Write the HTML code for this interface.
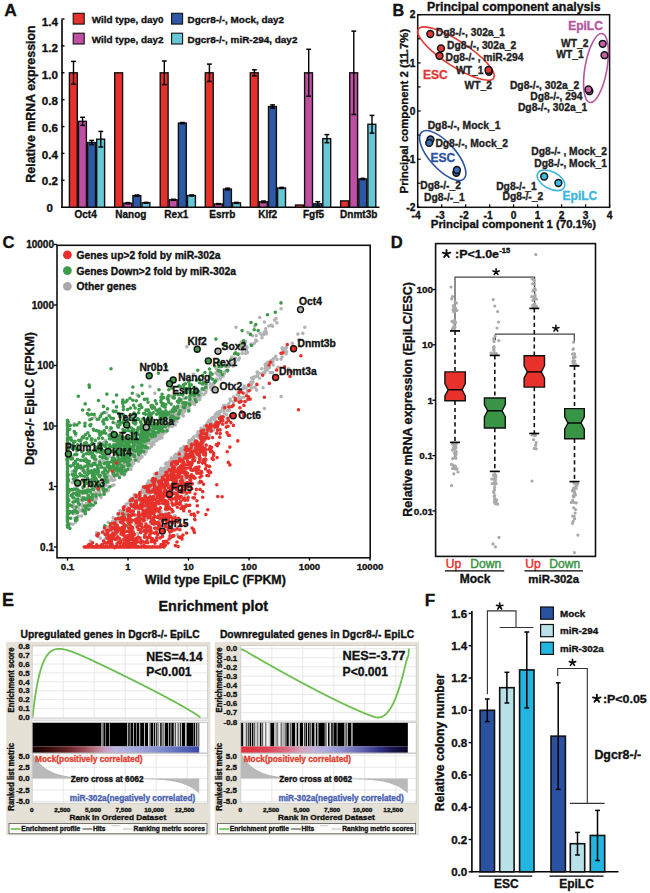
<!DOCTYPE html>
<html><head><meta charset="utf-8"><style>
html,body{margin:0;padding:0;background:#fff;}
svg{display:block;}
</style></head><body>
<svg width="650" height="893" viewBox="0 0 650 893">
<rect width="650" height="893" fill="#fff"/>
<g font-family='"Liberation Sans", sans-serif' font-weight="bold" fill="#111">
<text x="4.3" y="16.3" font-size="17.4" stroke="#111" stroke-width="0.34">A</text>
<rect x="73.20" y="13.30" width="11.00" height="10.80" fill="#e5302b" stroke="#111" stroke-width="1.1"/>
<rect x="73.20" y="33.20" width="11.00" height="10.80" fill="#c04ea3" stroke="#111" stroke-width="1.1"/>
<rect x="171.60" y="13.30" width="11.00" height="10.80" fill="#2c58a6" stroke="#111" stroke-width="1.1"/>
<rect x="171.60" y="33.20" width="11.00" height="10.80" fill="#66c8d6" stroke="#111" stroke-width="1.1"/>
<text x="91.7" y="22.9" font-size="9.9" stroke="#111" stroke-width="0.34">Wild type, day0</text>
<text x="91.7" y="43.0" font-size="9.9" stroke="#111" stroke-width="0.34">Wild type, day2</text>
<text x="187.5" y="22.9" font-size="9.95" stroke="#111" stroke-width="0.34">Dgcr8-/-, Mock, day2</text>
<text x="187.5" y="43.0" font-size="9.95" stroke="#111" stroke-width="0.34">Dgcr8-/-, miR-294, day2</text>
<line x1="62.0" y1="19.5" x2="62.0" y2="208.0" stroke="#000" stroke-width="1.6"/>
<line x1="61.2" y1="207.2" x2="379.5" y2="207.2" stroke="#000" stroke-width="1.6"/>
<text x="49.8" y="211.7" font-size="11.6" text-anchor="middle" stroke="#111" stroke-width="0.34">0</text>
<line x1="61.5" y1="180.3" x2="64.5" y2="180.3" stroke="#000" stroke-width="1.4"/>
<text x="49.8" y="185.1" font-size="11.6" text-anchor="middle" stroke="#111" stroke-width="0.34">0.2</text>
<line x1="61.5" y1="153.4" x2="64.5" y2="153.4" stroke="#000" stroke-width="1.4"/>
<text x="49.8" y="158.5" font-size="11.6" text-anchor="middle" stroke="#111" stroke-width="0.34">0.4</text>
<line x1="61.5" y1="126.6" x2="64.5" y2="126.6" stroke="#000" stroke-width="1.4"/>
<text x="49.8" y="131.9" font-size="11.6" text-anchor="middle" stroke="#111" stroke-width="0.34">0.6</text>
<line x1="61.5" y1="99.7" x2="64.5" y2="99.7" stroke="#000" stroke-width="1.4"/>
<text x="49.8" y="105.3" font-size="11.6" text-anchor="middle" stroke="#111" stroke-width="0.34">0.8</text>
<line x1="61.5" y1="72.8" x2="64.5" y2="72.8" stroke="#000" stroke-width="1.4"/>
<text x="49.8" y="78.8" font-size="11.6" text-anchor="middle" stroke="#111" stroke-width="0.34">1.0</text>
<line x1="61.5" y1="45.9" x2="64.5" y2="45.9" stroke="#000" stroke-width="1.4"/>
<text x="49.8" y="52.2" font-size="11.6" text-anchor="middle" stroke="#111" stroke-width="0.34">1.2</text>
<line x1="61.5" y1="19.0" x2="64.5" y2="19.0" stroke="#000" stroke-width="1.4"/>
<text x="49.8" y="25.6" font-size="11.6" text-anchor="middle" stroke="#111" stroke-width="0.34">1.4</text>
<text transform="translate(35.0,104.0) rotate(-90)" font-size="12.4" text-anchor="middle" stroke="#111" stroke-width="0.34">Relative mRNA expression</text>
<rect x="69.40" y="72.80" width="7.90" height="134.40" fill="#e5302b" stroke="#111" stroke-width="1.4"/>
<line x1="73.5" y1="61.4" x2="73.5" y2="84.2" stroke="#000" stroke-width="1.4"/>
<line x1="71.1" y1="61.4" x2="75.9" y2="61.4" stroke="#000" stroke-width="1.5"/>
<line x1="71.1" y1="84.2" x2="75.9" y2="84.2" stroke="#000" stroke-width="1.5"/>
<rect x="78.50" y="121.32" width="7.90" height="85.88" fill="#c04ea3" stroke="#111" stroke-width="1.4"/>
<line x1="82.6" y1="117.3" x2="82.6" y2="125.4" stroke="#000" stroke-width="1.4"/>
<line x1="80.2" y1="117.3" x2="85.0" y2="117.3" stroke="#000" stroke-width="1.5"/>
<line x1="80.2" y1="125.4" x2="85.0" y2="125.4" stroke="#000" stroke-width="1.5"/>
<rect x="87.60" y="142.55" width="7.90" height="64.65" fill="#2c58a6" stroke="#111" stroke-width="1.4"/>
<line x1="91.7" y1="140.4" x2="91.7" y2="144.7" stroke="#000" stroke-width="1.4"/>
<line x1="89.3" y1="140.4" x2="94.1" y2="140.4" stroke="#000" stroke-width="1.5"/>
<line x1="89.3" y1="144.7" x2="94.1" y2="144.7" stroke="#000" stroke-width="1.5"/>
<rect x="96.70" y="139.19" width="7.90" height="68.01" fill="#66c8d6" stroke="#111" stroke-width="1.4"/>
<line x1="100.8" y1="131.4" x2="100.8" y2="147.0" stroke="#000" stroke-width="1.4"/>
<line x1="98.4" y1="131.4" x2="103.2" y2="131.4" stroke="#000" stroke-width="1.5"/>
<line x1="98.4" y1="147.0" x2="103.2" y2="147.0" stroke="#000" stroke-width="1.5"/>
<text x="85.6" y="217.6" font-size="10.0" text-anchor="middle" stroke="#111" stroke-width="0.34">Oct4</text>
<rect x="114.70" y="72.80" width="7.90" height="134.40" fill="#e5302b" stroke="#111" stroke-width="1.4"/>
<rect x="123.80" y="203.17" width="7.90" height="4.03" fill="#c04ea3" stroke="#111" stroke-width="1.4"/>
<line x1="127.9" y1="202.6" x2="127.9" y2="203.7" stroke="#000" stroke-width="1.4"/>
<line x1="125.5" y1="202.6" x2="130.3" y2="202.6" stroke="#000" stroke-width="1.5"/>
<line x1="125.5" y1="203.7" x2="130.3" y2="203.7" stroke="#000" stroke-width="1.5"/>
<rect x="132.90" y="195.64" width="7.90" height="11.56" fill="#2c58a6" stroke="#111" stroke-width="1.4"/>
<line x1="137.0" y1="195.0" x2="137.0" y2="196.3" stroke="#000" stroke-width="1.4"/>
<line x1="134.6" y1="195.0" x2="139.4" y2="195.0" stroke="#000" stroke-width="1.5"/>
<line x1="134.6" y1="196.3" x2="139.4" y2="196.3" stroke="#000" stroke-width="1.5"/>
<rect x="142.00" y="202.76" width="7.90" height="4.44" fill="#66c8d6" stroke="#111" stroke-width="1.4"/>
<line x1="146.1" y1="202.4" x2="146.1" y2="203.2" stroke="#000" stroke-width="1.4"/>
<line x1="143.7" y1="202.4" x2="148.5" y2="202.4" stroke="#000" stroke-width="1.5"/>
<line x1="143.7" y1="203.2" x2="148.5" y2="203.2" stroke="#000" stroke-width="1.5"/>
<text x="130.8" y="217.6" font-size="10.0" text-anchor="middle" stroke="#111" stroke-width="0.34">Nanog</text>
<rect x="160.20" y="72.80" width="7.90" height="134.40" fill="#e5302b" stroke="#111" stroke-width="1.4"/>
<line x1="164.3" y1="61.0" x2="164.3" y2="84.6" stroke="#000" stroke-width="1.4"/>
<line x1="161.9" y1="61.0" x2="166.7" y2="61.0" stroke="#000" stroke-width="1.5"/>
<line x1="161.9" y1="84.6" x2="166.7" y2="84.6" stroke="#000" stroke-width="1.5"/>
<rect x="169.30" y="199.81" width="7.90" height="7.39" fill="#c04ea3" stroke="#111" stroke-width="1.4"/>
<line x1="173.4" y1="199.3" x2="173.4" y2="200.3" stroke="#000" stroke-width="1.4"/>
<line x1="171.0" y1="199.3" x2="175.8" y2="199.3" stroke="#000" stroke-width="1.5"/>
<line x1="171.0" y1="200.3" x2="175.8" y2="200.3" stroke="#000" stroke-width="1.5"/>
<rect x="178.40" y="123.07" width="7.90" height="84.13" fill="#2c58a6" stroke="#111" stroke-width="1.4"/>
<line x1="182.5" y1="122.5" x2="182.5" y2="123.6" stroke="#000" stroke-width="1.4"/>
<line x1="180.1" y1="122.5" x2="184.9" y2="122.5" stroke="#000" stroke-width="1.5"/>
<line x1="180.1" y1="123.6" x2="184.9" y2="123.6" stroke="#000" stroke-width="1.5"/>
<rect x="187.50" y="195.51" width="7.90" height="11.69" fill="#66c8d6" stroke="#111" stroke-width="1.4"/>
<line x1="191.6" y1="195.0" x2="191.6" y2="196.0" stroke="#000" stroke-width="1.4"/>
<line x1="189.2" y1="195.0" x2="194.0" y2="195.0" stroke="#000" stroke-width="1.5"/>
<line x1="189.2" y1="196.0" x2="194.0" y2="196.0" stroke="#000" stroke-width="1.5"/>
<text x="176.3" y="217.6" font-size="10.0" text-anchor="middle" stroke="#111" stroke-width="0.34">Rex1</text>
<rect x="205.30" y="72.80" width="7.90" height="134.40" fill="#e5302b" stroke="#111" stroke-width="1.4"/>
<line x1="209.4" y1="64.1" x2="209.4" y2="81.5" stroke="#000" stroke-width="1.4"/>
<line x1="207.0" y1="64.1" x2="211.8" y2="64.1" stroke="#000" stroke-width="1.5"/>
<line x1="207.0" y1="81.5" x2="211.8" y2="81.5" stroke="#000" stroke-width="1.5"/>
<rect x="214.40" y="203.97" width="7.90" height="3.23" fill="#c04ea3" stroke="#111" stroke-width="1.4"/>
<line x1="218.5" y1="203.6" x2="218.5" y2="204.4" stroke="#000" stroke-width="1.4"/>
<line x1="216.1" y1="203.6" x2="220.9" y2="203.6" stroke="#000" stroke-width="1.5"/>
<line x1="216.1" y1="204.4" x2="220.9" y2="204.4" stroke="#000" stroke-width="1.5"/>
<rect x="223.50" y="189.06" width="7.90" height="18.14" fill="#2c58a6" stroke="#111" stroke-width="1.4"/>
<line x1="227.6" y1="188.2" x2="227.6" y2="189.9" stroke="#000" stroke-width="1.4"/>
<line x1="225.2" y1="188.2" x2="230.0" y2="188.2" stroke="#000" stroke-width="1.5"/>
<line x1="225.2" y1="189.9" x2="230.0" y2="189.9" stroke="#000" stroke-width="1.5"/>
<rect x="232.60" y="202.90" width="7.90" height="4.30" fill="#66c8d6" stroke="#111" stroke-width="1.4"/>
<line x1="236.7" y1="202.4" x2="236.7" y2="203.4" stroke="#000" stroke-width="1.4"/>
<line x1="234.3" y1="202.4" x2="239.1" y2="202.4" stroke="#000" stroke-width="1.5"/>
<line x1="234.3" y1="203.4" x2="239.1" y2="203.4" stroke="#000" stroke-width="1.5"/>
<text x="222.3" y="217.6" font-size="10.0" text-anchor="middle" stroke="#111" stroke-width="0.34">Esrrb</text>
<rect x="250.30" y="72.80" width="7.90" height="134.40" fill="#e5302b" stroke="#111" stroke-width="1.4"/>
<line x1="254.4" y1="69.8" x2="254.4" y2="75.8" stroke="#000" stroke-width="1.4"/>
<line x1="252.0" y1="69.8" x2="256.8" y2="69.8" stroke="#000" stroke-width="1.5"/>
<line x1="252.0" y1="75.8" x2="256.8" y2="75.8" stroke="#000" stroke-width="1.5"/>
<rect x="259.40" y="201.82" width="7.90" height="5.38" fill="#c04ea3" stroke="#111" stroke-width="1.4"/>
<line x1="263.5" y1="201.0" x2="263.5" y2="202.6" stroke="#000" stroke-width="1.4"/>
<line x1="261.1" y1="201.0" x2="265.9" y2="201.0" stroke="#000" stroke-width="1.5"/>
<line x1="261.1" y1="202.6" x2="265.9" y2="202.6" stroke="#000" stroke-width="1.5"/>
<rect x="268.50" y="106.53" width="7.90" height="100.67" fill="#2c58a6" stroke="#111" stroke-width="1.4"/>
<line x1="272.6" y1="104.9" x2="272.6" y2="108.1" stroke="#000" stroke-width="1.4"/>
<line x1="270.2" y1="104.9" x2="275.0" y2="104.9" stroke="#000" stroke-width="1.5"/>
<line x1="270.2" y1="108.1" x2="275.0" y2="108.1" stroke="#000" stroke-width="1.5"/>
<rect x="277.60" y="187.98" width="7.90" height="19.22" fill="#66c8d6" stroke="#111" stroke-width="1.4"/>
<line x1="281.7" y1="187.4" x2="281.7" y2="188.5" stroke="#000" stroke-width="1.4"/>
<line x1="279.3" y1="187.4" x2="284.1" y2="187.4" stroke="#000" stroke-width="1.5"/>
<line x1="279.3" y1="188.5" x2="284.1" y2="188.5" stroke="#000" stroke-width="1.5"/>
<text x="267.7" y="217.6" font-size="10.0" text-anchor="middle" stroke="#111" stroke-width="0.34">Klf2</text>
<rect x="295.50" y="205.05" width="7.90" height="2.15" fill="#e5302b" stroke="#111" stroke-width="1.4"/>
<rect x="304.60" y="72.80" width="7.90" height="134.40" fill="#c04ea3" stroke="#111" stroke-width="1.4"/>
<line x1="308.7" y1="49.3" x2="308.7" y2="96.3" stroke="#000" stroke-width="1.4"/>
<line x1="306.3" y1="49.3" x2="311.1" y2="49.3" stroke="#000" stroke-width="1.5"/>
<line x1="306.3" y1="96.3" x2="311.1" y2="96.3" stroke="#000" stroke-width="1.5"/>
<rect x="313.70" y="203.84" width="7.90" height="3.36" fill="#2c58a6" stroke="#111" stroke-width="1.4"/>
<line x1="317.8" y1="201.7" x2="317.8" y2="206.0" stroke="#000" stroke-width="1.4"/>
<line x1="315.4" y1="201.7" x2="320.2" y2="201.7" stroke="#000" stroke-width="1.5"/>
<line x1="315.4" y1="206.0" x2="320.2" y2="206.0" stroke="#000" stroke-width="1.5"/>
<rect x="322.80" y="138.66" width="7.90" height="68.54" fill="#66c8d6" stroke="#111" stroke-width="1.4"/>
<line x1="326.9" y1="134.6" x2="326.9" y2="142.7" stroke="#000" stroke-width="1.4"/>
<line x1="324.5" y1="134.6" x2="329.3" y2="134.6" stroke="#000" stroke-width="1.5"/>
<line x1="324.5" y1="142.7" x2="329.3" y2="142.7" stroke="#000" stroke-width="1.5"/>
<text x="313.5" y="217.6" font-size="10.0" text-anchor="middle" stroke="#111" stroke-width="0.34">Fgf5</text>
<rect x="340.60" y="200.88" width="7.90" height="6.32" fill="#e5302b" stroke="#111" stroke-width="1.4"/>
<rect x="349.70" y="72.80" width="7.90" height="134.40" fill="#c04ea3" stroke="#111" stroke-width="1.4"/>
<line x1="353.8" y1="31.1" x2="353.8" y2="114.5" stroke="#000" stroke-width="1.4"/>
<line x1="351.4" y1="31.1" x2="356.2" y2="31.1" stroke="#000" stroke-width="1.5"/>
<line x1="351.4" y1="114.5" x2="356.2" y2="114.5" stroke="#000" stroke-width="1.5"/>
<rect x="358.80" y="178.98" width="7.90" height="28.22" fill="#2c58a6" stroke="#111" stroke-width="1.4"/>
<line x1="362.9" y1="178.4" x2="362.9" y2="179.5" stroke="#000" stroke-width="1.4"/>
<line x1="360.5" y1="178.4" x2="365.3" y2="178.4" stroke="#000" stroke-width="1.5"/>
<line x1="360.5" y1="179.5" x2="365.3" y2="179.5" stroke="#000" stroke-width="1.5"/>
<rect x="367.90" y="124.28" width="7.90" height="82.92" fill="#66c8d6" stroke="#111" stroke-width="1.4"/>
<line x1="372.0" y1="115.4" x2="372.0" y2="133.1" stroke="#000" stroke-width="1.4"/>
<line x1="369.6" y1="115.4" x2="374.4" y2="115.4" stroke="#000" stroke-width="1.5"/>
<line x1="369.6" y1="133.1" x2="374.4" y2="133.1" stroke="#000" stroke-width="1.5"/>
<text x="358.7" y="217.6" font-size="10.0" text-anchor="middle" stroke="#111" stroke-width="0.34">Dnmt3b</text>
<text x="392.4" y="16.0" font-size="16.2" stroke="#111" stroke-width="0.34">B</text>
<text x="427.0" y="11.4" font-size="12.3" stroke="#111" stroke-width="0.34">Principal component analysis</text>
<rect x="417.70" y="14.70" width="191.90" height="192.60" fill="none" stroke="#111" stroke-width="1.5"/>
<line x1="417.7" y1="207.3" x2="417.7" y2="204.3" stroke="#000" stroke-width="1.2"/>
<text x="416.1" y="218.5" font-size="10.2" text-anchor="middle" stroke="#111" stroke-width="0.34">-4</text>
<line x1="441.7" y1="207.3" x2="441.7" y2="204.3" stroke="#000" stroke-width="1.2"/>
<text x="440.1" y="218.5" font-size="10.2" text-anchor="middle" stroke="#111" stroke-width="0.34">-3</text>
<line x1="465.7" y1="207.3" x2="465.7" y2="204.3" stroke="#000" stroke-width="1.2"/>
<text x="464.1" y="218.5" font-size="10.2" text-anchor="middle" stroke="#111" stroke-width="0.34">-2</text>
<line x1="489.7" y1="207.3" x2="489.7" y2="204.3" stroke="#000" stroke-width="1.2"/>
<text x="488.1" y="218.5" font-size="10.2" text-anchor="middle" stroke="#111" stroke-width="0.34">-1</text>
<line x1="513.6" y1="207.3" x2="513.6" y2="204.3" stroke="#000" stroke-width="1.2"/>
<text x="513.6" y="218.5" font-size="10.2" text-anchor="middle" stroke="#111" stroke-width="0.34">0</text>
<line x1="537.6" y1="207.3" x2="537.6" y2="204.3" stroke="#000" stroke-width="1.2"/>
<text x="537.6" y="218.5" font-size="10.2" text-anchor="middle" stroke="#111" stroke-width="0.34">1</text>
<line x1="561.6" y1="207.3" x2="561.6" y2="204.3" stroke="#000" stroke-width="1.2"/>
<text x="561.6" y="218.5" font-size="10.2" text-anchor="middle" stroke="#111" stroke-width="0.34">2</text>
<line x1="585.6" y1="207.3" x2="585.6" y2="204.3" stroke="#000" stroke-width="1.2"/>
<text x="585.6" y="218.5" font-size="10.2" text-anchor="middle" stroke="#111" stroke-width="0.34">3</text>
<line x1="609.6" y1="207.3" x2="609.6" y2="204.3" stroke="#000" stroke-width="1.2"/>
<text x="609.6" y="218.5" font-size="10.2" text-anchor="middle" stroke="#111" stroke-width="0.34">4</text>
<line x1="417.7" y1="207.3" x2="420.7" y2="207.3" stroke="#000" stroke-width="1.2"/>
<text x="415.3" y="211.0" font-size="10.2" text-anchor="end" stroke="#111" stroke-width="0.34">-2</text>
<line x1="417.7" y1="183.2" x2="420.7" y2="183.2" stroke="#000" stroke-width="1.2"/>
<line x1="417.7" y1="159.2" x2="420.7" y2="159.2" stroke="#000" stroke-width="1.2"/>
<text x="415.3" y="162.8" font-size="10.2" text-anchor="end" stroke="#111" stroke-width="0.34">-1</text>
<line x1="417.7" y1="135.1" x2="420.7" y2="135.1" stroke="#000" stroke-width="1.2"/>
<line x1="417.7" y1="111.0" x2="420.7" y2="111.0" stroke="#000" stroke-width="1.2"/>
<text x="415.3" y="114.7" font-size="10.2" text-anchor="end" stroke="#111" stroke-width="0.34">0</text>
<line x1="417.7" y1="86.9" x2="420.7" y2="86.9" stroke="#000" stroke-width="1.2"/>
<line x1="417.7" y1="62.9" x2="420.7" y2="62.9" stroke="#000" stroke-width="1.2"/>
<text x="415.3" y="66.6" font-size="10.2" text-anchor="end" stroke="#111" stroke-width="0.34">1</text>
<line x1="417.7" y1="38.8" x2="420.7" y2="38.8" stroke="#000" stroke-width="1.2"/>
<line x1="417.7" y1="14.7" x2="420.7" y2="14.7" stroke="#000" stroke-width="1.2"/>
<text x="415.3" y="18.4" font-size="10.2" text-anchor="end" stroke="#111" stroke-width="0.34">2</text>
<text x="513.4" y="228.0" font-size="11.4" text-anchor="middle" stroke="#111" stroke-width="0.34">Principal component 1 (70.1%)</text>
<text transform="translate(407.9,111.1) rotate(-90)" font-size="11.4" text-anchor="middle" stroke="#111" stroke-width="0.34">Principal component 2 (11.7%)</text>
<ellipse cx="456" cy="53.6" rx="45" ry="12.5" transform="rotate(33 456 53.6)" fill="none" stroke="#e03a36" stroke-width="1.6"/>
<ellipse cx="596" cy="68" rx="35" ry="11" transform="rotate(-80 596 68)" fill="none" stroke="#b5559f" stroke-width="1.6"/>
<ellipse cx="442.7" cy="155.6" rx="31.5" ry="13" transform="rotate(48 442.7 155.6)" fill="none" stroke="#2d54a0" stroke-width="1.6"/>
<ellipse cx="551" cy="180.3" rx="15" ry="8.5" transform="rotate(28 551 180.3)" fill="none" stroke="#3cb6dc" stroke-width="1.6"/>
<circle cx="430.3" cy="34" r="3.4" fill="#e03a36" stroke="#111" stroke-width="1.5"/>
<circle cx="441" cy="48.4" r="3.4" fill="#e03a36" stroke="#111" stroke-width="1.5"/>
<circle cx="439.5" cy="55.8" r="3.4" fill="#e03a36" stroke="#111" stroke-width="1.5"/>
<circle cx="489" cy="71.8" r="3.4" fill="#e03a36" stroke="#111" stroke-width="1.5"/>
<circle cx="488.5" cy="70" r="3.4" fill="#e03a36" stroke="#111" stroke-width="1.5"/>
<circle cx="602.7" cy="43.8" r="3.4" fill="#c65ea8" stroke="#111" stroke-width="1.5"/>
<circle cx="604.5" cy="55.2" r="3.4" fill="#c65ea8" stroke="#111" stroke-width="1.5"/>
<circle cx="589.4" cy="91.2" r="3.4" fill="#c65ea8" stroke="#111" stroke-width="1.5"/>
<circle cx="588.5" cy="89.4" r="3.4" fill="#c65ea8" stroke="#111" stroke-width="1.5"/>
<circle cx="430.5" cy="139.5" r="3.4" fill="#3a6bb5" stroke="#111" stroke-width="1.5"/>
<circle cx="429.2" cy="142.9" r="3.4" fill="#3a6bb5" stroke="#111" stroke-width="1.5"/>
<circle cx="456.3" cy="172.8" r="3.4" fill="#3a6bb5" stroke="#111" stroke-width="1.5"/>
<circle cx="456.9" cy="170" r="3.4" fill="#3a6bb5" stroke="#111" stroke-width="1.5"/>
<circle cx="544.2" cy="176.5" r="3.4" fill="#3bbde0" stroke="#111" stroke-width="1.5"/>
<circle cx="558.4" cy="183" r="3.4" fill="#3bbde0" stroke="#111" stroke-width="1.5"/>
<text x="435.8" y="35.9" font-size="10.3" fill="#222" stroke="#222" stroke-width="0.34">Dg8-/-, 302a_1</text>
<text x="447.0" y="48.7" font-size="10.3" fill="#222" stroke="#222" stroke-width="0.34">Dg8-/-, 302a_2</text>
<text x="445.6" y="61.1" font-size="10.3" fill="#222" stroke="#222" stroke-width="0.34">Dg8-/- , miR-294</text>
<text x="456.0" y="73.7" font-size="10.3" fill="#222" stroke="#222" stroke-width="0.34">WT_1</text>
<text x="464.5" y="89.4" font-size="10.3" fill="#222" stroke="#222" stroke-width="0.34">WT_2</text>
<text x="588.5" y="46.6" font-size="10.3" text-anchor="end" fill="#222" stroke="#222" stroke-width="0.34">WT_2</text>
<text x="583.8" y="58.0" font-size="10.3" text-anchor="end" fill="#222" stroke="#222" stroke-width="0.34">WT_1</text>
<text x="579.2" y="88.5" font-size="10.3" text-anchor="end" fill="#222" stroke="#222" stroke-width="0.34">Dg8-/-, 302a_2</text>
<text x="582.4" y="100.1" font-size="10.3" text-anchor="end" fill="#222" stroke="#222" stroke-width="0.34">Dg8-/-, 294</text>
<text x="587.2" y="110.6" font-size="10.3" text-anchor="end" fill="#222" stroke="#222" stroke-width="0.34">Dg8-/-, 302a_1</text>
<text x="427.7" y="128.8" font-size="10.3" fill="#222" stroke="#222" stroke-width="0.34">Dg8-/-, Mock_1</text>
<text x="435.4" y="146.6" font-size="10.3" fill="#222" stroke="#222" stroke-width="0.34">Dg8-/-, Mock_2</text>
<text x="420.3" y="189.0" font-size="10.3" fill="#222" stroke="#222" stroke-width="0.34">Dg8-/-_2</text>
<text x="424.0" y="201.4" font-size="10.3" fill="#222" stroke="#222" stroke-width="0.34">Dg8-/-_1</text>
<text x="606.9" y="154.6" font-size="10.3" text-anchor="end" fill="#222" stroke="#222" stroke-width="0.34">Dg8-/- , Mock_2</text>
<text x="606.9" y="166.6" font-size="10.3" text-anchor="end" fill="#222" stroke="#222" stroke-width="0.34">Dg8-/-, Mock_1</text>
<text x="536.8" y="190.0" font-size="10.3" text-anchor="end" fill="#222" stroke="#222" stroke-width="0.34">Dg8-/-_1</text>
<text x="543.2" y="199.8" font-size="10.3" text-anchor="end" fill="#222" stroke="#222" stroke-width="0.34">Dg8-/-_2</text>
<text x="423.0" y="78.5" font-size="12.0" fill="#e03a36" stroke="#e03a36" stroke-width="0.34">ESC</text>
<text x="568.2" y="30.0" font-size="12.0" fill="#b5559f" stroke="#b5559f" stroke-width="0.34">EpiLC</text>
<text x="430.5" y="161.9" font-size="12.0" fill="#2d54a0" stroke="#2d54a0" stroke-width="0.34">ESC</text>
<text x="562.6" y="199.8" font-size="12.0" fill="#3cb6dc" stroke="#3cb6dc" stroke-width="0.34">EpiLC</text>
<text x="2.6" y="247.6" font-size="16.6" stroke="#111" stroke-width="0.34">C</text>
<path d="M173.2 459.5h0M167.6 465.7h0M118.4 467.2h0M156.7 481.9h0M138.7 509.9h0M223.5 405.8h0M130.5 547.0h0M91.2 499.6h0M203.8 389.1h0M173.1 421.7h0M179.6 413.2h0M116.9 521.2h0M147.5 513.4h0M181.9 458.1h0M198.1 399.0h0M174.5 458.0h0M81.9 504.0h0M91.1 480.4h0M179.9 452.5h0M112.5 526.8h0M68.8 452.1h0M142.5 450.0h0M183.3 415.9h0M162.6 428.9h0M206.5 433.5h0M92.5 542.6h0M131.8 451.9h0M152.8 484.1h0M172.2 462.4h0M157.9 436.5h0M189.0 402.0h0M76.0 454.0h0M230.1 399.0h0M167.4 501.7h0M154.3 480.1h0M187.6 407.8h0M179.9 411.5h0M211.3 425.2h0M165.4 468.9h0M262.0 337.7h0M135.1 456.4h0M144.9 500.2h0M95.1 478.0h0M120.5 447.6h0M214.4 419.7h0M160.3 427.6h0M91.2 499.8h0M195.1 455.0h0M254.3 343.3h0M239.6 397.3h0M216.7 415.6h0M131.5 455.7h0M177.4 459.8h0M282.2 347.9h0M221.9 376.5h0M161.6 435.9h0M82.3 500.2h0M156.4 485.4h0M162.9 545.5h0M225.6 366.4h0M131.4 462.5h0M121.0 539.7h0M161.2 485.2h0M275.7 356.4h0M101.1 497.4h0M190.7 397.2h0M181.8 451.4h0M144.9 496.0h0M206.0 391.0h0M188.6 407.9h0M67.5 516.5h0M248.0 332.6h0M123.8 528.9h0M251.4 388.1h0M159.6 491.1h0M175.2 475.9h0M159.8 438.4h0M156.5 438.5h0M117.9 463.3h0M168.0 424.9h0M277.0 359.4h0M198.2 431.9h0M161.9 468.8h0M266.5 333.7h0M165.6 473.4h0M151.8 491.7h0M96.6 532.9h0M184.8 479.4h0M83.4 492.5h0M138.0 533.5h0M137.7 452.3h0M203.0 443.2h0M114.4 474.6h0M171.0 486.0h0M169.0 524.3h0M80.4 482.4h0M124.1 475.1h0M212.5 417.5h0M217.6 372.8h0M209.2 429.9h0M187.2 447.5h0M143.3 498.8h0M194.5 404.4h0M174.3 463.5h0M171.7 415.0h0M183.9 410.0h0M90.1 503.1h0M172.5 463.1h0M225.2 364.9h0M170.2 461.1h0M174.0 420.1h0M72.0 448.8h0M159.1 437.4h0M148.9 432.8h0M157.1 439.3h0M180.7 450.5h0M206.6 425.4h0M109.0 480.5h0M168.7 467.3h0M219.6 412.5h0M102.3 532.6h0M119.8 510.7h0M276.9 322.9h0M146.5 488.6h0M209.0 423.3h0M197.1 450.0h0M115.8 532.7h0M210.5 431.4h0M148.9 438.5h0M131.8 465.7h0M134.7 449.9h0M181.3 400.6h0M182.3 449.3h0M206.2 438.4h0M242.2 353.4h0M152.6 438.1h0M233.7 396.8h0M147.1 527.4h0M143.2 487.6h0M286.1 347.9h0M225.6 365.5h0M127.4 507.9h0M79.8 492.7h0M139.4 505.2h0M75.9 513.4h0M88.8 509.3h0M204.7 389.7h0M78.6 499.2h0M298.7 340.2h0M184.9 409.9h0M115.1 467.7h0M292.7 345.5h0M286.6 347.1h0M137.6 431.4h0M206.3 430.9h0M152.3 478.8h0M250.7 385.9h0M92.7 546.4h0M204.3 389.2h0M177.2 418.4h0M224.0 412.9h0M188.4 496.9h0M74.6 518.2h0M184.1 454.3h0M215.1 422.9h0M174.3 398.0h0M106.3 467.9h0M155.7 475.0h0M182.5 408.5h0M95.8 494.9h0M246.4 349.9h0M109.6 430.4h0M116.0 443.2h0M157.1 475.8h0M145.3 490.3h0M105.9 483.7h0M104.2 545.6h0M158.6 421.9h0M143.1 502.3h0M173.3 419.1h0M160.6 432.9h0M116.3 522.4h0M130.4 462.6h0M165.8 431.9h0M194.3 403.4h0M126.0 460.4h0M168.0 470.2h0M251.3 384.6h0M219.3 373.0h0M84.9 483.8h0M177.8 458.6h0M169.8 416.8h0M246.5 346.5h0M207.7 423.9h0M183.3 407.8h0M241.7 346.9h0M129.9 465.6h0M146.7 519.4h0M125.3 518.6h0M282.7 349.5h0M240.6 399.0h0M153.9 482.4h0M149.1 435.2h0M118.7 475.3h0M123.0 464.4h0M181.7 448.9h0M195.9 458.0h0M240.5 390.7h0M194.6 403.9h0M86.2 503.5h0M127.4 465.7h0M168.1 463.7h0M135.2 524.6h0M126.1 504.4h0M89.0 454.0h0M76.3 486.1h0M151.4 434.6h0M210.1 427.4h0M80.3 445.2h0M229.6 410.0h0M211.0 419.5h0M102.3 489.6h0M116.7 461.9h0M258.9 373.4h0M113.2 517.8h0M158.7 482.5h0M201.1 392.9h0M297.9 334.1h0M103.6 494.3h0M184.3 406.9h0M252.1 383.0h0M192.8 438.4h0M167.1 430.9h0M89.1 499.5h0M163.7 504.0h0M219.9 376.6h0M98.8 533.6h0M200.2 433.9h0M144.6 452.8h0M149.3 442.6h0M149.9 386.4h0M168.0 463.7h0M230.7 364.4h0M96.2 497.6h0M174.0 463.7h0M267.4 369.7h0M155.2 478.5h0M115.0 467.7h0M205.9 427.8h0M72.3 482.8h0M185.5 449.2h0M153.1 480.6h0M167.8 521.6h0M140.9 423.0h0M248.8 386.0h0M154.0 497.8h0M191.1 400.3h0M256.2 376.5h0M182.6 415.3h0M147.4 507.1h0M107.1 455.5h0M160.3 475.6h0M137.7 497.1h0M144.1 452.1h0M147.8 438.3h0M90.5 541.0h0M124.7 518.1h0M107.7 536.2h0M199.7 397.9h0M267.2 366.8h0M133.1 451.0h0M138.2 523.2h0M160.7 517.5h0M75.6 522.2h0M134.2 494.9h0M154.7 437.6h0M170.4 469.3h0M108.1 522.2h0M134.0 497.7h0M142.2 491.2h0M127.8 542.5h0M211.3 422.7h0M204.0 394.5h0M161.7 470.6h0M100.5 486.2h0M111.6 433.9h0M97.1 493.0h0M264.2 332.1h0M167.5 428.9h0M72.8 524.3h0M150.0 487.4h0M95.6 500.0h0M133.4 507.3h0M116.5 468.4h0M105.3 440.3h0M189.7 396.7h0M204.1 384.2h0M245.7 353.5h0M72.0 456.3h0M179.4 410.7h0M173.6 469.4h0M191.6 403.5h0M80.5 481.6h0M227.7 410.8h0M189.8 446.7h0M213.4 430.1h0M151.4 446.6h0M92.0 493.7h0M82.6 482.0h0M172.0 425.7h0M190.5 440.3h0M219.6 370.1h0M150.0 515.1h0M125.4 464.0h0M183.4 462.3h0M223.9 365.5h0M304.8 327.3h0M149.4 497.6h0M153.1 498.0h0M72.2 471.5h0M140.7 444.7h0M129.0 450.0h0M143.1 513.1h0M189.0 440.7h0M138.7 507.7h0M115.1 469.0h0M116.0 538.8h0M218.3 416.2h0M239.4 402.5h0M123.8 459.7h0M181.8 406.1h0M150.0 493.5h0M181.9 414.0h0M244.4 388.0h0M156.7 475.2h0M106.0 485.6h0M130.6 502.6h0M197.0 400.1h0M220.6 416.9h0M118.1 519.4h0M94.0 480.0h0M79.1 505.0h0M135.0 454.8h0M67.5 465.1h0M110.2 480.0h0M156.0 480.6h0M91.2 439.3h0M222.4 408.3h0M101.8 494.3h0M74.0 447.7h0M139.0 442.3h0M212.0 424.3h0M207.0 426.3h0M138.2 461.3h0M162.8 433.0h0M188.2 456.7h0M156.2 474.2h0M244.4 348.5h0M239.4 358.1h0M141.3 452.5h0M209.5 435.3h0M71.5 512.0h0M145.0 507.5h0M264.4 408.6h0M114.1 476.3h0M102.9 479.0h0M96.2 471.9h0M158.4 476.9h0M125.2 513.8h0M182.3 451.0h0M151.0 444.1h0M108.7 547.0h0M211.6 418.2h0M131.1 520.6h0M143.6 544.3h0M73.4 504.8h0M163.4 430.7h0M135.2 515.4h0M155.0 433.4h0M138.6 460.4h0M106.8 474.2h0M100.0 460.8h0M130.5 504.8h0M224.9 405.9h0M140.8 442.0h0M141.8 492.5h0M184.5 449.3h0M124.1 470.2h0M134.2 501.1h0M207.9 430.7h0M151.7 488.2h0M184.4 405.4h0M179.1 452.3h0M196.9 451.5h0M67.5 458.1h0M184.7 404.1h0M198.6 483.1h0M119.8 462.5h0M155.9 440.5h0M167.4 426.5h0M94.8 477.3h0M145.2 447.6h0M136.1 502.6h0M192.9 451.1h0M104.3 529.1h0M235.3 358.2h0M139.8 455.1h0M158.7 514.1h0M83.0 493.4h0M121.4 517.4h0M175.1 515.5h0M172.1 426.4h0M159.3 479.8h0M115.5 519.4h0M197.1 397.3h0M272.5 372.6h0M157.1 547.0h0M79.0 509.7h0M177.3 534.8h0M209.0 420.3h0M158.5 487.0h0M160.8 477.5h0M178.6 415.7h0M233.2 366.1h0M164.9 467.7h0M116.9 446.7h0M247.3 390.8h0M237.1 399.8h0M141.7 525.4h0M189.9 398.3h0M207.4 433.0h0M170.3 473.1h0M256.8 375.8h0M189.4 445.0h0M174.0 460.0h0M168.7 470.3h0M273.4 358.8h0M118.5 473.0h0M228.5 366.6h0M148.8 481.1h0M114.0 485.0h0M213.8 386.1h0M139.5 493.2h0M154.9 474.2h0M172.1 422.2h0M128.4 467.0h0M251.7 381.9h0M250.8 344.1h0M177.0 457.2h0M153.1 490.4h0M283.4 348.6h0M133.7 461.0h0M187.5 404.8h0M189.4 447.6h0M120.5 520.4h0M219.8 412.0h0M136.9 516.6h0M157.4 500.9h0M203.0 429.4h0M223.9 410.8h0M148.6 492.4h0M125.2 462.3h0M179.3 458.7h0M183.4 456.0h0M158.2 472.7h0M158.8 478.4h0M202.9 431.9h0M251.7 378.1h0M210.3 383.9h0M133.3 509.9h0M93.5 547.0h0M154.1 490.8h0M217.8 374.9h0M189.9 442.7h0M81.2 505.1h0M160.7 470.6h0M272.6 326.2h0M166.0 513.1h0M172.3 421.8h0M140.7 503.4h0M132.1 515.5h0M216.3 368.7h0M165.7 427.1h0M216.0 417.1h0M121.6 471.1h0M70.4 523.8h0M140.0 505.5h0M227.6 410.8h0M226.3 406.2h0M136.8 517.9h0M265.5 364.1h0M175.2 425.0h0M198.5 436.4h0M173.9 536.2h0M142.2 451.5h0M171.2 512.3h0M111.7 477.0h0M134.8 448.1h0M132.3 456.5h0M168.0 483.2h0M125.4 454.8h0M200.9 390.6h0M80.8 500.0h0M124.3 445.6h0M133.7 503.6h0M162.5 477.3h0M146.3 487.9h0M103.5 489.1h0M173.3 464.6h0M271.1 360.5h0M138.4 510.9h0M259.5 378.3h0M265.2 364.9h0M224.2 373.8h0M119.9 466.6h0M265.5 365.8h0M207.0 433.3h0M178.1 454.6h0M108.4 466.4h0M220.5 378.9h0M184.0 412.1h0M118.6 513.4h0M80.6 510.1h0M138.6 505.4h0M213.6 427.8h0M140.8 453.6h0M108.7 481.2h0M118.3 514.9h0M118.1 541.5h0M119.0 515.0h0M192.2 396.6h0M154.4 516.1h0M199.8 459.7h0M197.7 449.1h0M263.5 372.8h0M147.9 493.5h0M79.5 511.0h0M176.4 414.8h0M114.7 459.5h0M139.6 517.1h0M203.0 439.0h0M196.1 446.6h0M172.7 414.2h0M133.5 448.4h0M134.0 460.3h0M158.7 437.6h0M189.9 446.2h0M229.2 407.0h0M127.6 462.1h0M126.2 464.4h0M160.1 475.3h0M198.0 432.8h0M135.7 441.6h0M144.6 493.2h0M67.5 459.9h0M238.6 394.2h0M130.3 533.7h0M122.3 511.4h0M263.0 387.8h0M149.2 486.8h0M178.9 456.3h0M106.5 536.3h0M223.1 376.1h0M115.8 473.7h0M269.1 362.3h0M194.0 442.3h0M251.8 344.7h0M103.6 461.6h0M207.0 423.4h0M163.6 471.6h0M180.8 457.2h0M220.4 411.4h0M108.4 487.3h0M182.7 412.7h0M124.0 547.0h0M150.6 428.6h0M199.0 437.2h0M218.6 414.4h0M204.5 433.2h0M185.6 504.6h0M175.4 460.3h0M158.0 547.0h0M187.3 407.7h0M173.6 422.3h0M116.6 524.0h0M117.6 514.1h0M288.5 368.9h0M210.4 374.1h0M197.1 435.1h0M153.6 483.8h0M142.5 441.2h0M224.6 372.1h0M83.8 505.8h0M188.2 446.1h0M149.9 525.0h0M184.0 446.4h0M175.5 416.3h0M154.8 489.8h0M250.8 389.6h0M176.2 421.3h0M139.4 454.4h0M202.1 428.9h0M173.6 425.1h0M133.6 463.5h0M136.7 458.4h0M170.9 396.0h0M183.5 470.6h0M257.3 372.5h0M98.8 536.6h0M224.5 405.2h0M178.2 457.4h0M80.3 484.3h0M202.3 434.5h0M141.1 456.1h0M134.3 453.7h0M147.0 493.5h0M188.0 448.7h0M188.7 442.8h0M217.2 379.9h0M96.6 547.1h0M264.3 334.3h0M125.7 512.9h0M254.7 387.2h0M133.6 512.8h0M204.2 431.9h0M156.1 474.1h0M154.5 492.6h0M149.5 514.7h0M184.6 453.0h0M144.8 449.3h0M190.0 443.9h0M233.6 404.1h0M241.3 342.0h0M105.2 539.0h0M246.9 392.8h0M286.7 351.8h0M89.4 491.2h0M138.8 457.5h0M222.4 418.3h0M148.7 489.8h0M160.5 474.3h0M82.3 470.5h0M146.3 443.7h0M215.1 414.8h0M163.9 469.1h0M237.3 394.8h0M144.9 453.9h0M178.6 408.5h0M215.1 416.8h0M78.5 516.0h0M188.7 445.9h0M150.5 481.4h0M268.4 367.1h0M81.6 497.2h0M147.5 483.5h0M151.8 438.9h0M238.6 353.8h0M185.2 494.7h0M209.9 429.1h0M206.6 388.4h0M220.6 371.7h0M82.4 511.2h0M99.5 492.1h0M204.8 439.7h0M130.3 500.5h0M116.9 518.9h0M94.0 496.6h0M277.9 367.2h0M159.0 474.2h0M201.1 428.3h0M72.2 505.5h0M227.2 371.0h0M96.0 461.6h0M222.6 409.7h0M146.4 451.6h0M162.6 433.9h0M242.6 388.7h0M118.1 444.6h0M137.0 526.7h0M283.9 349.8h0M216.1 421.1h0M188.8 408.5h0M152.6 485.5h0M157.9 474.0h0M112.8 524.8h0M99.6 483.6h0M127.1 547.0h0M246.1 387.7h0M227.1 418.7h0M112.7 521.3h0M259.7 317.5h0M151.9 501.2h0M266.9 369.4h0M196.9 435.4h0M109.5 456.4h0M255.9 340.1h0M145.6 494.2h0M193.7 439.6h0M73.6 507.9h0M131.8 466.1h0M202.6 444.7h0M194.5 448.6h0M156.5 536.7h0M165.3 486.5h0M164.2 469.2h0M103.2 487.9h0M161.4 472.0h0M210.1 378.3h0M130.8 469.4h0M176.2 464.0h0M206.7 385.4h0M168.5 467.5h0M141.2 499.7h0M219.3 374.5h0M108.9 475.8h0M104.1 493.9h0M168.0 474.2h0M112.4 485.6h0M127.4 547.0h0M140.0 458.4h0M110.2 447.3h0M162.1 471.3h0M155.9 527.2h0M134.4 450.9h0M134.9 499.5h0M197.5 436.2h0M165.7 474.5h0M95.4 488.3h0M139.6 493.5h0M93.5 501.1h0M131.6 531.2h0M211.5 384.6h0M139.8 447.6h0M264.8 373.1h0M175.6 414.9h0M172.1 459.7h0M137.2 394.9h0M235.3 361.6h0M94.8 460.5h0M191.5 447.1h0M85.8 509.8h0M103.6 442.8h0M212.6 385.0h0M205.8 392.5h0M154.2 487.3h0M196.7 440.8h0M153.7 442.3h0M77.6 511.3h0M138.8 450.8h0M84.2 512.7h0M267.1 364.2h0M118.1 529.8h0M302.8 333.4h0M132.5 503.3h0M125.8 518.9h0M172.0 462.8h0M74.4 423.7h0M163.5 422.0h0M108.2 482.6h0M154.8 393.3h0M246.0 352.0h0M182.4 411.6h0M128.7 502.7h0M160.3 483.9h0M149.1 533.7h0M151.1 518.9h0M82.9 507.9h0M120.1 530.5h0M266.1 331.8h0M171.2 462.4h0M165.9 423.2h0M284.5 351.0h0M143.8 439.3h0M245.5 341.8h0M130.6 454.6h0M168.7 471.8h0M153.0 504.9h0M115.0 526.7h0M131.5 498.4h0M89.0 464.9h0M69.1 491.8h0M233.7 401.7h0M182.9 448.0h0M179.9 453.5h0M156.6 440.6h0M210.4 420.3h0M265.4 368.0h0M99.1 468.2h0M276.1 318.6h0M118.7 516.4h0M174.3 516.2h0M196.0 393.5h0M281.1 308.7h0M256.6 390.1h0M180.8 448.8h0M151.5 425.2h0M168.1 463.4h0M155.6 437.3h0M236.0 327.3h0M216.2 372.7h0M161.8 429.1h0M216.7 379.0h0M164.6 415.5h0M183.1 457.6h0M135.9 505.1h0M142.0 456.9h0M184.6 410.9h0M160.6 469.6h0M234.9 400.2h0M161.6 485.1h0M230.4 400.9h0M282.0 356.9h0M171.6 420.1h0M166.5 424.5h0M135.5 446.0h0M257.2 372.0h0M247.0 347.8h0M120.4 465.8h0M169.5 468.3h0M161.0 468.4h0M159.7 411.3h0M273.0 361.3h0M125.5 515.2h0M212.6 428.2h0M166.7 474.4h0M184.0 455.4h0M137.8 458.2h0M127.8 515.5h0M67.5 525.4h0M181.5 459.1h0M78.5 506.8h0M150.0 424.9h0M199.1 434.4h0M261.8 368.8h0M184.2 407.4h0M181.9 412.1h0M271.5 325.4h0M282.2 353.3h0M163.4 498.3h0M183.4 451.0h0M188.8 410.4h0M118.0 518.9h0M67.5 485.3h0M138.9 518.8h0M205.7 389.5h0M200.6 396.0h0M204.4 426.0h0M286.0 354.0h0M180.5 455.5h0M209.5 422.5h0M81.6 516.0h0M202.5 437.9h0M292.3 343.3h0M131.9 502.6h0M153.1 435.5h0M162.0 437.8h0M155.1 438.5h0M168.3 469.2h0M158.5 475.1h0M151.1 443.4h0M197.4 393.5h0M94.9 416.9h0M116.9 475.5h0M167.9 428.6h0M102.0 473.6h0M121.5 523.0h0M137.5 499.3h0M174.2 422.1h0M113.7 538.9h0M183.2 407.4h0M131.4 503.9h0M263.5 334.1h0M107.0 491.1h0M101.3 495.5h0M95.1 492.8h0M137.3 496.1h0M217.9 423.4h0M194.0 392.2h0M115.6 423.5h0M225.2 408.1h0M252.2 344.7h0M211.3 389.5h0M74.3 471.0h0M163.6 471.3h0M161.3 481.0h0M253.7 377.1h0M231.6 363.8h0M203.1 432.9h0M196.2 399.3h0M146.9 439.0h0M97.9 536.6h0M136.9 497.1h0M106.9 482.7h0M92.3 498.9h0M159.3 431.9h0M165.0 422.3h0M213.8 383.2h0M104.1 452.2h0M165.6 463.9h0M266.4 333.5h0M147.7 500.8h0M165.1 517.1h0M181.2 450.4h0M91.4 546.3h0M201.8 389.1h0M100.5 538.2h0M238.6 359.8h0M185.0 410.3h0M193.4 443.4h0M192.4 438.7h0M217.6 415.3h0M180.4 451.1h0M136.2 459.9h0M204.9 431.2h0M270.2 372.6h0M166.0 468.3h0M86.5 472.2h0M170.5 424.4h0M180.2 519.6h0M199.8 435.8h0M87.6 488.8h0M147.2 484.2h0M253.6 378.4h0M200.4 432.3h0M125.8 460.1h0M90.8 507.4h0M215.0 423.6h0M273.2 364.9h0M285.1 350.6h0M179.0 417.4h0M242.6 348.0h0M178.1 408.3h0M91.8 487.2h0M108.8 452.1h0M146.3 443.6h0M205.0 431.7h0M126.6 463.3h0M149.4 448.1h0M112.1 480.0h0M180.6 413.1h0M257.4 375.7h0M148.2 492.6h0M193.6 374.2h0M135.0 457.2h0M186.9 346.8h0M176.8 482.9h0M107.6 478.0h0M191.9 401.8h0M109.7 486.7h0M255.0 387.3h0M171.0 461.9h0M126.0 443.8h0M242.2 350.3h0M115.8 523.1h0M210.6 387.0h0M169.2 461.7h0M133.0 513.0h0M166.5 463.1h0M151.0 512.0h0M112.8 480.4h0M161.6 514.4h0M109.3 466.3h0M256.7 341.0h0M136.3 507.7h0M184.1 475.9h0M109.8 528.4h0M161.2 511.9h0M84.0 470.0h0M281.1 396.6h0M168.9 426.7h0M226.4 414.5h0M178.9 407.0h0M159.1 438.8h0M214.6 417.6h0M223.2 407.9h0M157.0 476.4h0M265.3 370.8h0M136.1 457.8h0M208.4 426.2h0M145.3 530.8h0M122.8 521.6h0M106.3 412.8h0M140.2 493.0h0M189.5 401.0h0M67.5 423.8h0M135.0 499.7h0M197.7 390.8h0M203.7 434.2h0M246.4 401.0h0M181.5 411.9h0M135.8 524.4h0M175.7 454.4h0M141.2 498.4h0M144.8 452.3h0M121.2 474.2h0M252.8 381.9h0M176.4 421.0h0M108.4 490.2h0M176.6 414.7h0M150.2 482.8h0M264.4 322.0h0M194.1 397.7h0M177.4 479.0h0M193.9 436.8h0M129.8 530.3h0M167.2 469.8h0M136.8 498.0h0M142.1 489.7h0M140.8 449.3h0M163.8 474.0h0M67.5 511.7h0M83.0 500.7h0M150.2 547.0h0M124.9 474.2h0M192.0 444.6h0M199.6 399.7h0M204.9 390.2h0M240.2 397.3h0M147.2 443.5h0M149.2 501.2h0M157.5 439.0h0M172.7 459.6h0M161.5 431.5h0M130.5 499.7h0M148.1 488.5h0M152.6 482.3h0M260.1 333.6h0M138.8 508.7h0M138.6 495.9h0M75.6 435.5h0M216.9 412.8h0M138.6 495.3h0M169.2 470.2h0M244.2 386.0h0M114.5 463.0h0M244.8 387.0h0M160.4 432.5h0M169.5 466.7h0M157.8 433.6h0M174.4 456.1h0M77.9 490.8h0M114.8 479.8h0M185.8 404.5h0M130.4 457.5h0M214.3 424.2h0M137.5 443.8h0M159.5 520.9h0M159.3 433.7h0M130.9 416.8h0M169.6 463.2h0M141.7 448.3h0M129.9 532.7h0M157.4 483.1h0M149.6 483.8h0M219.4 414.9h0M153.2 486.8h0M220.8 416.3h0M125.8 471.7h0M137.3 499.1h0M218.0 414.3h0M94.4 498.4h0M216.1 373.3h0M151.3 480.2h0M136.9 432.8h0M101.2 445.7h0M116.4 533.5h0M193.6 402.7h0M274.6 320.1h0M211.6 431.1h0M128.0 507.7h0M133.1 461.9h0M256.2 335.8h0M283.1 348.9h0M104.3 532.9h0M108.6 528.1h0M185.2 447.8h0M243.5 397.3h0M163.0 433.8h0M131.1 502.3h0M176.4 416.1h0M176.9 421.8h0M247.4 352.4h0M169.0 426.1h0M175.3 414.6h0M150.6 523.8h0M262.2 373.5h0M269.5 367.5h0M208.5 426.4h0M178.2 457.6h0M189.4 444.8h0M208.7 421.0h0M192.3 443.6h0M262.3 335.3h0M237.9 398.8h0M205.7 391.0h0M117.3 426.3h0M69.6 457.8h0M112.1 531.4h0M148.2 483.4h0M121.8 469.2h0M281.1 359.2h0M188.4 489.5h0M165.6 504.9h0M147.0 443.9h0M159.3 436.0h0M182.1 411.9h0M67.5 488.9h0M106.6 526.6h0M171.3 458.0h0M189.0 445.0h0M153.1 442.1h0M250.4 382.9h0M183.3 458.9h0M254.6 326.2h0M267.7 362.3h0M119.3 517.4h0M268.9 326.0h0M173.3 459.5h0M109.2 536.7h0M159.2 473.1h0M133.1 529.3h0M181.1 412.1h0M123.7 510.2h0M238.3 392.0h0M228.7 403.9h0M67.5 479.6h0M178.5 411.8h0M178.0 413.1h0M252.5 335.8h0M152.2 487.6h0M159.9 438.3h0M272.3 361.9h0M168.2 472.5h0M140.1 453.6h0M173.1 461.5h0M67.5 448.7h0M97.2 489.2h0M104.4 547.0h0M231.8 357.0h0M163.9 433.2h0M208.6 424.5h0M96.7 498.6h0M92.3 457.5h0M83.6 486.9h0M183.9 398.6h0M120.8 513.5h0M166.1 470.1h0M212.1 427.9h0M105.0 445.4h0M153.8 444.5h0M265.7 328.7h0M191.5 455.3h0M219.5 411.4h0M177.0 467.8h0M224.0 409.2h0M205.0 440.5h0M141.5 498.2h0M198.3 433.6h0" stroke="#b3b3b3" stroke-width="3.6" stroke-linecap="round" fill="none"/>
<path d="M104.3 468.3h0M67.5 485.1h0M79.4 448.8h0M67.5 463.0h0M147.7 424.0h0M79.4 492.0h0M168.7 395.8h0M102.6 433.1h0M151.4 436.7h0M115.3 469.3h0M167.4 398.9h0M218.9 361.7h0M111.3 428.3h0M139.0 451.2h0M168.4 399.7h0M67.5 516.0h0M68.3 437.9h0M103.9 471.9h0M120.4 436.3h0M178.0 394.7h0M198.8 395.1h0M85.8 459.1h0M155.4 435.8h0M203.7 382.2h0M113.5 464.9h0M67.5 475.4h0M72.9 513.2h0M132.6 431.4h0M174.1 407.1h0M164.1 406.4h0M162.8 412.1h0M140.6 421.8h0M112.6 466.6h0M67.5 483.2h0M160.2 416.8h0M96.6 430.8h0M180.0 394.4h0M67.5 448.2h0M122.5 460.4h0M160.0 428.6h0M67.5 444.4h0M133.3 422.8h0M88.2 471.8h0M92.9 471.7h0M123.8 446.2h0M149.7 429.7h0M123.3 432.2h0M163.3 431.1h0M104.3 476.0h0M67.5 457.4h0M67.5 504.4h0M88.7 414.9h0M128.5 430.5h0M74.2 470.9h0M67.5 484.1h0M67.5 466.8h0M94.5 463.2h0M139.7 439.3h0M112.1 451.4h0M103.3 487.8h0M145.3 422.0h0M67.5 491.9h0M149.4 413.4h0M125.6 470.8h0M68.1 478.9h0M156.6 403.8h0M99.7 462.1h0M92.8 474.3h0M129.0 455.9h0M74.2 475.1h0M67.5 468.8h0M79.3 467.4h0M182.8 403.3h0M141.0 451.2h0M69.5 455.3h0M96.0 486.8h0M83.8 454.7h0M138.1 427.7h0M67.5 495.9h0M147.4 447.9h0M136.9 419.4h0M141.5 424.2h0M105.6 478.6h0M67.5 448.8h0M95.9 494.8h0M67.5 493.4h0M138.1 442.2h0M67.5 503.3h0M146.8 419.7h0M67.5 510.4h0M222.2 374.5h0M146.5 425.1h0M148.1 433.0h0M70.0 505.0h0M147.1 399.1h0M114.3 462.9h0M67.5 499.2h0M104.2 494.2h0M74.8 480.9h0M74.6 454.7h0M98.0 481.9h0M126.4 443.2h0M189.2 387.8h0M67.5 444.3h0M115.1 438.8h0M145.6 486.5h0M140.5 440.8h0M103.3 483.5h0M140.7 446.9h0M67.5 518.1h0M67.5 507.8h0M112.5 450.8h0M104.0 412.5h0M134.4 456.4h0M68.8 500.4h0M78.7 440.3h0M158.8 430.7h0M119.5 415.6h0M155.7 425.7h0M195.4 400.6h0M84.5 443.2h0M67.5 476.8h0M105.7 433.2h0M140.2 438.9h0M163.3 419.0h0M145.6 421.4h0M67.5 429.4h0M144.4 399.4h0M67.5 478.2h0M73.8 463.4h0M135.1 505.1h0M83.5 497.9h0M122.1 455.5h0M173.5 411.1h0M68.5 480.9h0M88.2 462.8h0M67.5 508.6h0M97.9 471.3h0M165.3 417.3h0M151.5 425.2h0M73.4 511.3h0M67.5 504.8h0M127.0 447.4h0M104.9 451.0h0M122.8 403.4h0M99.0 464.5h0M67.5 521.4h0M67.5 454.5h0M67.5 469.0h0M67.5 457.9h0M67.5 517.0h0M88.1 496.6h0M150.5 415.2h0M251.0 322.5h0M67.5 517.6h0M126.3 449.2h0M130.9 438.4h0M134.4 450.4h0M129.2 459.4h0M67.5 452.9h0M101.3 449.3h0M67.5 480.5h0M67.5 456.9h0M76.9 520.0h0M145.3 436.9h0M134.0 435.2h0M167.3 415.0h0M136.0 441.9h0M77.4 512.5h0M139.3 442.2h0M138.6 429.0h0M96.3 479.4h0M67.9 499.3h0M123.9 466.7h0M83.0 480.4h0M196.8 393.6h0M167.9 396.9h0M77.6 485.3h0M175.6 410.7h0M116.5 434.7h0M112.8 432.1h0M121.6 443.8h0M67.5 433.6h0M107.8 472.1h0M67.5 520.5h0M67.5 494.7h0M67.5 471.1h0M98.5 400.5h0M81.8 492.3h0M67.5 480.8h0M87.6 464.5h0M226.1 365.8h0M174.1 408.1h0M67.5 477.4h0M67.5 426.4h0M140.7 452.1h0M134.0 442.7h0M67.5 430.6h0M119.8 440.7h0M148.6 504.3h0M142.4 393.4h0M89.0 464.1h0M137.9 442.2h0M111.2 438.4h0M131.6 428.1h0M126.5 447.2h0M67.5 472.0h0M133.4 432.6h0M72.0 490.0h0M100.5 463.6h0M69.4 443.8h0M202.6 388.8h0M67.5 482.2h0M124.1 456.7h0M234.5 353.8h0M98.7 431.3h0M67.5 469.1h0M67.5 503.1h0M126.5 437.5h0M96.1 496.2h0M107.1 458.9h0M125.4 431.3h0M173.3 420.7h0M74.3 431.5h0M67.5 501.3h0M67.5 488.3h0M83.0 456.5h0M90.9 452.9h0M161.0 417.8h0M255.8 324.5h0M150.8 500.1h0M125.0 450.2h0M83.9 445.2h0M100.3 475.5h0M105.4 470.2h0M130.1 454.9h0M85.8 499.4h0M138.7 419.1h0M72.0 506.3h0M177.5 401.4h0M127.5 437.2h0M93.7 456.4h0M108.5 463.6h0M160.5 411.0h0M67.5 495.1h0M84.9 444.0h0M88.3 490.1h0M144.1 437.1h0M214.7 382.3h0M68.2 421.9h0M136.7 450.3h0M67.5 478.3h0M117.4 531.8h0M74.1 425.1h0M67.5 497.4h0M124.3 445.9h0M176.9 418.5h0M159.0 389.8h0M162.4 413.5h0M117.8 437.8h0M113.8 411.6h0M128.0 419.6h0M210.1 377.0h0M70.2 511.6h0M67.5 460.1h0M180.0 410.8h0M67.5 448.0h0M135.1 451.2h0M67.5 450.4h0M178.7 414.0h0M116.5 468.1h0M80.6 475.8h0M141.3 431.7h0M74.0 489.0h0M122.6 468.1h0M162.4 403.5h0M178.0 418.3h0M92.9 463.7h0M67.5 490.7h0M138.7 428.2h0M106.4 418.4h0M86.9 438.6h0M70.5 438.4h0M67.5 487.7h0M94.9 458.6h0M119.6 463.8h0M128.8 452.4h0M67.5 455.1h0M86.7 443.7h0M97.1 469.6h0M118.4 440.4h0M148.5 429.6h0M129.0 456.6h0M220.9 364.0h0M67.5 519.7h0M124.5 445.0h0M94.1 458.4h0M119.9 436.6h0M196.0 388.2h0M70.3 425.4h0M138.6 454.7h0M155.3 423.5h0M67.5 492.7h0M67.5 501.0h0M67.5 504.5h0M139.0 443.1h0M98.5 471.8h0M138.8 396.1h0M70.8 466.1h0M88.4 497.6h0M243.6 340.9h0M89.2 445.7h0M148.9 440.0h0M192.7 394.8h0M85.3 434.8h0M170.9 416.6h0M130.8 448.6h0M143.5 433.1h0M67.5 486.9h0M95.6 447.1h0M106.9 480.4h0M67.5 434.7h0M77.8 501.5h0M67.5 448.9h0M155.9 428.7h0M186.2 402.8h0M84.4 460.4h0M74.9 501.5h0M67.5 503.4h0M88.0 505.4h0M67.5 460.2h0M85.2 490.7h0M153.0 431.2h0M158.5 428.6h0M125.5 450.3h0M144.9 413.6h0M89.1 453.6h0M100.6 449.2h0M183.8 392.7h0M98.2 487.2h0M105.6 446.7h0M99.2 475.9h0M107.4 465.2h0M162.0 398.6h0M143.5 446.5h0M98.8 419.1h0M122.6 402.0h0M71.3 495.5h0M142.9 419.0h0M120.4 446.2h0M146.1 410.0h0M69.0 438.0h0M134.2 455.5h0M121.5 473.2h0M121.7 444.5h0M86.2 442.8h0M195.0 399.5h0M166.9 430.7h0M154.5 407.5h0M140.6 404.7h0M148.4 434.9h0M267.5 314.7h0M173.6 410.0h0M138.5 428.1h0M159.8 426.7h0M67.5 426.6h0M185.2 389.4h0M138.6 412.7h0M67.5 432.8h0M74.4 447.6h0M132.1 448.9h0M67.5 487.7h0M157.4 425.5h0M91.3 444.5h0M89.5 436.0h0M168.7 402.1h0M140.9 426.6h0M179.3 398.9h0M87.9 432.9h0M89.4 544.2h0M128.1 441.1h0M69.7 429.3h0M186.3 388.6h0M106.6 427.4h0M140.3 428.4h0M100.0 452.2h0M98.7 489.8h0M134.0 450.5h0M140.0 439.9h0M67.5 509.8h0M94.7 475.1h0M117.1 452.5h0M68.9 524.5h0M114.6 523.4h0M101.3 487.0h0M67.5 423.9h0M101.9 444.2h0M67.5 513.8h0M119.3 439.9h0M115.4 460.4h0M67.5 488.2h0M117.4 439.9h0M88.0 466.8h0M122.3 471.2h0M107.3 462.7h0M75.7 471.5h0M70.9 437.8h0M158.2 413.4h0M134.2 444.5h0M70.7 518.3h0M188.9 381.9h0M117.2 439.9h0M160.2 417.4h0M152.9 431.5h0M109.1 435.4h0M95.1 471.6h0M67.5 463.6h0M152.1 430.9h0M67.5 504.4h0M164.9 405.6h0M85.0 423.3h0M90.2 484.4h0M142.0 430.1h0M96.9 452.0h0M95.0 449.7h0M132.3 454.2h0M67.5 480.5h0M76.1 511.4h0M117.7 440.3h0M85.0 498.8h0M202.7 375.4h0M67.5 468.2h0M73.1 489.7h0M91.6 470.8h0M171.3 416.0h0M87.4 499.2h0M79.2 422.7h0M67.5 501.7h0M76.9 425.0h0M281.0 302.9h0M109.1 415.7h0M104.3 430.6h0M95.5 478.1h0M124.3 439.4h0M77.7 464.4h0M258.1 330.6h0M156.6 414.2h0M143.3 438.1h0M123.7 450.4h0M114.3 469.4h0M128.9 444.9h0M73.3 479.0h0M67.5 482.3h0M67.5 476.1h0M105.7 476.6h0M67.5 488.1h0M119.0 462.5h0M67.5 452.5h0M97.4 450.6h0M123.6 415.0h0M132.6 429.5h0M69.2 513.3h0M67.5 488.0h0M109.6 447.3h0M168.7 413.4h0M164.0 425.2h0M118.2 421.6h0M135.2 441.8h0M135.1 442.3h0M134.1 413.0h0M165.2 407.3h0M67.5 516.4h0M67.5 498.1h0M93.6 471.6h0M147.6 422.0h0M163.6 412.9h0M87.6 478.4h0M126.9 447.8h0M103.1 421.2h0M130.8 448.4h0M67.5 453.5h0M67.7 511.7h0M117.0 464.6h0M125.6 470.1h0M82.3 492.3h0M67.5 479.3h0M67.5 490.5h0M70.7 457.5h0M98.9 443.8h0M194.5 395.5h0M67.5 485.5h0M67.5 459.1h0M172.9 397.6h0M243.7 343.2h0M67.5 486.8h0M108.8 462.5h0M100.0 456.7h0M148.6 417.1h0M102.4 438.3h0M183.7 384.9h0M177.2 407.8h0M84.9 426.1h0M140.7 438.7h0M116.8 470.9h0M67.5 423.3h0M141.7 499.0h0M67.5 474.8h0M67.5 465.4h0M67.5 468.8h0M173.4 411.7h0M98.6 438.3h0M67.5 497.0h0M254.2 329.8h0M67.5 484.5h0M148.8 430.5h0M133.3 445.0h0M95.1 464.3h0M133.9 437.8h0M83.4 460.2h0M66.8 459.5h0M94.2 455.9h0M163.0 423.1h0M209.5 369.0h0M110.7 428.3h0M104.7 525.8h0M119.0 413.5h0M163.1 424.1h0M125.8 444.2h0M218.9 366.4h0M73.1 445.2h0M97.9 473.9h0M141.8 385.2h0M99.5 434.1h0M103.8 419.7h0M67.5 470.5h0M126.5 425.7h0M113.4 472.4h0M136.3 438.3h0M94.2 478.4h0M80.7 460.4h0M67.5 453.2h0M235.5 352.8h0M155.9 410.1h0M125.8 458.2h0M189.9 399.4h0M118.5 461.7h0M100.3 416.6h0M67.5 430.3h0M196.5 380.2h0M98.4 471.3h0M137.3 446.3h0M138.2 434.2h0M179.3 413.5h0M230.8 359.7h0M92.2 489.5h0M69.1 448.1h0M113.3 418.6h0M118.0 457.6h0M67.5 474.6h0M196.1 390.4h0M67.5 521.8h0M120.0 461.4h0M99.6 443.1h0M97.4 481.9h0M147.1 426.5h0M95.5 502.9h0M110.3 523.5h0M75.6 467.5h0M99.0 483.9h0M93.8 430.3h0M143.3 437.1h0M145.6 441.0h0M133.7 429.6h0M75.5 478.9h0M197.8 370.2h0M113.2 460.7h0M146.5 433.5h0M68.3 505.7h0M144.0 442.1h0M151.5 407.0h0M148.9 411.7h0M80.5 441.0h0M135.4 414.5h0M67.5 473.8h0M130.6 531.2h0M149.9 425.4h0M239.0 345.6h0M89.4 387.3h0M120.7 438.8h0M106.2 489.8h0M153.1 436.4h0M113.0 473.6h0M102.0 413.8h0M140.7 439.5h0M104.0 455.2h0M79.1 495.4h0M133.6 446.2h0M161.0 397.3h0M177.6 406.3h0M109.6 444.8h0M159.3 422.4h0M67.5 448.1h0M130.1 454.6h0M126.9 456.6h0M114.1 463.2h0M103.9 423.9h0M155.5 480.1h0M113.8 444.9h0M120.5 459.7h0M180.4 399.2h0M151.3 414.2h0M127.6 409.6h0M126.9 454.5h0M67.5 490.9h0M159.9 414.6h0M124.6 456.3h0M125.4 458.2h0M101.3 448.3h0M155.0 434.7h0M132.0 439.5h0M250.5 334.4h0M158.4 373.3h0M190.8 391.8h0M161.5 427.3h0M72.7 448.5h0M145.4 446.2h0M67.5 476.5h0M135.8 422.8h0M67.5 457.6h0M67.5 482.4h0M132.9 387.0h0M151.4 419.4h0M144.0 430.0h0M140.9 443.7h0M109.9 486.7h0M94.1 414.4h0M218.2 370.6h0M88.9 409.7h0M90.2 490.6h0M90.1 492.0h0M73.8 497.9h0M171.7 422.9h0M150.4 434.2h0M227.8 370.6h0M174.2 397.9h0M214.7 366.0h0M67.9 498.8h0M67.5 502.9h0M118.5 444.5h0M118.2 449.6h0M67.5 497.3h0M123.9 447.1h0M135.7 438.4h0M152.2 408.3h0M104.1 491.8h0M95.8 459.2h0M212.7 379.3h0M89.1 385.1h0M67.5 461.2h0M137.2 430.3h0M176.6 407.9h0M84.9 498.3h0M86.6 492.8h0M67.5 420.3h0M189.5 403.8h0M85.2 511.2h0M113.3 411.0h0M116.6 406.9h0M67.5 500.4h0M116.1 440.5h0M184.3 402.5h0M129.0 451.8h0M67.5 521.1h0M69.6 489.9h0M117.6 465.2h0M84.7 476.3h0M90.4 425.8h0M119.9 468.3h0M67.5 484.2h0M83.7 470.7h0M158.2 410.0h0M138.6 442.5h0M159.8 419.8h0M157.4 425.5h0M86.0 508.1h0M116.8 460.5h0M67.5 464.1h0M101.2 432.0h0M67.5 483.5h0M86.8 453.6h0M88.9 501.6h0M67.5 508.5h0M153.1 431.6h0M189.9 396.0h0M148.6 414.6h0M130.4 408.1h0M126.8 445.6h0M127.8 427.9h0M164.3 426.5h0M166.1 366.4h0M227.0 370.2h0M67.5 481.0h0M189.9 405.1h0M67.5 481.9h0M128.6 438.8h0M67.5 517.8h0M114.7 459.7h0M103.5 406.4h0M84.8 466.3h0M67.5 511.0h0M132.0 533.0h0M128.5 437.9h0M67.5 486.5h0M93.1 505.2h0M137.5 442.7h0M128.5 437.7h0M67.5 505.2h0M113.3 445.7h0M67.5 486.0h0M137.0 431.8h0M67.5 524.7h0M121.9 465.7h0M124.8 441.4h0M162.1 394.3h0M86.8 483.4h0M67.5 477.8h0M139.0 409.5h0M67.5 489.8h0M86.3 461.8h0M123.9 514.7h0M68.4 492.0h0M134.1 436.8h0M71.6 489.5h0M79.4 491.0h0M161.9 418.4h0M174.3 395.3h0M76.2 448.6h0M92.0 499.4h0M242.1 330.6h0M119.8 437.2h0M68.7 439.3h0M76.3 507.1h0M84.5 491.8h0M67.5 462.7h0M155.3 400.7h0M67.5 483.5h0M120.9 459.1h0M106.9 394.1h0M72.2 495.4h0M90.6 472.1h0M120.0 417.1h0M100.1 435.2h0M67.5 501.6h0M137.6 449.1h0M156.1 432.8h0M67.5 448.6h0M67.5 503.4h0M77.7 444.8h0M73.5 443.0h0M67.5 448.3h0M199.2 379.4h0M104.4 445.7h0M189.6 385.1h0M203.2 389.3h0M184.0 387.9h0M165.8 410.8h0M91.6 465.9h0M123.4 456.1h0M151.4 417.7h0M67.5 444.7h0M104.2 463.7h0M67.5 494.9h0M112.1 460.0h0M109.6 452.4h0M105.4 451.3h0M129.8 440.6h0M151.0 414.3h0M144.2 425.7h0M202.2 383.9h0M76.9 450.8h0M129.7 446.5h0M193.8 387.9h0M119.7 460.2h0M108.7 448.7h0M86.8 460.3h0M67.5 500.3h0M106.5 477.0h0M67.5 442.9h0M67.5 499.5h0M114.7 467.8h0M88.3 495.3h0M106.2 479.1h0M67.5 435.1h0M142.8 439.6h0M151.3 421.1h0M143.0 445.5h0M102.9 450.5h0M152.8 405.7h0M94.2 450.8h0M153.9 432.3h0M69.9 528.4h0M173.8 420.5h0M210.4 372.9h0M67.5 477.0h0M67.5 475.4h0M67.5 475.3h0M137.6 418.7h0M96.6 448.2h0M94.6 469.8h0M130.3 459.5h0M170.9 419.1h0M116.0 411.4h0M128.9 443.7h0M67.5 483.3h0M67.5 442.8h0M110.8 427.7h0M166.4 412.4h0M123.8 420.1h0M140.3 436.9h0M133.6 405.2h0M97.4 482.1h0M67.5 509.0h0M67.5 472.4h0M77.2 489.1h0M67.5 477.0h0M147.8 428.0h0M132.0 442.3h0M153.2 412.7h0M147.3 436.8h0M89.9 425.2h0M87.2 474.9h0M145.3 434.1h0M108.1 471.4h0M77.7 499.0h0M111.7 461.8h0M137.6 440.8h0M67.5 422.2h0M237.8 354.4h0M84.4 486.3h0M155.5 428.6h0M67.5 509.7h0M95.1 480.1h0M185.5 405.1h0M122.3 442.2h0M92.3 453.6h0M124.3 416.2h0M132.8 400.3h0M122.8 400.1h0M125.8 402.0h0M162.1 431.3h0M67.5 486.5h0M67.5 477.3h0M131.4 447.2h0M204.9 382.4h0M113.9 440.5h0M84.8 480.2h0M164.1 414.6h0M109.9 468.9h0M77.3 476.8h0M115.2 445.2h0M183.3 407.1h0M68.1 525.9h0M75.1 441.2h0M67.5 510.3h0M120.3 422.5h0M128.6 461.4h0M129.7 438.6h0M116.2 439.1h0M67.5 499.3h0M84.1 481.0h0M67.5 484.2h0M67.5 473.7h0M161.9 414.1h0M90.4 471.3h0M182.8 395.1h0M120.7 440.4h0M113.0 462.0h0M94.6 471.8h0M72.5 458.6h0M178.9 402.7h0M67.5 501.2h0M88.7 499.8h0M67.5 447.5h0M212.2 374.1h0M154.0 422.9h0M83.1 510.5h0M67.5 486.0h0M129.7 464.9h0M99.0 475.3h0M103.9 471.7h0M119.5 462.4h0M140.9 434.9h0M80.8 440.3h0M196.3 401.7h0M67.5 480.6h0M120.3 461.2h0M105.5 458.2h0M98.3 470.6h0M127.8 422.8h0M132.5 437.6h0M210.3 377.6h0M83.5 437.6h0M115.8 447.9h0M82.1 437.9h0M112.9 436.1h0M165.1 426.8h0M123.3 450.6h0M123.2 453.2h0M113.1 422.5h0M92.3 496.9h0M67.5 490.8h0M140.2 443.8h0M102.3 486.5h0M93.9 464.4h0M67.5 446.0h0M68.4 474.7h0M76.2 469.6h0M131.6 440.3h0M122.3 453.7h0M67.5 440.2h0M145.6 414.2h0M215.4 381.1h0M123.3 406.5h0M162.8 420.1h0M67.5 497.0h0M117.0 447.5h0M194.4 394.2h0M220.8 371.5h0M163.1 420.0h0M123.0 429.6h0M82.6 492.9h0M93.3 429.3h0M117.4 454.4h0M124.4 438.5h0M109.6 467.4h0M78.4 503.3h0M135.3 424.0h0M67.5 438.1h0M109.8 434.8h0M67.5 475.2h0M67.5 496.7h0M67.5 473.0h0M112.9 446.4h0M124.6 421.5h0M89.9 419.7h0M113.4 401.9h0M122.7 457.8h0M110.5 436.6h0M67.5 500.4h0M71.6 440.2h0M76.8 466.7h0M117.9 425.4h0M92.3 481.2h0M100.9 445.6h0M77.0 499.2h0M106.1 445.0h0M109.3 438.8h0M67.5 481.0h0M67.5 488.6h0M82.9 487.6h0M77.4 466.8h0M119.8 424.8h0M116.5 451.8h0M106.4 442.4h0M143.7 451.5h0M87.4 413.6h0M180.5 400.2h0M165.8 404.5h0M80.0 473.8h0M189.7 387.7h0M67.5 424.7h0M67.5 497.0h0M85.3 513.7h0M112.5 458.0h0M67.5 518.8h0M67.5 488.3h0M67.5 473.3h0M119.3 469.2h0M130.7 440.6h0M91.9 438.7h0M115.0 469.0h0M91.4 439.9h0M107.1 481.8h0M118.9 451.3h0M171.1 404.1h0M67.5 495.8h0M92.6 486.1h0M146.8 440.7h0M134.4 432.8h0M67.5 519.8h0M99.7 495.0h0M102.7 457.0h0M67.5 433.8h0M67.5 489.3h0M113.7 462.9h0M93.1 455.6h0M84.7 492.8h0M73.3 465.0h0M67.5 459.5h0M133.8 443.4h0M92.5 474.9h0M131.1 431.9h0M125.1 430.8h0M67.5 471.4h0M129.7 440.1h0M72.3 474.5h0M76.2 518.1h0M124.3 462.0h0M81.9 451.7h0M123.1 466.2h0M84.7 506.0h0M162.1 405.7h0M148.6 428.6h0M75.1 510.2h0M109.6 468.4h0M73.5 475.8h0M119.5 448.2h0M105.8 481.7h0M135.9 441.9h0M122.9 460.0h0M82.2 475.8h0M129.0 445.8h0M162.7 417.4h0M121.0 454.3h0M127.5 520.0h0M82.6 410.0h0M78.3 396.3h0M153.1 427.5h0M226.3 345.7h0M152.1 432.8h0M113.8 462.8h0M275.3 312.2h0M83.5 486.7h0M118.0 441.3h0M146.1 428.5h0M67.5 521.8h0M67.5 491.0h0M205.0 372.5h0M67.5 457.1h0M163.7 397.6h0M165.1 420.6h0M67.5 462.2h0M87.9 464.3h0M184.2 392.4h0M145.3 436.2h0M85.7 481.4h0M80.7 466.0h0M127.4 462.0h0M154.5 425.8h0M67.5 468.6h0M67.5 496.5h0M138.5 453.1h0M67.5 468.7h0M100.7 415.9h0M139.5 434.8h0M67.5 461.5h0M82.3 500.0h0M198.3 391.2h0M109.2 435.8h0M191.3 384.7h0M82.7 468.2h0M118.0 443.3h0M67.5 447.1h0M159.7 426.6h0M75.3 474.4h0M205.9 383.6h0M67.5 503.4h0M163.5 415.5h0M127.7 444.8h0M73.4 493.5h0M92.2 455.3h0M67.5 457.3h0M205.7 387.3h0M67.5 480.4h0M67.4 460.9h0M82.9 436.8h0M67.5 473.3h0M117.2 465.4h0M72.7 494.5h0M190.3 395.0h0M119.5 477.5h0M133.9 421.3h0M194.0 391.7h0M172.3 410.1h0M116.9 460.9h0M132.3 393.3h0M137.9 429.3h0M114.6 453.7h0M67.5 480.1h0M69.9 489.7h0M188.8 410.9h0M67.5 461.8h0M67.5 498.8h0M223.2 344.5h0M102.6 458.0h0M104.9 456.3h0M67.5 490.2h0M134.0 435.7h0M158.4 432.2h0M67.5 514.7h0M67.5 487.4h0M115.7 440.6h0M67.5 439.4h0M108.8 463.6h0M79.3 504.3h0M67.5 499.7h0M90.8 504.4h0M102.0 453.6h0M93.5 489.7h0M144.3 426.8h0M67.5 476.1h0M117.1 474.7h0M215.9 339.1h0M67.5 479.5h0M149.7 421.1h0M117.5 444.2h0M117.0 454.7h0M96.9 430.6h0M185.9 398.0h0M67.5 500.5h0M153.5 433.7h0M120.0 470.5h0M113.2 460.3h0M67.5 498.3h0M107.0 419.5h0M111.0 418.1h0M134.5 421.1h0M143.4 441.4h0M83.1 510.4h0M186.2 397.8h0M123.2 437.3h0M145.9 410.4h0M98.4 446.3h0M127.1 400.4h0M107.6 408.9h0M133.3 442.7h0M102.7 472.2h0M114.6 475.7h0M163.2 414.7h0M221.7 366.4h0M121.9 456.0h0M84.5 498.5h0M67.5 445.4h0M92.3 494.7h0M73.8 474.5h0M90.3 505.1h0M127.7 469.5h0M91.8 418.8h0M187.5 389.9h0M139.2 405.6h0M161.0 427.4h0M189.7 404.6h0M161.2 402.4h0M186.2 391.5h0M101.5 466.9h0M143.1 515.5h0M74.5 441.8h0M67.5 451.7h0M116.6 395.1h0M96.7 483.9h0M67.5 461.8h0M179.0 385.7h0M148.8 418.7h0M95.3 440.4h0M163.0 422.6h0M184.7 407.5h0M71.3 459.0h0M67.5 490.8h0M67.5 424.2h0M104.8 474.3h0M148.6 418.3h0M77.4 494.9h0M117.6 445.2h0M124.1 474.1h0M133.2 449.3h0M67.5 455.3h0M67.5 505.5h0M85.5 491.7h0M145.9 430.7h0M184.5 407.7h0M67.5 475.3h0M158.3 426.1h0M121.1 472.4h0M127.4 457.9h0M133.1 441.1h0M80.5 467.9h0M114.0 458.3h0M156.7 428.5h0M251.4 345.5h0M160.9 400.6h0M121.3 442.7h0M113.3 439.4h0M107.4 450.9h0M88.6 450.4h0M170.2 418.5h0M185.5 383.8h0M141.2 438.1h0M91.3 497.3h0M67.5 466.4h0M122.7 422.8h0M76.5 495.0h0M172.9 416.4h0M175.0 418.0h0M128.3 465.7h0M67.5 473.6h0M90.8 424.5h0M67.5 485.2h0M91.5 414.2h0M75.6 489.3h0M117.4 444.5h0M136.3 400.8h0M180.6 386.9h0M144.9 447.4h0M67.5 507.3h0M142.5 428.7h0M109.7 466.2h0M111.0 368.8h0M67.5 468.9h0M89.5 482.5h0M67.5 506.2h0M77.5 459.5h0M143.6 413.5h0M158.2 411.3h0M125.0 459.6h0M105.8 462.6h0M74.8 433.1h0M92.6 476.5h0M139.8 434.6h0M160.5 430.3h0M84.5 472.5h0M67.5 493.4h0M116.1 436.3h0M153.2 430.7h0M107.7 466.9h0M163.4 403.8h0M97.1 419.2h0M120.8 468.2h0M193.5 394.1h0M67.5 506.7h0M67.5 517.7h0M135.3 415.7h0M135.2 408.0h0M132.8 418.4h0M131.0 414.7h0M96.1 484.6h0M122.8 439.3h0M125.2 419.0h0M110.9 439.0h0M113.3 438.5h0M67.5 510.7h0M118.3 427.2h0M67.5 468.8h0M199.6 382.7h0M98.0 467.7h0M68.6 491.9h0M129.3 450.8h0M148.2 409.9h0M148.0 402.3h0M142.9 434.4h0M76.6 492.9h0M67.5 464.4h0M67.5 498.6h0M123.4 409.6h0M91.9 479.6h0M75.9 433.6h0M76.9 517.9h0M149.7 429.2h0M112.2 446.8h0M67.5 481.7h0M82.6 491.0h0M67.5 515.2h0M76.8 500.5h0M103.8 490.1h0M111.2 468.1h0M120.4 454.3h0M134.4 450.6h0M67.5 516.6h0M89.2 461.3h0M117.8 471.0h0M87.8 469.6h0M88.7 509.2h0M67.5 468.2h0M171.4 411.7h0M119.5 435.6h0M67.5 425.1h0M67.5 445.7h0M150.8 415.6h0M73.0 502.0h0M75.5 520.4h0M113.2 458.0h0M146.2 437.7h0M72.6 494.4h0M128.1 447.4h0M85.2 403.9h0M139.1 447.4h0M67.5 514.0h0M127.7 464.5h0M135.4 503.8h0M128.9 426.9h0M101.5 448.0h0M67.5 510.7h0M169.9 412.0h0M75.3 461.4h0M92.2 484.0h0M131.8 435.7h0M72.9 497.7h0M187.1 392.6h0M92.2 456.9h0M92.3 443.1h0M141.3 448.4h0M67.5 431.1h0M101.7 479.7h0M67.5 457.3h0M126.6 525.8h0M76.8 454.6h0M143.5 440.4h0M121.7 449.8h0M151.1 405.5h0M97.4 466.1h0M159.8 409.1h0M130.0 398.3h0M67.5 496.3h0M168.6 425.2h0M147.3 439.8h0M99.7 476.8h0M92.0 482.1h0M135.5 460.0h0M76.8 467.8h0M171.8 388.0h0M67.5 527.1h0M128.0 464.3h0M131.2 439.1h0M141.8 407.4h0M161.8 428.7h0M67.5 497.6h0M99.2 446.5h0M89.4 473.0h0M75.3 463.1h0M67.5 506.2h0M168.8 389.7h0M94.8 456.2h0M102.8 421.5h0M67.5 491.5h0" stroke="#3d9a4a" stroke-width="3.6" stroke-linecap="round" fill="none"/>
<path d="M157.5 522.6h0M173.5 482.0h0M146.0 502.6h0M163.8 543.4h0M107.0 547.0h0M137.3 547.0h0M166.1 493.2h0M160.2 525.9h0M124.9 526.2h0M167.6 495.0h0M161.4 492.9h0M144.5 516.1h0M187.6 457.8h0M176.1 479.9h0M108.2 537.0h0M157.9 516.7h0M205.9 459.8h0M140.9 543.1h0M112.0 471.1h0M149.1 506.3h0M192.0 469.8h0M191.6 446.0h0M183.7 510.7h0M129.0 542.2h0M160.6 497.0h0M228.1 426.2h0M97.0 547.0h0M195.1 443.9h0M199.3 455.9h0M133.3 547.0h0M162.5 477.1h0M174.0 479.5h0M142.2 527.6h0M205.5 437.5h0M243.2 413.3h0M169.8 532.1h0M136.6 547.0h0M186.2 506.0h0M135.0 547.0h0M199.0 466.8h0M154.7 487.5h0M191.5 444.2h0M175.5 471.6h0M153.1 489.8h0M184.0 463.4h0M143.1 512.2h0M143.7 513.6h0M201.9 440.6h0M224.7 407.8h0M139.5 494.4h0M148.1 489.1h0M117.7 547.0h0M175.8 497.1h0M197.6 449.3h0M194.4 450.8h0M135.4 501.6h0M120.2 542.7h0M148.0 526.5h0M117.3 531.5h0M95.6 547.0h0M166.4 481.6h0M213.7 453.3h0M170.9 475.1h0M131.3 522.0h0M144.2 531.3h0M186.1 472.4h0M160.4 488.6h0M137.8 541.7h0M131.3 547.0h0M131.0 504.6h0M162.5 503.2h0M100.1 547.0h0M94.2 547.0h0M122.4 547.0h0M94.4 547.0h0M149.9 547.0h0M150.8 521.8h0M158.8 526.4h0M128.1 547.0h0M227.2 451.7h0M157.4 517.4h0M201.9 445.7h0M127.5 510.9h0M143.5 511.6h0M165.6 481.3h0M193.8 514.0h0M130.9 532.6h0M185.1 500.2h0M160.3 481.1h0M284.6 366.8h0M114.5 547.0h0M188.2 463.8h0M174.2 530.0h0M202.6 463.1h0M100.5 547.0h0M181.3 492.2h0M276.7 370.0h0M200.2 435.6h0M101.6 547.0h0M118.4 518.6h0M135.7 547.0h0M201.6 481.7h0M140.9 507.7h0M199.8 453.2h0M189.9 462.5h0M151.0 511.1h0M106.7 530.4h0M102.0 547.0h0M177.2 476.2h0M96.8 535.2h0M206.9 437.8h0M109.3 541.1h0M131.5 506.1h0M100.0 547.0h0M248.4 396.7h0M170.9 537.3h0M202.7 491.6h0M149.4 513.4h0M154.9 543.3h0M127.8 535.7h0M135.9 495.2h0M127.6 509.6h0M153.4 518.2h0M162.7 493.6h0M178.1 484.7h0M166.0 495.7h0M97.8 547.0h0M203.7 430.3h0M148.3 537.7h0M174.4 493.0h0M174.0 486.4h0M145.3 526.2h0M140.5 547.0h0M123.1 547.0h0M192.1 528.1h0M152.3 505.3h0M168.6 479.7h0M140.3 529.7h0M215.3 426.9h0M241.4 411.7h0M205.4 455.2h0M187.0 483.7h0M190.6 486.3h0M125.1 547.0h0M184.3 498.0h0M206.7 436.1h0M192.9 460.3h0M114.4 547.8h0M202.9 442.1h0M166.6 491.7h0M209.1 472.4h0M187.8 457.7h0M154.4 485.5h0M189.5 464.7h0M176.5 493.9h0M134.8 541.2h0M99.7 547.0h0M107.5 547.0h0M149.0 490.3h0M206.6 433.2h0M169.1 520.7h0M111.4 540.4h0M137.2 538.9h0M165.4 500.6h0M163.7 484.3h0M163.6 495.7h0M146.7 515.3h0M141.8 508.6h0M150.3 496.9h0M172.0 503.2h0M207.8 429.0h0M153.1 517.9h0M129.5 509.4h0M197.2 442.3h0M172.6 535.9h0M135.8 543.4h0M202.2 451.8h0M126.0 547.0h0M239.9 407.7h0M182.9 465.5h0M149.1 501.4h0M173.6 474.1h0M154.6 516.0h0M221.0 417.7h0M146.1 547.0h0M97.9 547.0h0M135.1 541.7h0M128.2 547.0h0M170.0 535.9h0M128.1 547.0h0M201.5 433.4h0M88.4 545.1h0M122.9 534.9h0M239.2 402.1h0M149.8 527.6h0M114.0 547.0h0M191.3 454.5h0M200.2 482.3h0M176.0 486.7h0M146.4 510.1h0M143.1 541.7h0M185.7 474.8h0M186.5 477.2h0M182.6 466.9h0M136.7 538.0h0M194.4 532.5h0M161.3 498.1h0M181.9 536.3h0M163.6 547.0h0M178.7 537.1h0M210.6 424.6h0M110.9 529.7h0M92.8 547.0h0M140.8 498.7h0M139.0 513.9h0M131.3 515.4h0M127.2 547.0h0M152.3 497.4h0M159.6 484.1h0M194.7 519.3h0M209.9 448.1h0M138.1 514.7h0M144.5 537.2h0M207.7 437.9h0M139.0 547.0h0M99.9 546.3h0M135.9 547.0h0M145.9 501.3h0M182.0 538.9h0M92.0 547.0h0M171.2 499.9h0M192.6 470.5h0M99.3 547.0h0M123.0 528.7h0M187.9 497.7h0M141.5 547.0h0M180.2 503.6h0M150.2 496.8h0M156.8 538.0h0M153.9 506.5h0M123.7 509.6h0M187.2 477.1h0M175.1 517.9h0M148.1 517.6h0M124.8 547.0h0M206.4 433.9h0M120.6 547.0h0M156.4 473.4h0M182.9 468.9h0M149.2 503.8h0M164.7 516.9h0M197.3 448.2h0M151.3 541.7h0M125.0 547.0h0M96.7 544.9h0M109.9 547.0h0M187.0 482.6h0M105.1 534.6h0M148.1 511.3h0M149.0 492.0h0M199.5 461.5h0M172.3 522.3h0M149.3 517.4h0M151.8 519.2h0M196.3 467.5h0M139.1 508.3h0M114.1 538.6h0M183.0 491.7h0M175.6 485.8h0M117.3 525.6h0M181.8 460.2h0M135.2 547.0h0M110.7 538.0h0M153.3 508.8h0M139.2 517.0h0M151.1 530.9h0M195.0 444.9h0M201.4 441.9h0M171.2 479.4h0M222.9 420.6h0M205.2 448.6h0M148.2 547.0h0M140.3 515.0h0M146.9 486.2h0M195.1 443.0h0M129.5 547.0h0M184.0 471.4h0M184.5 458.0h0M175.0 462.5h0M168.0 479.8h0M168.4 487.7h0M160.4 507.8h0M140.0 492.5h0M163.1 478.3h0M115.4 547.0h0M174.5 470.3h0M163.5 541.6h0M144.0 546.9h0M114.1 547.0h0M107.1 547.0h0M208.6 438.2h0M138.3 529.4h0M170.1 490.8h0M152.3 503.5h0M145.4 547.0h0M229.9 447.1h0M134.5 504.9h0M130.1 547.0h0M151.8 538.8h0M176.4 464.2h0M147.5 491.5h0M111.9 547.0h0M160.0 486.6h0M117.9 528.5h0M124.7 547.0h0M154.2 520.7h0M158.0 487.2h0M205.5 453.2h0M105.3 547.0h0M132.5 543.2h0M113.5 547.3h0M173.2 478.4h0M184.1 483.2h0M119.2 529.8h0M170.5 498.4h0M173.4 461.8h0M146.0 524.1h0M114.1 547.0h0M163.4 517.0h0M157.3 496.6h0M200.5 450.5h0M171.5 479.8h0M287.3 344.5h0M165.1 502.1h0M298.5 409.8h0M170.3 516.2h0M163.9 487.0h0M134.5 547.0h0M135.2 508.1h0M217.4 445.8h0M147.2 501.9h0M243.9 405.4h0M160.1 486.3h0M159.2 503.7h0M129.6 531.8h0M193.8 457.2h0M192.9 459.1h0M176.4 481.0h0M158.1 522.4h0M118.9 547.0h0M191.5 474.7h0M188.5 476.2h0M132.6 527.5h0M104.5 527.8h0M171.4 472.1h0M94.1 547.0h0M167.5 477.6h0M231.9 406.6h0M164.1 547.0h0M144.7 487.5h0M145.6 526.6h0M168.5 527.2h0M120.0 545.9h0M159.8 529.0h0M126.7 545.2h0M118.6 513.8h0M140.1 505.7h0M138.3 517.8h0M123.2 547.0h0M122.8 519.2h0M131.7 514.6h0M139.9 521.7h0M221.7 419.5h0M124.1 524.3h0M182.3 506.4h0M123.0 521.3h0M165.6 518.0h0M86.1 547.0h0M191.0 448.2h0M172.7 479.1h0M203.6 448.1h0M106.7 547.0h0M228.1 435.1h0M120.4 542.9h0M156.8 540.1h0M157.3 510.4h0M130.2 536.1h0M109.4 547.0h0M139.6 506.1h0M98.9 547.0h0M170.2 488.5h0M128.5 518.5h0M169.2 498.5h0M137.6 547.0h0M197.5 454.4h0M183.0 499.6h0M196.4 489.4h0M99.5 547.0h0M211.5 447.6h0M134.4 534.4h0M90.2 547.0h0M235.7 400.2h0M117.2 531.9h0M156.4 502.6h0M89.2 544.5h0M250.1 399.1h0M132.4 539.9h0M194.5 478.3h0M171.8 509.5h0M120.0 547.0h0M196.7 450.6h0M133.2 511.2h0M112.5 547.0h0M157.4 547.0h0M122.7 513.8h0M117.0 543.8h0M154.6 528.2h0M130.1 538.0h0M120.3 522.0h0M169.6 492.9h0M122.7 523.0h0M145.9 527.5h0M140.0 495.6h0M160.8 490.3h0M217.8 496.5h0M153.5 496.5h0M141.1 540.6h0M169.2 491.6h0M125.2 525.5h0M179.3 476.6h0M168.5 508.5h0M146.2 547.0h0M190.7 480.8h0M154.9 489.1h0M133.6 544.3h0M192.2 463.0h0M139.3 523.5h0M186.9 487.0h0M190.7 480.5h0M183.7 491.7h0M128.9 516.8h0M168.1 505.8h0M186.6 533.0h0M186.6 450.8h0M196.9 500.7h0M162.9 518.1h0M104.1 547.0h0M154.2 517.2h0M143.6 502.2h0M196.9 473.3h0M203.8 454.6h0M85.5 547.0h0M165.4 526.8h0M203.4 437.5h0M182.3 492.5h0M129.8 524.8h0M233.4 425.4h0M183.4 461.6h0M194.7 515.7h0M189.9 480.0h0M203.6 484.3h0M137.3 547.0h0M167.7 509.2h0M128.9 547.0h0M147.0 505.4h0M199.7 458.6h0M143.2 510.6h0M128.3 514.8h0M215.9 423.8h0M199.6 473.2h0M140.7 532.6h0M164.4 487.8h0M86.4 547.0h0M158.8 491.4h0M190.7 451.3h0M124.3 517.5h0M191.1 455.6h0M192.9 454.6h0M182.1 471.8h0M93.4 547.0h0M189.7 505.3h0M119.3 538.2h0M150.0 547.0h0M138.6 522.9h0M110.1 543.7h0M123.1 547.0h0M183.9 508.4h0M109.2 530.1h0M153.7 499.2h0M172.9 479.3h0M179.8 477.3h0M173.7 481.1h0M169.9 475.0h0M102.7 532.0h0M145.7 500.8h0M183.2 472.6h0M123.2 547.0h0M172.7 536.5h0M145.1 496.1h0M162.0 496.0h0M177.9 469.5h0M246.5 395.8h0M152.9 547.0h0M143.7 547.0h0M204.0 439.1h0M138.1 547.0h0M201.0 431.0h0M194.8 468.2h0M193.1 456.7h0M120.0 547.0h0M164.1 503.1h0M186.3 448.1h0M162.4 478.7h0M215.8 426.9h0M105.3 542.9h0M121.8 547.0h0M179.3 498.5h0M181.1 467.9h0M155.5 479.2h0M218.5 443.4h0M152.4 510.7h0M148.9 509.2h0M184.5 464.6h0M187.7 500.0h0M181.8 490.5h0M147.2 490.1h0M96.1 547.0h0M180.0 468.7h0M170.7 470.4h0M161.0 514.9h0M177.8 494.8h0M107.9 532.8h0M154.0 480.2h0M84.3 547.0h0M139.3 525.4h0M171.7 493.6h0M153.5 517.6h0M122.2 530.4h0M190.2 452.8h0M128.2 531.2h0M215.4 424.8h0M128.7 516.4h0M126.0 542.4h0M228.4 420.5h0M112.3 547.0h0M180.7 472.2h0M155.7 505.4h0M153.9 505.8h0M180.3 466.6h0M281.0 353.2h0M166.3 520.7h0M141.5 547.0h0M138.8 512.5h0M154.9 540.8h0M88.1 547.0h0M181.3 491.5h0M128.2 538.8h0M171.9 469.4h0M180.1 460.6h0M178.1 490.8h0M187.5 461.2h0M93.1 547.0h0M171.6 465.1h0M176.0 489.3h0M196.0 451.8h0M172.9 505.1h0M137.7 547.0h0M188.8 505.5h0M158.0 497.7h0M116.8 530.0h0M147.7 542.8h0M193.0 497.8h0M125.0 547.0h0M192.5 453.3h0M126.5 539.8h0M151.5 547.0h0M181.3 472.4h0M123.9 542.8h0M84.4 547.0h0M128.9 535.4h0M144.3 500.3h0M166.6 473.3h0M191.6 477.7h0M149.6 527.3h0M199.3 445.6h0M109.3 538.3h0M138.5 547.0h0M163.3 479.8h0M158.4 491.1h0M192.0 456.4h0M132.8 547.0h0M152.2 480.7h0M147.4 530.2h0M175.7 476.2h0M230.6 415.8h0M89.0 547.0h0M187.4 464.7h0M102.1 544.5h0M147.2 503.8h0M158.5 482.0h0M163.5 514.8h0M176.2 499.2h0M179.3 474.1h0M226.3 427.1h0M139.3 507.5h0M256.9 384.4h0M175.5 478.3h0M153.3 547.0h0M116.3 547.0h0M140.0 538.1h0M119.3 528.1h0M185.9 486.0h0M153.9 524.3h0M112.6 537.7h0M176.0 461.6h0M98.0 488.6h0M145.6 497.1h0M117.6 547.0h0M193.0 458.4h0M206.1 465.2h0M189.8 450.8h0M116.5 526.6h0M167.9 504.0h0M116.2 529.5h0M157.6 488.8h0M191.1 464.9h0M125.2 547.0h0M142.3 514.9h0M140.6 525.6h0M177.7 475.0h0M203.1 460.3h0M167.8 484.4h0M144.1 520.8h0M239.2 392.4h0M152.2 500.4h0M202.7 497.3h0M127.1 547.0h0M147.8 547.0h0M124.2 542.7h0M138.2 537.1h0M180.0 529.8h0M96.6 547.0h0M147.8 515.5h0M180.4 481.0h0M147.6 500.9h0M183.0 535.0h0M193.4 451.2h0M185.2 506.9h0M150.4 497.3h0M106.9 547.0h0M114.7 529.0h0M149.8 535.1h0M172.5 523.0h0M124.6 519.7h0M154.8 505.1h0M97.5 535.7h0M160.4 496.0h0M222.1 496.8h0M170.3 487.8h0M161.8 487.1h0M123.3 507.5h0M129.5 539.8h0M124.1 519.1h0M189.1 464.4h0M136.9 547.0h0M130.8 530.4h0M125.4 538.0h0M146.9 540.7h0M210.6 472.5h0M206.9 475.5h0M144.8 535.1h0M141.1 532.1h0M182.1 479.8h0M159.9 518.5h0M157.6 494.4h0M210.2 425.8h0M169.9 492.0h0M124.1 506.8h0M176.3 500.4h0M133.1 535.7h0M151.7 513.1h0M198.6 462.4h0M165.9 472.6h0M136.1 507.8h0M195.7 448.3h0M170.2 487.1h0M134.9 543.2h0M178.0 470.8h0M154.9 511.5h0M152.8 491.2h0M219.8 437.2h0M107.4 532.2h0M151.8 532.8h0M169.1 539.0h0M198.6 447.1h0M154.5 521.4h0M168.8 513.6h0M129.5 547.0h0M170.8 497.9h0M219.6 422.4h0M171.4 475.6h0M150.6 527.7h0M200.8 448.0h0M201.7 476.0h0M156.2 501.1h0M198.2 444.1h0M152.7 547.0h0M211.2 430.9h0M104.8 542.5h0M109.8 547.0h0M194.3 497.9h0M120.9 518.5h0M137.8 547.0h0M130.6 547.0h0M136.9 519.3h0M182.1 483.8h0M184.4 490.4h0M173.6 469.6h0M196.6 471.7h0M180.7 461.2h0M95.1 547.0h0M148.4 486.9h0M128.3 542.2h0M116.5 462.7h0M108.3 542.0h0M165.6 485.4h0M155.5 491.7h0M151.0 501.8h0M144.6 547.0h0M138.2 525.8h0M206.6 425.8h0M182.5 481.6h0M178.3 476.9h0M155.2 503.6h0M87.1 547.0h0M137.2 506.3h0M127.3 519.9h0M130.7 546.4h0M166.9 519.8h0M187.1 475.7h0M209.6 466.5h0M228.1 418.3h0M117.5 529.0h0M181.9 464.7h0M114.9 547.0h0M168.3 517.3h0M115.5 547.0h0M152.5 547.0h0M129.5 547.0h0M205.8 450.1h0M186.0 523.8h0M164.0 544.1h0M156.7 503.2h0M167.8 494.5h0M196.3 452.4h0M151.9 507.8h0M144.2 517.5h0M147.7 489.0h0M201.5 471.5h0M201.8 437.2h0M155.1 499.4h0M187.2 448.9h0M93.6 547.0h0M237.8 440.9h0M180.3 537.8h0M129.8 529.0h0M111.5 542.2h0M113.5 523.2h0M170.0 494.6h0M162.7 498.2h0M158.4 510.4h0M100.8 547.0h0M176.0 503.4h0M144.6 512.2h0M184.3 473.2h0M179.8 458.9h0M195.1 478.0h0M195.7 441.1h0M120.5 546.9h0M186.0 454.1h0M182.7 461.0h0M200.6 452.2h0M157.5 494.3h0M131.3 533.2h0M145.9 512.6h0M154.5 484.9h0M173.0 498.7h0M143.4 498.6h0M150.8 501.0h0M282.9 352.8h0M132.0 535.1h0M107.4 547.0h0M153.0 547.0h0M172.7 520.7h0M218.6 423.4h0M130.9 547.0h0M161.2 496.3h0M117.2 547.0h0M107.9 547.0h0M205.4 459.1h0M129.4 518.4h0M107.6 534.3h0M105.7 547.0h0M151.1 501.6h0M121.8 530.0h0M135.5 503.6h0M161.5 483.1h0M156.5 523.5h0M122.6 547.0h0M136.2 503.8h0M127.0 547.0h0M160.7 547.0h0M179.2 454.0h0M127.7 510.2h0M195.8 467.5h0M175.4 545.6h0M205.6 459.7h0M180.5 501.8h0M154.3 482.4h0M164.1 488.2h0M165.3 475.3h0M228.3 462.4h0M122.5 527.3h0M144.2 530.5h0M174.4 467.8h0M159.1 523.5h0M184.8 467.9h0M141.7 547.0h0M128.2 522.4h0M133.0 531.8h0M147.1 498.4h0M172.7 475.1h0M172.8 468.3h0M216.6 433.2h0M172.4 488.4h0M169.6 527.4h0M161.5 481.6h0M138.0 522.1h0M128.5 509.3h0M112.2 537.5h0M160.2 537.9h0M290.9 371.8h0M213.2 459.4h0M182.6 468.8h0M123.2 547.0h0M145.3 547.0h0M185.6 488.5h0M87.4 547.0h0M262.6 375.3h0M193.3 529.3h0M212.5 437.6h0M144.0 519.9h0M163.0 486.0h0M143.7 486.8h0M226.2 422.8h0M125.9 547.0h0M229.3 435.4h0M180.1 485.1h0M132.4 528.3h0M108.8 541.5h0M177.2 528.9h0M216.7 422.4h0M264.4 397.2h0M134.7 539.3h0M139.0 521.7h0M155.9 511.0h0M162.2 480.0h0M182.9 483.1h0M141.0 542.6h0M152.5 498.7h0M243.1 393.1h0M89.8 546.5h0M150.2 497.8h0M134.1 514.7h0M141.4 523.9h0M155.9 547.0h0M115.7 519.1h0M119.6 547.0h0M123.7 539.5h0M109.1 536.0h0M160.7 483.7h0M179.4 472.2h0M136.2 496.4h0M191.2 514.6h0M124.5 547.0h0M200.4 438.3h0M201.8 472.5h0M109.3 540.5h0M133.7 539.5h0M130.8 526.0h0M186.7 468.3h0M124.2 528.5h0M179.4 504.2h0M189.4 449.6h0M204.0 433.8h0M160.0 492.4h0M194.9 519.7h0M166.5 474.9h0M143.6 505.5h0M210.2 448.8h0M171.3 478.2h0M172.9 511.6h0M115.3 547.0h0M100.5 547.0h0M178.7 461.1h0M171.9 522.9h0M219.4 418.5h0M153.4 513.7h0M165.4 524.7h0M150.2 515.8h0M157.6 528.4h0M154.3 509.7h0M137.1 547.0h0M176.1 482.0h0M146.8 537.2h0M115.0 523.1h0M116.9 547.0h0M212.2 458.6h0M137.3 527.0h0M112.6 527.3h0M93.6 547.0h0M155.6 491.3h0M111.7 547.0h0M197.5 445.8h0M186.5 446.8h0M157.0 533.6h0M144.1 545.6h0M165.0 541.6h0M166.5 501.4h0M115.8 547.0h0M147.3 502.3h0M149.6 486.3h0M201.3 449.0h0M151.5 540.5h0M213.7 426.1h0M171.6 463.2h0M190.2 451.5h0M187.0 505.2h0M153.6 483.1h0M210.6 451.7h0M195.9 470.4h0M114.0 528.5h0M145.7 527.2h0M163.0 497.7h0M148.3 547.0h0M103.5 547.0h0M194.6 460.6h0M111.4 547.0h0M136.1 547.0h0M181.0 525.3h0M164.6 491.4h0M221.0 417.4h0M185.1 471.6h0M156.3 531.9h0M189.5 511.2h0M187.5 473.2h0M188.5 454.7h0M115.6 530.5h0M175.0 504.8h0M157.0 494.7h0M199.5 448.7h0M172.1 484.9h0M223.2 416.8h0M217.4 427.1h0M161.3 483.3h0M189.5 467.7h0M101.7 547.0h0M174.0 474.9h0M211.9 451.2h0M181.1 496.6h0M151.9 500.7h0M136.5 520.0h0M143.0 506.3h0M129.0 508.6h0M112.1 544.4h0M107.9 547.0h0M146.2 505.8h0M207.0 465.8h0M107.0 538.1h0M173.1 493.0h0M159.1 511.4h0M130.1 543.6h0M118.5 547.0h0M153.7 541.5h0M188.3 462.6h0M240.7 391.6h0M201.1 441.7h0M159.3 501.4h0M150.8 501.9h0M98.3 533.8h0M167.3 482.3h0M115.8 533.2h0M185.2 449.7h0M233.1 405.4h0M114.2 535.3h0M122.6 530.7h0M104.0 547.0h0M151.1 492.0h0M125.1 547.0h0M146.3 547.0h0M118.4 528.1h0M168.0 496.5h0M171.7 531.1h0M116.2 547.0h0M132.7 498.9h0M149.2 486.1h0M173.0 478.9h0M113.1 533.3h0M158.5 496.3h0M120.6 541.1h0M127.6 547.0h0M167.0 495.5h0M185.3 457.7h0M169.6 507.9h0M168.4 495.5h0M144.6 547.0h0M165.6 509.2h0M153.1 491.6h0M208.0 471.4h0M249.1 390.8h0M129.1 547.0h0M166.3 514.7h0M120.0 547.0h0M138.6 521.2h0M162.5 521.2h0M130.0 511.5h0M192.4 483.7h0M141.1 518.9h0M159.6 508.8h0M198.7 469.8h0M128.0 510.7h0M89.9 547.0h0M180.9 508.4h0M160.3 499.6h0M164.4 485.4h0M195.1 494.0h0M189.0 483.1h0M117.7 536.7h0M235.3 398.5h0M141.2 504.1h0M152.7 503.0h0M154.4 533.1h0M208.5 475.7h0M139.2 547.0h0M180.0 472.1h0M124.9 546.7h0M209.3 466.5h0M150.0 497.0h0M139.9 499.9h0M158.7 488.2h0M205.6 468.9h0M228.9 407.0h0M221.9 417.0h0M182.3 491.9h0M183.1 486.8h0M124.7 536.4h0M136.0 506.5h0M110.1 526.2h0M137.4 547.0h0M136.3 502.9h0M196.7 468.5h0M205.9 514.5h0M166.7 504.2h0M159.6 484.7h0M152.7 508.3h0M181.8 476.8h0M166.4 505.5h0M165.9 482.3h0M148.8 507.9h0M133.2 506.1h0M172.1 517.9h0M180.0 473.6h0M180.9 483.6h0M210.0 446.5h0M161.0 544.5h0M220.1 429.9h0M222.7 424.3h0M159.3 547.0h0M136.1 521.7h0M150.9 485.2h0M147.2 486.2h0M189.6 457.2h0M174.4 485.5h0M162.5 500.4h0M177.8 503.3h0M111.1 523.8h0M209.0 449.2h0M200.5 443.5h0M123.5 547.0h0M230.8 422.6h0M135.5 521.1h0M154.5 547.0h0M269.3 383.4h0M169.5 475.8h0M229.9 464.9h0M204.8 462.6h0M243.8 415.8h0M146.0 532.9h0M122.1 517.1h0M141.1 525.5h0M172.7 467.0h0M206.2 445.1h0M169.6 494.9h0M182.9 508.0h0M197.3 505.7h0M136.5 501.0h0M200.3 481.4h0M190.3 477.5h0M193.6 476.6h0M173.0 470.6h0M115.0 526.8h0M123.7 544.4h0M155.6 493.6h0M92.9 547.0h0M173.3 466.7h0M126.7 531.2h0M123.5 533.6h0M171.5 488.0h0M112.8 547.0h0M162.3 545.2h0M152.1 513.1h0M221.5 420.4h0M152.6 538.7h0M113.7 547.0h0M121.0 533.9h0M186.9 493.1h0M216.8 484.8h0M117.2 537.9h0M126.1 536.0h0M113.6 547.0h0M197.9 512.2h0M155.6 492.4h0M178.5 518.4h0M141.0 547.0h0M114.9 534.3h0M178.8 468.1h0M213.6 455.4h0M177.8 521.9h0M132.8 544.9h0M150.2 547.0h0M269.1 365.0h0M210.6 428.0h0M178.2 486.0h0M160.2 515.1h0M172.1 529.4h0M149.8 497.6h0M129.1 547.0h0M168.5 518.3h0M134.8 547.0h0M169.3 469.9h0M117.7 528.7h0M168.0 529.6h0M142.0 502.4h0M208.1 427.6h0M121.6 547.0h0M191.6 462.3h0M172.6 488.2h0M220.2 433.6h0M248.7 385.1h0M167.6 502.0h0M144.5 547.0h0M121.5 531.7h0M178.9 472.4h0M166.3 506.3h0M96.1 547.0h0M140.3 505.5h0M133.3 532.6h0M157.4 502.6h0M132.7 538.2h0M244.9 401.5h0M95.7 547.0h0M177.0 542.0h0M183.5 468.4h0M152.3 523.2h0M145.6 542.2h0M150.0 536.8h0M165.8 490.3h0M114.2 547.0h0M100.6 547.0h0M110.5 538.0h0M131.0 511.0h0M177.5 463.6h0M227.0 432.6h0M201.4 444.1h0M200.0 477.3h0M191.4 465.2h0M160.3 496.5h0M190.6 467.0h0M143.6 520.7h0M173.5 493.7h0M186.4 484.3h0M157.1 523.6h0M155.0 512.1h0M162.6 545.4h0M189.8 492.1h0M270.5 362.3h0M207.7 430.3h0M130.3 500.4h0M191.8 488.8h0M200.0 489.4h0M204.0 450.3h0M182.6 466.5h0M87.9 547.0h0M89.5 500.9h0M137.5 547.0h0M128.7 527.7h0M181.6 489.9h0M154.8 504.2h0M165.9 508.1h0M102.6 547.0h0M204.8 438.9h0M164.3 479.1h0M162.5 536.4h0M178.1 546.6h0M159.2 493.8h0M152.1 502.5h0M188.4 457.8h0M216.3 444.8h0M173.9 466.3h0M132.3 520.2h0M207.8 509.7h0M153.2 478.4h0M132.1 500.0h0M241.1 401.4h0M191.0 470.0h0M185.9 447.3h0M183.8 465.2h0M182.5 467.5h0M135.0 539.6h0M212.1 458.4h0M300.9 355.7h0M217.1 457.6h0M129.6 517.9h0M186.0 455.8h0M209.1 470.7h0M146.7 530.9h0M157.5 510.3h0M104.2 547.0h0M166.4 541.4h0M111.3 535.1h0M167.0 472.4h0M103.5 541.0h0M126.0 547.0h0M130.6 519.6h0M170.4 497.9h0M222.0 419.7h0M116.6 538.9h0M123.3 547.0h0M101.3 547.0h0M177.5 484.0h0M198.4 453.3h0M156.5 508.6h0M157.7 534.8h0M177.4 507.3h0M169.9 494.2h0M123.1 547.0h0M167.1 480.2h0M163.5 493.7h0M121.9 547.0h0M146.9 547.0h0M166.9 522.2h0M135.1 519.8h0M153.8 505.4h0M193.8 530.5h0M107.0 543.2h0M118.8 542.2h0M151.0 502.0h0M149.8 530.4h0M182.8 487.0h0M157.7 533.9h0M101.6 545.6h0M203.5 459.9h0M180.5 469.3h0M128.4 520.8h0M92.5 542.7h0M91.2 545.5h0M178.0 472.8h0M139.4 498.3h0M186.7 458.6h0M124.7 547.0h0M169.7 508.6h0M173.7 535.6h0M150.3 500.6h0M130.8 547.0h0M149.8 531.8h0M136.3 522.7h0M115.6 539.5h0M165.3 545.3h0M141.8 500.0h0M158.7 481.3h0M168.0 543.0h0M129.3 545.1h0M102.8 547.0h0M146.2 526.1h0M218.1 424.7h0M200.1 458.0h0M248.1 399.3h0M121.0 547.0h0M130.6 530.4h0M147.2 499.1h0M181.0 467.0h0M172.3 493.0h0M154.6 541.2h0M138.9 547.0h0M290.0 376.5h0M177.8 496.0h0M124.4 531.9h0M200.6 435.7h0M217.5 430.3h0M141.9 547.0h0M196.9 441.5h0M182.5 482.4h0" stroke="#e8302a" stroke-width="3.6" stroke-linecap="round" fill="none"/>
<circle cx="300.5" cy="309.6" r="3.0" fill="#b3b3b3" stroke="#111" stroke-width="1.4"/>
<circle cx="293.6" cy="348.7" r="3.0" fill="#e8302a" stroke="#111" stroke-width="1.4"/>
<circle cx="275.6" cy="377.5" r="3.0" fill="#e8302a" stroke="#111" stroke-width="1.4"/>
<circle cx="233.2" cy="415.7" r="3.0" fill="#e8302a" stroke="#111" stroke-width="1.4"/>
<circle cx="215.2" cy="389.9" r="3.0" fill="#b3b3b3" stroke="#111" stroke-width="1.4"/>
<circle cx="218.0" cy="351.2" r="3.0" fill="#b3b3b3" stroke="#111" stroke-width="1.4"/>
<circle cx="208.3" cy="360.9" r="3.0" fill="#3d9a4a" stroke="#111" stroke-width="1.4"/>
<circle cx="197.2" cy="349.2" r="3.0" fill="#3d9a4a" stroke="#111" stroke-width="1.4"/>
<circle cx="149.2" cy="375.7" r="3.0" fill="#3d9a4a" stroke="#111" stroke-width="1.4"/>
<circle cx="173.2" cy="380.0" r="3.0" fill="#3d9a4a" stroke="#111" stroke-width="1.4"/>
<circle cx="169.5" cy="383.7" r="3.0" fill="#3d9a4a" stroke="#111" stroke-width="1.4"/>
<circle cx="146.3" cy="427.2" r="3.0" fill="#b3b3b3" stroke="#111" stroke-width="1.4"/>
<circle cx="126.7" cy="424.9" r="3.0" fill="#3d9a4a" stroke="#111" stroke-width="1.4"/>
<circle cx="114.2" cy="434.6" r="3.0" fill="#3d9a4a" stroke="#111" stroke-width="1.4"/>
<circle cx="108.0" cy="451.5" r="3.0" fill="#3d9a4a" stroke="#111" stroke-width="1.4"/>
<circle cx="68.4" cy="454.0" r="3.0" fill="#3d9a4a" stroke="#111" stroke-width="1.4"/>
<circle cx="77.6" cy="483.0" r="3.0" fill="#3d9a4a" stroke="#111" stroke-width="1.4"/>
<circle cx="169.5" cy="494.2" r="3.0" fill="#e8302a" stroke="#111" stroke-width="1.4"/>
<circle cx="162.3" cy="531.1" r="3.0" fill="#e8302a" stroke="#111" stroke-width="1.4"/>
<text x="299.1" y="304.5" font-size="10.3" stroke="#111" stroke-width="0.34">Oct4</text>
<text x="297.5" y="346.8" font-size="10.3" stroke="#111" stroke-width="0.34">Dnmt3b</text>
<text x="278.9" y="375.1" font-size="10.3" stroke="#111" stroke-width="0.34">Dnmt3a</text>
<text x="238.2" y="419.4" font-size="10.3" stroke="#111" stroke-width="0.34">Oct6</text>
<text x="219.4" y="389.5" font-size="10.3" stroke="#111" stroke-width="0.34">Otx2</text>
<text x="221.6" y="350.2" font-size="10.3" stroke="#111" stroke-width="0.34">Sox2</text>
<text x="212.5" y="366.2" font-size="10.3" stroke="#111" stroke-width="0.34">Rex1</text>
<text x="187.4" y="344.9" font-size="10.3" stroke="#111" stroke-width="0.34">Klf2</text>
<text x="139.4" y="371.3" font-size="10.3" stroke="#111" stroke-width="0.34">Nr0b1</text>
<text x="178.2" y="380.6" font-size="10.3" stroke="#111" stroke-width="0.34">Nanog</text>
<text x="172.2" y="393.9" font-size="10.3" stroke="#111" stroke-width="0.34">Esrrb</text>
<text x="143.0" y="424.5" font-size="10.3" stroke="#111" stroke-width="0.34">Wnt8a</text>
<text x="116.9" y="420.6" font-size="10.3" stroke="#111" stroke-width="0.34">Tet2</text>
<text x="119.2" y="440.3" font-size="10.3" stroke="#111" stroke-width="0.34">Tcl1</text>
<text x="112.3" y="456.0" font-size="10.3" stroke="#111" stroke-width="0.34">Klf4</text>
<text x="65.0" y="450.7" font-size="10.3" stroke="#111" stroke-width="0.34">Prdm14</text>
<text x="81.0" y="487.3" font-size="10.3" stroke="#111" stroke-width="0.34">Tbx3</text>
<text x="170.8" y="490.6" font-size="10.3" stroke="#111" stroke-width="0.34">Fgf5</text>
<text x="161.0" y="527.1" font-size="10.3" stroke="#111" stroke-width="0.34">Fgf15</text>
<rect x="57.00" y="245.30" width="313.20" height="312.50" fill="none" stroke="#111" stroke-width="1.6"/>
<line x1="67.5" y1="557.8" x2="67.5" y2="560.6" stroke="#000" stroke-width="1.3"/>
<text x="67.5" y="569.6" font-size="9.6" text-anchor="middle" stroke="#111" stroke-width="0.34">0.1</text>
<line x1="128.0" y1="557.8" x2="128.0" y2="560.6" stroke="#000" stroke-width="1.3"/>
<text x="128.0" y="569.6" font-size="9.6" text-anchor="middle" stroke="#111" stroke-width="0.34">1</text>
<line x1="188.5" y1="557.8" x2="188.5" y2="560.6" stroke="#000" stroke-width="1.3"/>
<text x="188.5" y="569.6" font-size="9.6" text-anchor="middle" stroke="#111" stroke-width="0.34">10</text>
<line x1="249.0" y1="557.8" x2="249.0" y2="560.6" stroke="#000" stroke-width="1.3"/>
<text x="249.0" y="569.6" font-size="9.6" text-anchor="middle" stroke="#111" stroke-width="0.34">100</text>
<line x1="309.5" y1="557.8" x2="309.5" y2="560.6" stroke="#000" stroke-width="1.3"/>
<text x="309.5" y="569.6" font-size="9.6" text-anchor="middle" stroke="#111" stroke-width="0.34">1000</text>
<line x1="370.0" y1="557.8" x2="370.0" y2="560.6" stroke="#000" stroke-width="1.3"/>
<text x="370.0" y="569.6" font-size="9.6" text-anchor="middle" stroke="#111" stroke-width="0.34">10000</text>
<line x1="53.8" y1="547.0" x2="57.0" y2="547.0" stroke="#000" stroke-width="1.3"/>
<text x="54.0" y="550.6" font-size="10.0" text-anchor="end" stroke="#111" stroke-width="0.34">0.1</text>
<line x1="53.8" y1="486.5" x2="57.0" y2="486.5" stroke="#000" stroke-width="1.3"/>
<text x="54.0" y="490.1" font-size="10.0" text-anchor="end" stroke="#111" stroke-width="0.34">1</text>
<line x1="53.8" y1="426.0" x2="57.0" y2="426.0" stroke="#000" stroke-width="1.3"/>
<text x="54.0" y="429.6" font-size="10.0" text-anchor="end" stroke="#111" stroke-width="0.34">10</text>
<line x1="53.8" y1="365.5" x2="57.0" y2="365.5" stroke="#000" stroke-width="1.3"/>
<text x="54.0" y="369.1" font-size="10.0" text-anchor="end" stroke="#111" stroke-width="0.34">100</text>
<line x1="53.8" y1="305.0" x2="57.0" y2="305.0" stroke="#000" stroke-width="1.3"/>
<text x="54.0" y="308.6" font-size="10.0" text-anchor="end" stroke="#111" stroke-width="0.34">1000</text>
<line x1="53.8" y1="244.5" x2="57.0" y2="244.5" stroke="#000" stroke-width="1.3"/>
<text x="54.0" y="248.1" font-size="10.0" text-anchor="end" stroke="#111" stroke-width="0.34">10000</text>
<text x="144.8" y="584.0" font-size="12.4" stroke="#111" stroke-width="0.34">Wild type EpiLC (FPKM)</text>
<text transform="translate(34.0,398.5) rotate(-90)" font-size="12.4" text-anchor="middle" stroke="#111" stroke-width="0.34">Dgcr8-/- EpiLC (FPKM)</text>
<circle cx="67.4" cy="254.8" r="4.4" fill="#e8302a"/>
<text x="76.5" y="258.7" font-size="10.3" stroke="#111" stroke-width="0.34">Genes up&gt;2 fold by miR-302a</text>
<circle cx="67.4" cy="270.6" r="4.4" fill="#3d9a4a"/>
<text x="76.5" y="274.5" font-size="10.3" stroke="#111" stroke-width="0.34">Genes Down&gt;2 fold by miR-302a</text>
<circle cx="67.4" cy="286.3" r="4.4" fill="#a8a8a8"/>
<text x="76.5" y="290.2" font-size="10.3" stroke="#111" stroke-width="0.34">Other genes</text>
<text x="390.8" y="247.5" font-size="16.6" stroke="#111" stroke-width="0.34">D</text>
<rect x="435.60" y="243.60" width="159.90" height="312.80" fill="none" stroke="#111" stroke-width="1.6"/>
<line x1="432.4" y1="289.5" x2="435.6" y2="289.5" stroke="#000" stroke-width="1.3"/>
<text x="433.0" y="293.1" font-size="9.9" text-anchor="end" stroke="#111" stroke-width="0.34">100</text>
<line x1="432.4" y1="344.8" x2="435.6" y2="344.8" stroke="#000" stroke-width="1.3"/>
<text x="433.0" y="348.4" font-size="9.9" text-anchor="end" stroke="#111" stroke-width="0.34">10</text>
<line x1="432.4" y1="400.2" x2="435.6" y2="400.2" stroke="#000" stroke-width="1.3"/>
<text x="433.0" y="403.8" font-size="9.9" text-anchor="end" stroke="#111" stroke-width="0.34">1</text>
<line x1="432.4" y1="455.6" x2="435.6" y2="455.6" stroke="#000" stroke-width="1.3"/>
<text x="433.0" y="459.2" font-size="9.9" text-anchor="end" stroke="#111" stroke-width="0.34">0.1</text>
<line x1="432.4" y1="510.9" x2="435.6" y2="510.9" stroke="#000" stroke-width="1.3"/>
<text x="433.0" y="514.5" font-size="9.9" text-anchor="end" stroke="#111" stroke-width="0.34">0.01</text>
<text transform="translate(412.0,399.4) rotate(-90)" font-size="12.45" text-anchor="middle" stroke="#111" stroke-width="0.34">Relative mRNA expression (EpiLC/ESC)</text>
<path d="M446.50 253.90L446.50 250.00M446.50 253.90L450.21 252.69M446.50 253.90L448.79 257.06M446.50 253.90L444.21 257.06M446.50 253.90L442.79 252.69" stroke="#111" stroke-width="1.9" stroke-linecap="round" fill="none"/>
<text x="455.0" y="257.8" font-size="11.3" stroke="#111" stroke-width="0.34" textLength="44.0" lengthAdjust="spacingAndGlyphs">:P&lt;1.0e</text>
<text x="499.3" y="252.6" font-size="6.6" stroke="#111" stroke-width="0.34" textLength="10.8" lengthAdjust="spacingAndGlyphs">-15</text>
<path d="M455 326 V277.2 H534.6 V305.4" fill="none" stroke="#444" stroke-width="1.2"/>
<path d="M495.4 340 V334.2 H574.3 V342" fill="none" stroke="#444" stroke-width="1.2"/>
<path d="M496.10 271.90L496.10 268.70M496.10 271.90L499.14 270.91M496.10 271.90L497.98 274.49M496.10 271.90L494.22 274.49M496.10 271.90L493.06 270.91" stroke="#111" stroke-width="1.6" stroke-linecap="round" fill="none"/>
<path d="M555.90 328.50L555.90 325.30M555.90 328.50L558.94 327.51M555.90 328.50L557.78 331.09M555.90 328.50L554.02 331.09M555.90 328.50L552.86 327.51" stroke="#111" stroke-width="1.6" stroke-linecap="round" fill="none"/>
<path d="M455.3 321.8h0M452.5 329.0h0M454.8 326.9h0M455.0 307.4h0M454.6 320.5h0M454.9 311.5h0M454.0 326.6h0M455.0 327.1h0M453.8 329.1h0M453.9 328.5h0M453.8 311.7h0M455.5 322.7h0M451.7 298.8h0M453.6 320.8h0M454.5 328.9h0M452.7 329.2h0M456.9 310.3h0M455.1 301.8h0M452.0 321.3h0M454.3 329.4h0M453.3 305.9h0M453.0 327.8h0M454.3 321.9h0M453.5 311.6h0M455.4 307.9h0M453.1 309.7h0M453.5 308.9h0M452.8 329.4h0M454.2 305.4h0M453.8 323.1h0M451.0 287.0h0M452.5 296.5h0M456.5 303.0h0M453.9 445.7h0M451.4 464.4h0M456.1 454.4h0M455.6 444.8h0M453.9 445.9h0M454.2 453.0h0M453.6 449.1h0M454.5 448.8h0M453.8 473.8h0M453.4 448.1h0M454.8 447.1h0M455.1 468.8h0M455.6 446.6h0M452.4 450.1h0M452.6 444.2h0M454.8 444.9h0M455.6 457.7h0M455.0 456.2h0M455.7 451.5h0M454.0 467.1h0M457.0 468.9h0M453.2 465.2h0M455.9 458.3h0M456.3 451.7h0M456.1 444.2h0M452.7 458.7h0M456.2 469.2h0M455.9 447.9h0M455.0 454.1h0M453.6 448.4h0M451.5 485.6h0M455.5 466.0h0M452.5 468.5h0M458.0 472.0h0M491.0 353.0h0M493.7 338.8h0M494.1 352.9h0M494.1 346.7h0M498.8 340.6h0M493.9 348.5h0M493.5 347.7h0M493.9 340.5h0M494.1 350.4h0M494.1 341.6h0M496.4 353.5h0M493.7 350.2h0M495.1 336.2h0M494.0 346.9h0M493.2 299.6h0M494.8 306.0h0M497.6 311.5h0M498.5 322.0h0M497.0 328.0h0M494.4 502.1h0M495.5 503.8h0M494.6 487.4h0M494.8 495.5h0M494.9 498.7h0M496.7 500.1h0M495.3 481.3h0M497.6 504.2h0M496.1 503.4h0M493.4 475.0h0M493.7 491.3h0M494.5 489.7h0M492.2 483.5h0M493.4 483.6h0M491.8 479.0h0M494.9 484.3h0M495.9 501.9h0M495.9 476.9h0M493.3 483.3h0M494.3 482.8h0M495.7 475.3h0M493.8 479.3h0M493.8 475.9h0M494.4 499.3h0M493.9 492.7h0M495.2 500.8h0M494.1 496.3h0M495.6 479.7h0M496.4 503.6h0M496.1 483.5h0M494.8 500.2h0M495.5 477.8h0M494.8 473.9h0M495.0 498.9h0M493.0 543.9h0M495.4 546.8h0M499.0 537.4h0M532.7 283.8h0M535.0 296.3h0M534.5 306.3h0M533.4 299.8h0M536.6 306.4h0M532.8 291.0h0M536.5 299.0h0M532.1 278.9h0M532.9 300.3h0M533.8 289.9h0M535.1 294.9h0M533.6 279.9h0M535.5 289.8h0M534.1 304.2h0M534.2 280.3h0M534.4 288.5h0M534.0 296.8h0M533.9 304.6h0M532.6 283.8h0M532.9 305.4h0M535.3 298.6h0M534.8 304.0h0M534.4 284.1h0M531.8 296.7h0M534.1 306.5h0M532.8 306.1h0M535.8 254.6h0M536.1 442.6h0M533.6 439.7h0M535.6 445.2h0M535.8 445.3h0M534.5 435.4h0M532.4 435.0h0M534.3 448.3h0M535.5 435.3h0M536.2 448.8h0M532.0 481.0h0M574.6 353.9h0M573.0 349.5h0M572.9 361.2h0M576.0 364.5h0M573.4 348.8h0M574.7 361.2h0M573.0 362.0h0M575.1 357.0h0M573.6 342.2h0M572.5 354.0h0M573.9 362.6h0M574.6 354.2h0M574.0 364.4h0M573.5 357.9h0M574.3 353.8h0M573.6 357.2h0M573.1 362.9h0M573.1 362.8h0M572.5 490.7h0M573.8 490.4h0M574.1 516.3h0M575.5 494.9h0M576.1 484.4h0M574.2 487.9h0M576.3 486.3h0M575.1 513.1h0M576.2 488.3h0M573.9 502.3h0M574.6 518.7h0M574.8 492.3h0M574.0 483.1h0M574.6 493.2h0M576.3 502.9h0M571.3 502.4h0M576.2 485.0h0M576.3 484.2h0M573.2 495.8h0M572.7 516.1h0M573.2 521.3h0M572.5 523.3h0M574.3 492.4h0M575.6 509.5h0M574.1 495.4h0M574.4 495.3h0M572.7 500.4h0M574.3 487.9h0M577.7 484.1h0M574.1 495.8h0M573.3 488.3h0M573.9 492.3h0M573.8 497.0h0M573.7 507.8h0M574.5 489.1h0M573.6 502.1h0M577.9 535.1h0M574.4 552.6h0" stroke="#a9a9a9" stroke-width="3.2" stroke-linecap="round" fill="none"/>
<line x1="455.0" y1="330.9" x2="455.0" y2="371.9" stroke="#111" stroke-width="1.6" stroke-dasharray="4.2 3"/>
<line x1="455.0" y1="400.7" x2="455.0" y2="442.4" stroke="#111" stroke-width="1.6" stroke-dasharray="4.2 3"/>
<line x1="450.0" y1="330.9" x2="460.0" y2="330.9" stroke="#000" stroke-width="1.7"/>
<line x1="450.0" y1="442.4" x2="460.0" y2="442.4" stroke="#000" stroke-width="1.7"/>
<path d="M444.9 371.9 H465.3 V383.5 L462.1 389.7 L465.3 395.9 V400.7 H444.9 V395.9 L448.09999999999997 389.7 L444.9 383.5 Z" fill="#e8312b" stroke="#111" stroke-width="1.4"/>
<line x1="448.1" y1="389.7" x2="462.1" y2="389.7" stroke="#000" stroke-width="1.4"/>
<line x1="494.8" y1="355.4" x2="494.8" y2="398.0" stroke="#111" stroke-width="1.6" stroke-dasharray="4.2 3"/>
<line x1="494.8" y1="428.0" x2="494.8" y2="471.4" stroke="#111" stroke-width="1.6" stroke-dasharray="4.2 3"/>
<line x1="489.8" y1="355.4" x2="499.8" y2="355.4" stroke="#000" stroke-width="1.7"/>
<line x1="489.8" y1="471.4" x2="499.8" y2="471.4" stroke="#000" stroke-width="1.7"/>
<path d="M484.4 398.0 H505.3 V404.6 L502.1 410.8 L505.3 417.0 V428.0 H484.4 V417.0 L487.59999999999997 410.8 L484.4 404.6 Z" fill="#3a9446" stroke="#111" stroke-width="1.4"/>
<line x1="487.6" y1="410.8" x2="502.1" y2="410.8" stroke="#000" stroke-width="1.4"/>
<line x1="534.3" y1="308.4" x2="534.3" y2="355.7" stroke="#111" stroke-width="1.6" stroke-dasharray="4.2 3"/>
<line x1="534.3" y1="387.1" x2="534.3" y2="433.5" stroke="#111" stroke-width="1.6" stroke-dasharray="4.2 3"/>
<line x1="529.3" y1="308.4" x2="539.3" y2="308.4" stroke="#000" stroke-width="1.7"/>
<line x1="529.3" y1="433.5" x2="539.3" y2="433.5" stroke="#000" stroke-width="1.7"/>
<path d="M524.1 355.7 H544.5 V365.7 L541.3 371.9 L544.5 378.09999999999997 V387.1 H524.1 V378.09999999999997 L527.3000000000001 371.9 L524.1 365.7 Z" fill="#e8312b" stroke="#111" stroke-width="1.4"/>
<line x1="527.3" y1="371.9" x2="541.3" y2="371.9" stroke="#000" stroke-width="1.4"/>
<line x1="574.5" y1="365.9" x2="574.5" y2="408.6" stroke="#111" stroke-width="1.6" stroke-dasharray="4.2 3"/>
<line x1="574.5" y1="438.7" x2="574.5" y2="481.6" stroke="#111" stroke-width="1.6" stroke-dasharray="4.2 3"/>
<line x1="569.5" y1="365.9" x2="579.5" y2="365.9" stroke="#000" stroke-width="1.7"/>
<line x1="569.5" y1="481.6" x2="579.5" y2="481.6" stroke="#000" stroke-width="1.7"/>
<path d="M564.7 408.6 H584.3 V416.8 L581.0999999999999 423.0 L584.3 429.2 V438.7 H564.7 V429.2 L567.9000000000001 423.0 L564.7 416.8 Z" fill="#3a9446" stroke="#111" stroke-width="1.4"/>
<line x1="567.9" y1="423.0" x2="581.1" y2="423.0" stroke="#000" stroke-width="1.4"/>
<text x="445.7" y="568.0" font-size="12.1" font-weight="normal" fill="#e8312b" stroke="#e8312b" stroke-width="0.45">Up</text>
<text x="470.3" y="568.0" font-size="12.1" font-weight="normal" fill="#3a9446" stroke="#3a9446" stroke-width="0.45">Down</text>
<line x1="444.9" y1="570.9" x2="504.2" y2="570.9" stroke="#000" stroke-width="1.2"/>
<text x="475.0" y="582.8" font-size="12.0" text-anchor="middle" stroke="#111" stroke-width="0.34">Mock</text>
<text x="525.3" y="568.0" font-size="12.1" font-weight="normal" fill="#e8312b" stroke="#e8312b" stroke-width="0.45">Up</text>
<text x="549.2" y="568.0" font-size="12.1" font-weight="normal" fill="#3a9446" stroke="#3a9446" stroke-width="0.45">Down</text>
<line x1="524.4" y1="570.9" x2="582.9" y2="570.9" stroke="#000" stroke-width="1.2"/>
<text x="553.7" y="582.8" font-size="11.4" text-anchor="middle" stroke="#111" stroke-width="0.34">miR-302a</text>
<text x="2.0" y="606.2" font-size="18" stroke="#111" stroke-width="0.34">E</text>
<text x="158.5" y="610.9" font-size="14.4" stroke="#111" stroke-width="0.34">Enrichment plot</text>
<rect x="6.20" y="641.90" width="204.20" height="193.30" fill="#e5e1d6"/>
<rect x="32.20" y="645.60" width="175.40" height="73.20" fill="#fff"/>
<line x1="63.2" y1="645.6" x2="63.2" y2="718.8" stroke="#e2e2e2" stroke-width="0.8"/>
<line x1="94.2" y1="645.6" x2="94.2" y2="718.8" stroke="#e2e2e2" stroke-width="0.8"/>
<line x1="125.2" y1="645.6" x2="125.2" y2="718.8" stroke="#e2e2e2" stroke-width="0.8"/>
<line x1="156.2" y1="645.6" x2="156.2" y2="718.8" stroke="#e2e2e2" stroke-width="0.8"/>
<line x1="187.2" y1="645.6" x2="187.2" y2="718.8" stroke="#e2e2e2" stroke-width="0.8"/>
<line x1="32.2" y1="717.5" x2="207.6" y2="717.5" stroke="#e2e2e2" stroke-width="0.8"/>
<text x="29.6" y="720.2" font-size="7.9" text-anchor="end" stroke="#111" stroke-width="0.34">0.0</text>
<line x1="32.2" y1="708.6" x2="207.6" y2="708.6" stroke="#e2e2e2" stroke-width="0.8"/>
<text x="29.6" y="711.3" font-size="7.9" text-anchor="end" stroke="#111" stroke-width="0.34">0.1</text>
<line x1="32.2" y1="699.7" x2="207.6" y2="699.7" stroke="#e2e2e2" stroke-width="0.8"/>
<text x="29.6" y="702.4" font-size="7.9" text-anchor="end" stroke="#111" stroke-width="0.34">0.2</text>
<line x1="32.2" y1="690.7" x2="207.6" y2="690.7" stroke="#e2e2e2" stroke-width="0.8"/>
<text x="29.6" y="693.4" font-size="7.9" text-anchor="end" stroke="#111" stroke-width="0.34">0.3</text>
<line x1="32.2" y1="681.8" x2="207.6" y2="681.8" stroke="#e2e2e2" stroke-width="0.8"/>
<text x="29.6" y="684.5" font-size="7.9" text-anchor="end" stroke="#111" stroke-width="0.34">0.4</text>
<line x1="32.2" y1="672.9" x2="207.6" y2="672.9" stroke="#e2e2e2" stroke-width="0.8"/>
<text x="29.6" y="675.6" font-size="7.9" text-anchor="end" stroke="#111" stroke-width="0.34">0.5</text>
<line x1="32.2" y1="664.0" x2="207.6" y2="664.0" stroke="#e2e2e2" stroke-width="0.8"/>
<text x="29.6" y="666.7" font-size="7.9" text-anchor="end" stroke="#111" stroke-width="0.34">0.6</text>
<line x1="32.2" y1="655.1" x2="207.6" y2="655.1" stroke="#e2e2e2" stroke-width="0.8"/>
<text x="29.6" y="657.8" font-size="7.9" text-anchor="end" stroke="#111" stroke-width="0.34">0.7</text>
<line x1="32.2" y1="646.1" x2="207.6" y2="646.1" stroke="#e2e2e2" stroke-width="0.8"/>
<text x="29.6" y="648.8" font-size="7.9" text-anchor="end" stroke="#111" stroke-width="0.34">0.8</text>
<path d="M32.50 717.50 L32.92 713.73 L33.34 710.15 L33.76 706.75 L34.18 703.51 L34.60 700.43 L35.02 697.50 L35.44 694.72 L35.86 692.08 L36.28 689.57 L36.70 687.18 L37.11 684.92 L37.53 682.76 L37.95 680.72 L38.37 678.78 L38.79 676.94 L39.21 675.20 L39.63 673.54 L40.05 671.98 L40.47 670.49 L40.89 669.08 L41.31 667.75 L41.73 666.49 L42.15 665.29 L42.57 664.16 L42.99 663.09 L43.41 662.08 L43.83 661.13 L44.25 660.23 L44.67 659.38 L45.09 658.58 L45.50 657.83 L45.92 657.12 L46.34 656.45 L46.76 655.82 L47.18 655.23 L47.60 654.68 L48.02 654.16 L48.44 653.68 L48.86 653.22 L49.28 652.80 L49.70 652.41 L50.12 652.04 L50.54 651.70 L50.96 651.38 L51.38 651.09 L51.80 650.82 L52.22 650.58 L52.64 650.35 L53.06 650.14 L53.48 649.96 L53.89 649.79 L54.31 649.63 L54.73 649.50 L55.15 649.37 L55.57 649.27 L55.99 649.18 L56.41 649.10 L56.83 649.03 L57.25 648.98 L57.67 648.93 L58.09 648.90 L58.51 648.88 L58.93 648.87 L59.35 648.87 L59.77 648.88 L60.19 648.90 L60.61 648.92 L61.03 648.96 L61.45 649.00 L61.86 649.05 L62.28 649.10 L62.70 649.16 L63.12 649.23 L63.54 649.31 L63.96 649.39 L64.38 649.47 L64.80 649.56 L65.22 649.66 L65.64 649.76 L66.06 649.86 L66.48 649.97 L66.90 650.09 L67.32 650.20 L67.74 650.32 L68.16 650.45 L68.58 650.58 L69.00 650.71 L69.42 650.84 L69.84 650.98 L70.25 651.12 L70.67 651.26 L71.09 651.41 L71.51 651.55 L71.93 651.70 L72.35 651.86 L72.77 652.01 L73.19 652.17 L73.61 652.33 L74.03 652.49 L74.45 652.65 L74.87 652.81 L75.29 652.98 L75.71 653.14 L76.13 653.31 L76.55 653.48 L76.97 653.65 L77.39 653.83 L77.81 654.00 L78.23 654.17 L78.65 654.35 L79.06 654.53 L79.48 654.71 L79.90 654.88 L80.32 655.06 L80.74 655.25 L81.16 655.43 L81.58 655.61 L82.00 655.79 L82.42 655.98 L82.84 656.16 L83.26 656.35 L83.68 656.53 L84.10 656.72 L84.52 656.91 L84.94 657.10 L85.36 657.28 L85.78 657.47 L86.20 657.66 L86.62 657.85 L87.03 658.04 L87.45 658.24 L87.87 658.43 L88.29 658.62 L88.71 658.81 L89.13 659.00 L89.55 659.20 L89.97 659.39 L90.39 659.58 L90.81 659.78 L91.23 659.97 L91.65 660.17 L92.07 660.36 L92.49 660.56 L92.91 660.75 L93.33 660.95 L93.75 661.15 L94.17 661.34 L94.59 661.54 L95.01 661.74 L95.43 661.93 L95.84 662.13 L96.26 662.33 L96.68 662.53 L97.10 662.72 L97.52 662.92 L97.94 663.12 L98.36 663.32 L98.78 663.52 L99.20 663.72 L99.62 663.92 L100.04 664.12 L100.46 664.31 L100.88 664.51 L101.30 664.71 L101.72 664.91 L102.14 665.11 L102.56 665.31 L102.98 665.52 L103.40 665.72 L103.81 665.92 L104.23 666.12 L104.65 666.32 L105.07 666.52 L105.49 666.72 L105.91 666.92 L106.33 667.12 L106.75 667.33 L107.17 667.53 L107.59 667.73 L108.01 667.93 L108.43 668.13 L108.85 668.34 L109.27 668.54 L109.69 668.74 L110.11 668.94 L110.53 669.15 L110.95 669.35 L111.37 669.55 L111.79 669.76 L112.20 669.96 L112.62 670.16 L113.04 670.37 L113.46 670.57 L113.88 670.77 L114.30 670.98 L114.72 671.18 L115.14 671.39 L115.56 671.59 L115.98 671.79 L116.40 672.00 L116.82 672.20 L117.24 672.41 L117.66 672.61 L118.08 672.82 L118.50 673.02 L118.92 673.23 L119.34 673.43 L119.76 673.64 L120.18 673.84 L120.60 674.05 L121.01 674.26 L121.43 674.46 L121.85 674.67 L122.27 674.87 L122.69 675.08 L123.11 675.29 L123.53 675.49 L123.95 675.70 L124.37 675.91 L124.79 676.11 L125.21 676.32 L125.63 676.53 L126.05 676.73 L126.47 676.94 L126.89 677.15 L127.31 677.36 L127.73 677.56 L128.15 677.77 L128.57 677.98 L128.99 678.19 L129.40 678.39 L129.82 678.60 L130.24 678.81 L130.66 679.02 L131.08 679.23 L131.50 679.44 L131.92 679.65 L132.34 679.86 L132.76 680.06 L133.18 680.27 L133.60 680.48 L134.02 680.69 L134.44 680.90 L134.86 681.11 L135.28 681.32 L135.70 681.53 L136.12 681.74 L136.54 681.95 L136.96 682.16 L137.38 682.37 L137.79 682.59 L138.21 682.80 L138.63 683.01 L139.05 683.22 L139.47 683.43 L139.89 683.64 L140.31 683.85 L140.73 684.06 L141.15 684.28 L141.57 684.49 L141.99 684.70 L142.41 684.91 L142.83 685.13 L143.25 685.34 L143.67 685.55 L144.09 685.76 L144.51 685.98 L144.93 686.19 L145.35 686.41 L145.77 686.62 L146.18 686.83 L146.60 687.05 L147.02 687.26 L147.44 687.48 L147.86 687.69 L148.28 687.90 L148.70 688.12 L149.12 688.33 L149.54 688.55 L149.96 688.77 L150.38 688.98 L150.80 689.20 L151.22 689.41 L151.64 689.63 L152.06 689.84 L152.48 690.06 L152.90 690.28 L153.32 690.50 L153.74 690.71 L154.16 690.93 L154.57 691.15 L154.99 691.36 L155.41 691.58 L155.83 691.80 L156.25 692.02 L156.67 692.24 L157.09 692.46 L157.51 692.68 L157.93 692.89 L158.35 693.11 L158.77 693.33 L159.19 693.55 L159.61 693.77 L160.03 693.99 L160.45 694.21 L160.87 694.43 L161.29 694.66 L161.71 694.88 L162.13 695.10 L162.55 695.32 L162.96 695.54 L163.38 695.76 L163.80 695.99 L164.22 696.21 L164.64 696.43 L165.06 696.66 L165.48 696.88 L165.90 697.10 L166.32 697.33 L166.74 697.55 L167.16 697.78 L167.58 698.00 L168.00 698.23 L168.42 698.45 L168.84 698.68 L169.26 698.90 L169.68 699.13 L170.10 699.36 L170.52 699.58 L170.94 699.81 L171.35 700.04 L171.77 700.27 L172.19 700.49 L172.61 700.72 L173.03 700.95 L173.45 701.18 L173.87 701.41 L174.29 701.64 L174.71 701.87 L175.13 702.10 L175.55 702.33 L175.97 702.56 L176.39 702.80 L176.81 703.03 L177.23 703.26 L177.65 703.49 L178.07 703.73 L178.49 703.96 L178.91 704.20 L179.33 704.43 L179.74 704.67 L180.16 704.90 L180.58 705.14 L181.00 705.38 L181.42 705.61 L181.84 705.85 L182.26 706.09 L182.68 706.33 L183.10 706.57 L183.52 706.81 L183.94 707.05 L184.36 707.29 L184.78 707.53 L185.20 707.78 L185.62 708.02 L186.04 708.26 L186.46 708.51 L186.88 708.75 L187.30 709.00 L187.72 709.25 L188.13 709.50 L188.55 709.74 L188.97 709.99 L189.39 710.25 L189.81 710.50 L190.23 710.75 L190.65 711.00 L191.07 711.26 L191.49 711.51 L191.91 711.77 L192.33 712.03 L192.75 712.29 L193.17 712.55 L193.59 712.81 L194.01 713.08 L194.43 713.34 L194.85 713.61 L195.27 713.88 L195.69 714.15 L196.11 714.43 L196.52 714.71 L196.94 714.99 L197.36 715.27 L197.78 715.56 L198.20 715.85 L198.62 716.15 L199.04 716.46 L199.46 716.78 L199.88 717.11 L200.30 717.50" fill="none" stroke="#6cbf4e" stroke-width="1.8"/>
<rect x="32.20" y="719.00" width="175.40" height="3.40" fill="#f8f8f8"/>
<line x1="32.2" y1="720.6" x2="207.6" y2="720.6" stroke="#d0d0d0" stroke-width="0.8"/>
<rect x="32.20" y="722.60" width="175.40" height="31.00" fill="#fff"/>
<rect x="32.20" y="722.6" width="68.85" height="23.8" fill="rgb(0,0,0)"/>
<rect x="101.00" y="722.6" width="0.85" height="23.8" fill="rgb(167,167,167)"/>
<rect x="101.80" y="722.6" width="0.85" height="23.8" fill="rgb(0,0,0)"/>
<rect x="102.60" y="722.6" width="0.85" height="23.8" fill="rgb(201,201,201)"/>
<rect x="103.40" y="722.6" width="1.65" height="23.8" fill="rgb(0,0,0)"/>
<rect x="105.00" y="722.6" width="0.85" height="23.8" fill="rgb(138,138,138)"/>
<rect x="105.80" y="722.6" width="3.25" height="23.8" fill="rgb(0,0,0)"/>
<rect x="109.00" y="722.6" width="0.85" height="23.8" fill="rgb(155,155,155)"/>
<rect x="109.80" y="722.6" width="17.65" height="23.8" fill="rgb(0,0,0)"/>
<rect x="127.40" y="722.6" width="0.85" height="23.8" fill="rgb(206,206,206)"/>
<rect x="128.20" y="722.6" width="1.65" height="23.8" fill="rgb(0,0,0)"/>
<rect x="129.80" y="722.6" width="0.85" height="23.8" fill="rgb(145,145,145)"/>
<rect x="130.60" y="722.6" width="2.45" height="23.8" fill="rgb(0,0,0)"/>
<rect x="133.00" y="722.6" width="0.85" height="23.8" fill="rgb(205,205,205)"/>
<rect x="133.80" y="722.6" width="2.45" height="23.8" fill="rgb(0,0,0)"/>
<rect x="136.20" y="722.6" width="0.85" height="23.8" fill="rgb(112,112,112)"/>
<rect x="137.00" y="722.6" width="2.45" height="23.8" fill="rgb(0,0,0)"/>
<rect x="139.40" y="722.6" width="0.85" height="23.8" fill="rgb(186,186,186)"/>
<rect x="140.20" y="722.6" width="4.05" height="23.8" fill="rgb(0,0,0)"/>
<rect x="144.20" y="722.6" width="0.85" height="23.8" fill="rgb(187,187,187)"/>
<rect x="145.00" y="722.6" width="3.25" height="23.8" fill="rgb(0,0,0)"/>
<rect x="148.20" y="722.6" width="0.85" height="23.8" fill="rgb(230,230,230)"/>
<rect x="149.00" y="722.6" width="0.85" height="23.8" fill="rgb(126,126,126)"/>
<rect x="149.80" y="722.6" width="0.85" height="23.8" fill="rgb(112,112,112)"/>
<rect x="150.60" y="722.6" width="2.45" height="23.8" fill="rgb(0,0,0)"/>
<rect x="153.00" y="722.6" width="0.85" height="23.8" fill="rgb(202,202,202)"/>
<rect x="153.80" y="722.6" width="1.65" height="23.8" fill="rgb(0,0,0)"/>
<rect x="155.40" y="722.6" width="0.85" height="23.8" fill="rgb(222,222,222)"/>
<rect x="156.20" y="722.6" width="0.85" height="23.8" fill="rgb(0,0,0)"/>
<rect x="157.00" y="722.6" width="0.85" height="23.8" fill="rgb(168,168,168)"/>
<rect x="157.80" y="722.6" width="0.85" height="23.8" fill="rgb(0,0,0)"/>
<rect x="158.60" y="722.6" width="0.85" height="23.8" fill="rgb(234,234,234)"/>
<rect x="159.40" y="722.6" width="0.85" height="23.8" fill="rgb(207,207,207)"/>
<rect x="160.20" y="722.6" width="1.65" height="23.8" fill="rgb(0,0,0)"/>
<rect x="161.80" y="722.6" width="0.85" height="23.8" fill="rgb(244,244,244)"/>
<rect x="162.60" y="722.6" width="0.85" height="23.8" fill="rgb(0,0,0)"/>
<rect x="163.40" y="722.6" width="0.85" height="23.8" fill="rgb(125,125,125)"/>
<rect x="164.20" y="722.6" width="0.85" height="23.8" fill="rgb(158,158,158)"/>
<rect x="165.00" y="722.6" width="3.25" height="23.8" fill="rgb(0,0,0)"/>
<rect x="168.20" y="722.6" width="0.85" height="23.8" fill="rgb(157,157,157)"/>
<rect x="169.00" y="722.6" width="1.65" height="23.8" fill="rgb(0,0,0)"/>
<rect x="170.60" y="722.6" width="0.85" height="23.8" fill="rgb(110,110,110)"/>
<rect x="171.40" y="722.6" width="2.45" height="23.8" fill="rgb(0,0,0)"/>
<rect x="173.80" y="722.6" width="0.85" height="23.8" fill="rgb(195,195,195)"/>
<rect x="174.60" y="722.6" width="0.85" height="23.8" fill="rgb(135,135,135)"/>
<rect x="175.40" y="722.6" width="0.85" height="23.8" fill="rgb(0,0,0)"/>
<rect x="176.20" y="722.6" width="0.85" height="23.8" fill="rgb(237,237,237)"/>
<rect x="177.00" y="722.6" width="0.85" height="23.8" fill="rgb(157,157,157)"/>
<rect x="177.80" y="722.6" width="0.85" height="23.8" fill="rgb(171,171,171)"/>
<rect x="178.60" y="722.6" width="0.85" height="23.8" fill="rgb(0,0,0)"/>
<rect x="179.40" y="722.6" width="0.85" height="23.8" fill="rgb(235,235,235)"/>
<rect x="180.20" y="722.6" width="0.85" height="23.8" fill="rgb(0,0,0)"/>
<rect x="181.00" y="722.6" width="0.85" height="23.8" fill="rgb(233,233,233)"/>
<rect x="181.80" y="722.6" width="3.25" height="23.8" fill="rgb(0,0,0)"/>
<rect x="185.00" y="722.6" width="0.85" height="23.8" fill="rgb(175,175,175)"/>
<rect x="185.80" y="722.6" width="0.85" height="23.8" fill="rgb(215,215,215)"/>
<rect x="186.60" y="722.6" width="6.45" height="23.8" fill="rgb(0,0,0)"/>
<rect x="193.00" y="722.6" width="0.85" height="23.8" fill="rgb(114,114,114)"/>
<rect x="193.80" y="722.6" width="1.65" height="23.8" fill="rgb(0,0,0)"/>
<rect x="195.40" y="722.6" width="0.85" height="23.8" fill="rgb(218,218,218)"/>
<rect x="196.20" y="722.6" width="0.85" height="23.8" fill="rgb(0,0,0)"/>
<rect x="197.00" y="722.6" width="0.85" height="23.8" fill="rgb(152,152,152)"/>
<rect x="197.80" y="722.6" width="0.85" height="23.8" fill="rgb(145,145,145)"/>
<rect x="198.60" y="722.6" width="0.65" height="23.8" fill="rgb(0,0,0)"/>
<defs><linearGradient id="hg1" x1="0" x2="1" y1="0" y2="0"><stop offset="0" stop-color="#180606"/><stop offset="0.08" stop-color="#300a0a"/><stop offset="0.2" stop-color="#602020"/><stop offset="0.3" stop-color="#984454"/><stop offset="0.38" stop-color="#b87888"/><stop offset="0.44" stop-color="#c8a0c0"/><stop offset="0.5" stop-color="#b8b4e0"/><stop offset="0.65" stop-color="#a0a4dc"/><stop offset="0.8" stop-color="#7884c8"/><stop offset="1.0" stop-color="#3848a8"/></linearGradient></defs>
<rect x="32.20" y="746.40" width="167.00" height="6.60" fill="url(#hg1)"/>
<line x1="32.2" y1="753.4" x2="207.6" y2="753.4" stroke="#c8c8c8" stroke-width="0.8"/>
<rect x="32.20" y="753.60" width="175.40" height="49.60" fill="#fff"/>
<line x1="63.2" y1="753.6" x2="63.2" y2="803.2" stroke="#e2e2e2" stroke-width="0.8"/>
<line x1="94.2" y1="753.6" x2="94.2" y2="803.2" stroke="#e2e2e2" stroke-width="0.8"/>
<line x1="125.2" y1="753.6" x2="125.2" y2="803.2" stroke="#e2e2e2" stroke-width="0.8"/>
<line x1="156.2" y1="753.6" x2="156.2" y2="803.2" stroke="#e2e2e2" stroke-width="0.8"/>
<line x1="187.2" y1="753.6" x2="187.2" y2="803.2" stroke="#e2e2e2" stroke-width="0.8"/>
<line x1="32.2" y1="755.8" x2="207.6" y2="755.8" stroke="#e2e2e2" stroke-width="0.8"/>
<text x="29.6" y="758.5" font-size="7.9" text-anchor="end" stroke="#111" stroke-width="0.34">5.0</text>
<line x1="32.2" y1="767.2" x2="207.6" y2="767.2" stroke="#e2e2e2" stroke-width="0.8"/>
<text x="29.6" y="769.9" font-size="7.9" text-anchor="end" stroke="#111" stroke-width="0.34">2.5</text>
<line x1="32.2" y1="778.6" x2="207.6" y2="778.6" stroke="#e2e2e2" stroke-width="0.8"/>
<text x="29.6" y="781.3" font-size="7.9" text-anchor="end" stroke="#111" stroke-width="0.34">0.0</text>
<line x1="32.2" y1="790.0" x2="207.6" y2="790.0" stroke="#e2e2e2" stroke-width="0.8"/>
<text x="29.6" y="792.7" font-size="7.9" text-anchor="end" stroke="#111" stroke-width="0.34">-2.5</text>
<line x1="32.2" y1="801.4" x2="207.6" y2="801.4" stroke="#e2e2e2" stroke-width="0.8"/>
<text x="29.6" y="804.1" font-size="7.9" text-anchor="end" stroke="#111" stroke-width="0.34">-5.0</text>
<path d="M32.2 778.6 L32.2 752.6 L33.2 754.4 L34.2 756.1 L35.2 757.6 L36.2 759.0 L37.2 760.4 L38.2 761.6 L39.2 762.8 L40.2 763.8 L41.2 764.8 L42.2 765.7 L43.2 766.6 L44.2 767.4 L45.2 768.1 L46.2 768.8 L47.2 769.5 L48.2 770.1 L49.2 770.6 L50.2 771.1 L51.2 771.6 L52.2 772.1 L53.2 772.5 L54.2 772.9 L55.2 773.3 L56.2 773.6 L57.2 773.9 L58.2 774.2 L59.2 774.5 L60.2 774.8 L61.2 775.0 L62.2 775.3 L63.2 775.5 L64.2 775.7 L65.2 775.9 L66.2 776.1 L67.2 776.2 L68.2 776.4 L69.2 776.5 L70.2 776.7 L71.2 776.8 L72.2 776.9 L73.2 777.1 L74.2 777.2 L75.2 777.3 L76.2 777.4 L77.2 777.5 L78.2 777.6 L79.2 777.6 L80.2 777.7 L81.2 777.8 L82.2 777.9 L83.2 777.9 L84.2 778.0 L85.2 778.0 L86.2 778.1 L87.2 778.1 L88.2 778.2 L89.2 778.2 L90.2 778.3 L91.2 778.3 L92.2 778.3 L93.2 778.4 L94.2 778.4 L95.2 778.4 L96.2 778.4 L97.2 778.5 L98.2 778.5 L99.2 778.5 L100.2 778.5 L101.2 778.5 L102.2 778.5 L103.2 778.6 L104.2 778.6 L105.2 778.6 L106.2 778.6 L107.2 778.6 L108.2 778.6 L109.2 778.6 L110.2 778.6 L111.2 778.6 L112.2 778.6 L113.2 778.6 L114.2 778.6 L115.2 778.6 L116.2 778.6 L117.2 778.6 L118.2 778.6 L119.2 778.7 L120.2 778.7 L121.2 778.7 L122.2 778.7 L123.2 778.7 L124.2 778.8 L125.2 778.8 L126.2 778.8 L127.2 778.8 L128.2 778.8 L129.2 778.9 L130.2 778.9 L131.2 778.9 L132.2 778.9 L133.2 778.9 L134.2 779.0 L135.2 779.0 L136.2 779.0 L137.2 779.0 L138.2 779.0 L139.2 779.1 L140.2 779.1 L141.2 779.1 L142.2 779.1 L143.2 779.2 L144.2 779.2 L145.2 779.2 L146.2 779.2 L147.2 779.3 L148.2 779.3 L149.2 779.3 L150.2 779.4 L151.2 779.4 L152.2 779.4 L153.2 779.5 L154.2 779.5 L155.2 779.6 L156.2 779.6 L157.2 779.7 L158.2 779.7 L159.2 779.8 L160.2 779.9 L161.2 779.9 L162.2 780.0 L163.2 780.1 L164.2 780.2 L165.2 780.3 L166.2 780.4 L167.2 780.5 L168.2 780.6 L169.2 780.8 L170.2 780.9 L171.2 781.1 L172.2 781.2 L173.2 781.4 L174.2 781.6 L175.2 781.8 L176.2 782.0 L177.2 782.2 L178.2 782.5 L179.2 782.7 L180.2 783.0 L181.2 783.3 L182.2 783.7 L183.2 784.0 L184.2 784.4 L185.2 784.7 L186.2 785.2 L187.2 785.6 L188.2 786.1 L189.2 786.6 L190.2 787.1 L191.2 787.6 L192.2 788.2 L193.2 788.9 L194.2 789.5 L195.2 790.2 L196.2 791.0 L197.2 791.7 L198.2 792.6 L199.2 793.4 L199.2 778.6 Z" fill="#b9b9b9" stroke="none" stroke-width="0"/>
<rect x="32.20" y="645.60" width="175.40" height="73.20" fill="none" stroke="#c8c8c8" stroke-width="0.8"/>
<rect x="32.20" y="722.60" width="175.40" height="30.40" fill="none" stroke="#c0c0c0" stroke-width="0.8"/>
<rect x="32.20" y="753.60" width="175.40" height="49.60" fill="none" stroke="#c8c8c8" stroke-width="0.8"/>
<text x="35.1" y="762.1" font-size="8.3" fill="#e04030" stroke="#e04030" stroke-width="0.34">Mock(positively correlated)</text>
<text x="70.7" y="781.9" font-size="8.3" stroke="#111" stroke-width="0.34">Zero cross at 6062</text>
<text x="69.8" y="801.4" font-size="8.3" fill="#4a5fb0" stroke="#4a5fb0" stroke-width="0.34">miR-302a(negatively correlated)</text>
<text x="146.2" y="660.5" font-size="12.3" stroke="#111" stroke-width="0.34">NES=4.14</text>
<text x="146.2" y="675.7" font-size="12.1" stroke="#111" stroke-width="0.34">P&lt;0.001</text>
<text x="20.6" y="637.9" font-size="10.3" stroke="#111" stroke-width="0.34">Upregulated genes in Dgcr8-/- EpiLC</text>
<text transform="translate(13.6,680.0) rotate(-90)" font-size="8.4" text-anchor="middle" stroke="#111" stroke-width="0.34" textLength="64.8" lengthAdjust="spacingAndGlyphs">Enrichment score</text>
<text transform="translate(13.6,776.8) rotate(-90)" font-size="8.4" text-anchor="middle" stroke="#111" stroke-width="0.34" textLength="68.0" lengthAdjust="spacingAndGlyphs">Ranked list metric</text>
<text x="31.9" y="812.0" font-size="6.0" text-anchor="middle" stroke="#111" stroke-width="0.34" textLength="3.6" lengthAdjust="spacingAndGlyphs">0</text>
<text x="62.4" y="812.0" font-size="6.0" text-anchor="middle" stroke="#111" stroke-width="0.34" textLength="16.1" lengthAdjust="spacingAndGlyphs">2,500</text>
<text x="93.0" y="812.0" font-size="6.0" text-anchor="middle" stroke="#111" stroke-width="0.34" textLength="16.1" lengthAdjust="spacingAndGlyphs">5,000</text>
<text x="123.5" y="812.0" font-size="6.0" text-anchor="middle" stroke="#111" stroke-width="0.34" textLength="16.1" lengthAdjust="spacingAndGlyphs">7,500</text>
<text x="154.1" y="812.0" font-size="6.0" text-anchor="middle" stroke="#111" stroke-width="0.34" textLength="19.7" lengthAdjust="spacingAndGlyphs">10,000</text>
<text x="184.6" y="812.0" font-size="6.0" text-anchor="middle" stroke="#111" stroke-width="0.34" textLength="19.7" lengthAdjust="spacingAndGlyphs">12,500</text>
<text x="69.5" y="819.7" font-size="7.8" stroke="#111" stroke-width="0.34" textLength="96.7" lengthAdjust="spacingAndGlyphs">Rank in Ordered Dataset</text>
<rect x="9.00" y="823.40" width="198.00" height="10.40" fill="#fbfbf8" stroke="#555" stroke-width="0.8"/>
<line x1="10.8" y1="829.0" x2="20.5" y2="829.0" stroke="#6cbf4e" stroke-width="1.6"/>
<text x="21.2" y="831.4" font-size="6.7" stroke="#111" stroke-width="0.34">Enrichment profile</text>
<line x1="82.5" y1="829.0" x2="92.2" y2="829.0" stroke="#222" stroke-width="0.9"/>
<text x="92.9" y="831.4" font-size="6.7" stroke="#111" stroke-width="0.34">Hits</text>
<line x1="111.6" y1="825.6" x2="119.7" y2="825.6" stroke="#bbb" stroke-width="0.8"/>
<line x1="123.0" y1="829.0" x2="132.6" y2="829.0" stroke="#ccc" stroke-width="1.2"/>
<text x="133.6" y="831.4" font-size="6.65" stroke="#111" stroke-width="0.34">Ranking metric scores</text>
<rect x="214.80" y="641.90" width="204.20" height="193.30" fill="#e5e1d6"/>
<rect x="240.80" y="645.60" width="175.40" height="75.40" fill="#fff"/>
<line x1="271.8" y1="645.6" x2="271.8" y2="721.0" stroke="#e2e2e2" stroke-width="0.8"/>
<line x1="302.8" y1="645.6" x2="302.8" y2="721.0" stroke="#e2e2e2" stroke-width="0.8"/>
<line x1="333.8" y1="645.6" x2="333.8" y2="721.0" stroke="#e2e2e2" stroke-width="0.8"/>
<line x1="364.8" y1="645.6" x2="364.8" y2="721.0" stroke="#e2e2e2" stroke-width="0.8"/>
<line x1="395.8" y1="645.6" x2="395.8" y2="721.0" stroke="#e2e2e2" stroke-width="0.8"/>
<line x1="240.8" y1="648.6" x2="416.2" y2="648.6" stroke="#e2e2e2" stroke-width="0.8"/>
<text x="237.2" y="651.3" font-size="7.9" text-anchor="end" stroke="#111" stroke-width="0.34">0.0</text>
<line x1="240.8" y1="657.8" x2="416.2" y2="657.8" stroke="#e2e2e2" stroke-width="0.8"/>
<text x="237.2" y="660.5" font-size="7.9" text-anchor="end" stroke="#111" stroke-width="0.34">-0.1</text>
<line x1="240.8" y1="666.9" x2="416.2" y2="666.9" stroke="#e2e2e2" stroke-width="0.8"/>
<text x="237.2" y="669.6" font-size="7.9" text-anchor="end" stroke="#111" stroke-width="0.34">-0.2</text>
<line x1="240.8" y1="676.1" x2="416.2" y2="676.1" stroke="#e2e2e2" stroke-width="0.8"/>
<text x="237.2" y="678.8" font-size="7.9" text-anchor="end" stroke="#111" stroke-width="0.34">-0.3</text>
<line x1="240.8" y1="685.2" x2="416.2" y2="685.2" stroke="#e2e2e2" stroke-width="0.8"/>
<text x="237.2" y="687.9" font-size="7.9" text-anchor="end" stroke="#111" stroke-width="0.34">-0.4</text>
<line x1="240.8" y1="694.4" x2="416.2" y2="694.4" stroke="#e2e2e2" stroke-width="0.8"/>
<text x="237.2" y="697.1" font-size="7.9" text-anchor="end" stroke="#111" stroke-width="0.34">-0.5</text>
<line x1="240.8" y1="703.5" x2="416.2" y2="703.5" stroke="#e2e2e2" stroke-width="0.8"/>
<text x="237.2" y="706.2" font-size="7.9" text-anchor="end" stroke="#111" stroke-width="0.34">-0.6</text>
<line x1="240.8" y1="712.6" x2="416.2" y2="712.6" stroke="#e2e2e2" stroke-width="0.8"/>
<text x="237.2" y="715.4" font-size="7.9" text-anchor="end" stroke="#111" stroke-width="0.34">-0.7</text>
<text x="237.2" y="724.5" font-size="7.9" text-anchor="end" stroke="#111" stroke-width="0.34">-0.8</text>
<path d="M241.10 648.60 L241.52 649.41 L241.94 649.52 L242.36 649.66 L242.78 649.81 L243.20 649.99 L243.62 650.17 L244.04 650.38 L244.46 650.60 L244.88 650.82 L245.30 651.05 L245.71 651.29 L246.13 651.53 L246.55 651.78 L246.97 652.02 L247.39 652.26 L247.81 652.51 L248.23 652.75 L248.65 652.99 L249.07 653.24 L249.49 653.48 L249.91 653.72 L250.33 653.97 L250.75 654.21 L251.17 654.45 L251.59 654.69 L252.01 654.93 L252.43 655.18 L252.85 655.42 L253.27 655.66 L253.69 655.90 L254.10 656.14 L254.52 656.39 L254.94 656.63 L255.36 656.87 L255.78 657.11 L256.20 657.35 L256.62 657.59 L257.04 657.83 L257.46 658.07 L257.88 658.31 L258.30 658.55 L258.72 658.79 L259.14 659.03 L259.56 659.27 L259.98 659.51 L260.40 659.75 L260.82 659.99 L261.24 660.23 L261.66 660.47 L262.08 660.71 L262.49 660.95 L262.91 661.19 L263.33 661.43 L263.75 661.67 L264.17 661.90 L264.59 662.14 L265.01 662.38 L265.43 662.62 L265.85 662.86 L266.27 663.09 L266.69 663.33 L267.11 663.57 L267.53 663.81 L267.95 664.04 L268.37 664.28 L268.79 664.52 L269.21 664.76 L269.63 664.99 L270.05 665.23 L270.47 665.47 L270.88 665.70 L271.30 665.94 L271.72 666.17 L272.14 666.41 L272.56 666.65 L272.98 666.88 L273.40 667.12 L273.82 667.35 L274.24 667.59 L274.66 667.82 L275.08 668.06 L275.50 668.29 L275.92 668.53 L276.34 668.76 L276.76 669.00 L277.18 669.23 L277.60 669.46 L278.02 669.70 L278.44 669.93 L278.86 670.17 L279.27 670.40 L279.69 670.63 L280.11 670.87 L280.53 671.10 L280.95 671.33 L281.37 671.56 L281.79 671.80 L282.21 672.03 L282.63 672.26 L283.05 672.49 L283.47 672.72 L283.89 672.96 L284.31 673.19 L284.73 673.42 L285.15 673.65 L285.57 673.88 L285.99 674.11 L286.41 674.34 L286.83 674.57 L287.25 674.80 L287.66 675.04 L288.08 675.27 L288.50 675.50 L288.92 675.73 L289.34 675.95 L289.76 676.18 L290.18 676.41 L290.60 676.64 L291.02 676.87 L291.44 677.10 L291.86 677.33 L292.28 677.56 L292.70 677.79 L293.12 678.01 L293.54 678.24 L293.96 678.47 L294.38 678.70 L294.80 678.93 L295.22 679.15 L295.64 679.38 L296.05 679.61 L296.47 679.83 L296.89 680.06 L297.31 680.29 L297.73 680.51 L298.15 680.74 L298.57 680.96 L298.99 681.19 L299.41 681.42 L299.83 681.64 L300.25 681.87 L300.67 682.09 L301.09 682.32 L301.51 682.54 L301.93 682.77 L302.35 682.99 L302.77 683.21 L303.19 683.44 L303.61 683.66 L304.03 683.88 L304.44 684.11 L304.86 684.33 L305.28 684.55 L305.70 684.78 L306.12 685.00 L306.54 685.22 L306.96 685.44 L307.38 685.67 L307.80 685.89 L308.22 686.11 L308.64 686.33 L309.06 686.55 L309.48 686.77 L309.90 686.99 L310.32 687.21 L310.74 687.43 L311.16 687.65 L311.58 687.87 L312.00 688.09 L312.42 688.31 L312.83 688.53 L313.25 688.75 L313.67 688.97 L314.09 689.19 L314.51 689.41 L314.93 689.62 L315.35 689.84 L315.77 690.06 L316.19 690.28 L316.61 690.49 L317.03 690.71 L317.45 690.93 L317.87 691.14 L318.29 691.36 L318.71 691.58 L319.13 691.79 L319.55 692.01 L319.97 692.22 L320.39 692.44 L320.81 692.65 L321.22 692.87 L321.64 693.08 L322.06 693.30 L322.48 693.51 L322.90 693.72 L323.32 693.94 L323.74 694.15 L324.16 694.36 L324.58 694.58 L325.00 694.79 L325.42 695.00 L325.84 695.21 L326.26 695.42 L326.68 695.64 L327.10 695.85 L327.52 696.06 L327.94 696.27 L328.36 696.48 L328.78 696.69 L329.20 696.90 L329.61 697.11 L330.03 697.32 L330.45 697.53 L330.87 697.73 L331.29 697.94 L331.71 698.15 L332.13 698.36 L332.55 698.57 L332.97 698.77 L333.39 698.98 L333.81 699.19 L334.23 699.39 L334.65 699.60 L335.07 699.81 L335.49 700.01 L335.91 700.22 L336.33 700.42 L336.75 700.62 L337.17 700.83 L337.59 701.03 L338.00 701.24 L338.42 701.44 L338.84 701.64 L339.26 701.84 L339.68 702.05 L340.10 702.25 L340.52 702.45 L340.94 702.65 L341.36 702.85 L341.78 703.05 L342.20 703.25 L342.62 703.45 L343.04 703.65 L343.46 703.85 L343.88 704.05 L344.30 704.25 L344.72 704.45 L345.14 704.64 L345.56 704.84 L345.98 705.04 L346.39 705.23 L346.81 705.43 L347.23 705.62 L347.65 705.82 L348.07 706.01 L348.49 706.21 L348.91 706.40 L349.33 706.59 L349.75 706.79 L350.17 706.98 L350.59 707.17 L351.01 707.36 L351.43 707.55 L351.85 707.74 L352.27 707.94 L352.69 708.12 L353.11 708.31 L353.53 708.50 L353.95 708.69 L354.37 708.88 L354.78 709.07 L355.20 709.25 L355.62 709.44 L356.04 709.62 L356.46 709.81 L356.88 709.99 L357.30 710.18 L357.72 710.36 L358.14 710.54 L358.56 710.72 L358.98 710.91 L359.40 711.09 L359.82 711.27 L360.24 711.45 L360.66 711.62 L361.08 711.80 L361.50 711.98 L361.92 712.16 L362.34 712.33 L362.75 712.51 L363.17 712.68 L363.59 712.85 L364.01 713.03 L364.43 713.20 L364.85 713.37 L365.27 713.54 L365.69 713.71 L366.11 713.88 L366.53 714.04 L366.95 714.21 L367.37 714.38 L367.79 714.54 L368.21 714.70 L368.63 714.86 L369.05 715.03 L369.47 715.18 L369.89 715.34 L370.31 715.50 L370.73 715.65 L371.15 715.81 L371.56 715.96 L371.98 716.11 L372.40 716.25 L372.82 716.40 L373.24 716.54 L373.66 716.68 L374.08 716.81 L374.50 716.94 L374.92 717.06 L375.34 717.17 L375.76 717.26 L376.18 717.35 L376.60 717.42 L377.02 717.47 L377.44 717.50 L377.86 717.51 L378.28 717.51 L378.70 717.48 L379.12 717.44 L379.54 717.38 L379.95 717.30 L380.37 717.20 L380.79 717.08 L381.21 716.95 L381.63 716.80 L382.05 716.62 L382.47 716.43 L382.89 716.22 L383.31 715.99 L383.73 715.74 L384.15 715.46 L384.57 715.16 L384.99 714.84 L385.41 714.50 L385.83 714.13 L386.25 713.74 L386.67 713.32 L387.09 712.88 L387.51 712.42 L387.93 711.92 L388.34 711.41 L388.76 710.86 L389.18 710.29 L389.60 709.69 L390.02 709.07 L390.44 708.41 L390.86 707.73 L391.28 707.02 L391.70 706.29 L392.12 705.52 L392.54 704.72 L392.96 703.90 L393.38 703.04 L393.80 702.16 L394.22 701.24 L394.64 700.30 L395.06 699.32 L395.48 698.31 L395.90 697.27 L396.32 696.20 L396.73 695.10 L397.15 693.97 L397.57 692.80 L397.99 691.60 L398.41 690.37 L398.83 689.10 L399.25 687.81 L399.67 686.47 L400.09 685.11 L400.51 683.71 L400.93 682.28 L401.35 680.81 L401.77 679.31 L402.19 677.77 L402.61 676.20 L403.03 674.59 L403.45 672.95 L403.87 671.27 L404.29 669.58 L404.71 667.89 L405.12 666.19 L405.54 664.51 L405.96 662.89 L406.38 661.34 L406.80 659.88 L407.22 658.54 L407.64 657.33 L408.06 656.25 L408.48 655.29 L408.90 648.60" fill="none" stroke="#6cbf4e" stroke-width="1.8"/>
<rect x="240.80" y="721.20" width="175.40" height="3.40" fill="#f8f8f8"/>
<line x1="240.8" y1="722.8" x2="416.2" y2="722.8" stroke="#d0d0d0" stroke-width="0.8"/>
<rect x="240.80" y="722.60" width="175.40" height="31.00" fill="#fff"/>
<rect x="240.80" y="722.6" width="2.45" height="23.8" fill="rgb(0,0,0)"/>
<rect x="243.20" y="722.6" width="0.85" height="23.8" fill="rgb(192,192,192)"/>
<rect x="244.00" y="722.6" width="0.85" height="23.8" fill="rgb(237,237,237)"/>
<rect x="244.80" y="722.6" width="0.85" height="23.8" fill="rgb(145,145,145)"/>
<rect x="245.60" y="722.6" width="0.85" height="23.8" fill="rgb(209,209,209)"/>
<rect x="246.40" y="722.6" width="0.85" height="23.8" fill="rgb(0,0,0)"/>
<rect x="247.20" y="722.6" width="0.85" height="23.8" fill="rgb(177,177,177)"/>
<rect x="248.00" y="722.6" width="0.85" height="23.8" fill="rgb(0,0,0)"/>
<rect x="248.80" y="722.6" width="0.85" height="23.8" fill="rgb(188,188,188)"/>
<rect x="249.60" y="722.6" width="1.65" height="23.8" fill="rgb(0,0,0)"/>
<rect x="251.20" y="722.6" width="0.85" height="23.8" fill="rgb(184,184,184)"/>
<rect x="252.00" y="722.6" width="1.65" height="23.8" fill="rgb(0,0,0)"/>
<rect x="253.60" y="722.6" width="0.85" height="23.8" fill="rgb(216,216,216)"/>
<rect x="254.40" y="722.6" width="0.85" height="23.8" fill="rgb(0,0,0)"/>
<rect x="255.20" y="722.6" width="0.85" height="23.8" fill="rgb(200,200,200)"/>
<rect x="256.00" y="722.6" width="0.85" height="23.8" fill="rgb(204,204,204)"/>
<rect x="256.80" y="722.6" width="0.85" height="23.8" fill="rgb(187,187,187)"/>
<rect x="257.60" y="722.6" width="0.85" height="23.8" fill="rgb(0,0,0)"/>
<rect x="258.40" y="722.6" width="0.85" height="23.8" fill="rgb(238,238,238)"/>
<rect x="259.20" y="722.6" width="0.85" height="23.8" fill="rgb(188,188,188)"/>
<rect x="260.00" y="722.6" width="1.65" height="23.8" fill="rgb(0,0,0)"/>
<rect x="261.60" y="722.6" width="0.85" height="23.8" fill="rgb(215,215,215)"/>
<rect x="262.40" y="722.6" width="0.85" height="23.8" fill="rgb(0,0,0)"/>
<rect x="263.20" y="722.6" width="0.85" height="23.8" fill="rgb(222,222,222)"/>
<rect x="264.00" y="722.6" width="0.85" height="23.8" fill="rgb(253,253,253)"/>
<rect x="264.80" y="722.6" width="0.85" height="23.8" fill="rgb(196,196,196)"/>
<rect x="265.60" y="722.6" width="0.85" height="23.8" fill="rgb(0,0,0)"/>
<rect x="266.40" y="722.6" width="0.85" height="23.8" fill="rgb(220,220,220)"/>
<rect x="267.20" y="722.6" width="0.85" height="23.8" fill="rgb(247,247,247)"/>
<rect x="268.00" y="722.6" width="0.85" height="23.8" fill="rgb(238,238,238)"/>
<rect x="268.80" y="722.6" width="0.85" height="23.8" fill="rgb(187,187,187)"/>
<rect x="269.60" y="722.6" width="0.85" height="23.8" fill="rgb(208,208,208)"/>
<rect x="270.40" y="722.6" width="4.05" height="23.8" fill="rgb(0,0,0)"/>
<rect x="274.40" y="722.6" width="0.85" height="23.8" fill="rgb(215,215,215)"/>
<rect x="275.20" y="722.6" width="0.85" height="23.8" fill="rgb(172,172,172)"/>
<rect x="276.00" y="722.6" width="0.85" height="23.8" fill="rgb(192,192,192)"/>
<rect x="276.80" y="722.6" width="0.85" height="23.8" fill="rgb(0,0,0)"/>
<rect x="277.60" y="722.6" width="0.85" height="23.8" fill="rgb(178,178,178)"/>
<rect x="278.40" y="722.6" width="0.85" height="23.8" fill="rgb(219,219,219)"/>
<rect x="279.20" y="722.6" width="0.85" height="23.8" fill="rgb(235,235,235)"/>
<rect x="280.00" y="722.6" width="1.65" height="23.8" fill="rgb(176,176,176)"/>
<rect x="281.60" y="722.6" width="0.85" height="23.8" fill="rgb(0,0,0)"/>
<rect x="282.40" y="722.6" width="0.85" height="23.8" fill="rgb(226,226,226)"/>
<rect x="283.20" y="722.6" width="0.85" height="23.8" fill="rgb(154,154,154)"/>
<rect x="284.00" y="722.6" width="0.85" height="23.8" fill="rgb(212,212,212)"/>
<rect x="284.80" y="722.6" width="0.85" height="23.8" fill="rgb(0,0,0)"/>
<rect x="285.60" y="722.6" width="0.85" height="23.8" fill="rgb(152,152,152)"/>
<rect x="286.40" y="722.6" width="2.45" height="23.8" fill="rgb(0,0,0)"/>
<rect x="288.80" y="722.6" width="0.85" height="23.8" fill="rgb(157,157,157)"/>
<rect x="289.60" y="722.6" width="0.85" height="23.8" fill="rgb(208,208,208)"/>
<rect x="290.40" y="722.6" width="0.85" height="23.8" fill="rgb(0,0,0)"/>
<rect x="291.20" y="722.6" width="0.85" height="23.8" fill="rgb(144,144,144)"/>
<rect x="292.00" y="722.6" width="3.25" height="23.8" fill="rgb(0,0,0)"/>
<rect x="295.20" y="722.6" width="0.85" height="23.8" fill="rgb(203,203,203)"/>
<rect x="296.00" y="722.6" width="0.85" height="23.8" fill="rgb(192,192,192)"/>
<rect x="296.80" y="722.6" width="1.65" height="23.8" fill="rgb(0,0,0)"/>
<rect x="298.40" y="722.6" width="0.85" height="23.8" fill="rgb(223,223,223)"/>
<rect x="299.20" y="722.6" width="0.85" height="23.8" fill="rgb(168,168,168)"/>
<rect x="300.00" y="722.6" width="3.25" height="23.8" fill="rgb(0,0,0)"/>
<rect x="303.20" y="722.6" width="0.85" height="23.8" fill="rgb(224,224,224)"/>
<rect x="304.00" y="722.6" width="0.85" height="23.8" fill="rgb(0,0,0)"/>
<rect x="304.80" y="722.6" width="0.85" height="23.8" fill="rgb(179,179,179)"/>
<rect x="305.60" y="722.6" width="1.65" height="23.8" fill="rgb(0,0,0)"/>
<rect x="307.20" y="722.6" width="0.85" height="23.8" fill="rgb(206,206,206)"/>
<rect x="308.00" y="722.6" width="1.65" height="23.8" fill="rgb(0,0,0)"/>
<rect x="309.60" y="722.6" width="0.85" height="23.8" fill="rgb(155,155,155)"/>
<rect x="310.40" y="722.6" width="0.85" height="23.8" fill="rgb(0,0,0)"/>
<rect x="311.20" y="722.6" width="0.85" height="23.8" fill="rgb(159,159,159)"/>
<rect x="312.00" y="722.6" width="2.45" height="23.8" fill="rgb(0,0,0)"/>
<rect x="314.40" y="722.6" width="0.85" height="23.8" fill="rgb(149,149,149)"/>
<rect x="315.20" y="722.6" width="0.85" height="23.8" fill="rgb(177,177,177)"/>
<rect x="316.00" y="722.6" width="1.65" height="23.8" fill="rgb(0,0,0)"/>
<rect x="317.60" y="722.6" width="0.85" height="23.8" fill="rgb(254,254,254)"/>
<rect x="318.40" y="722.6" width="6.45" height="23.8" fill="rgb(0,0,0)"/>
<rect x="324.80" y="722.6" width="0.85" height="23.8" fill="rgb(168,168,168)"/>
<rect x="325.60" y="722.6" width="0.85" height="23.8" fill="rgb(0,0,0)"/>
<rect x="326.40" y="722.6" width="0.85" height="23.8" fill="rgb(146,146,146)"/>
<rect x="327.20" y="722.6" width="0.85" height="23.8" fill="rgb(242,242,242)"/>
<rect x="328.00" y="722.6" width="1.65" height="23.8" fill="rgb(0,0,0)"/>
<rect x="329.60" y="722.6" width="0.85" height="23.8" fill="rgb(157,157,157)"/>
<rect x="330.40" y="722.6" width="0.85" height="23.8" fill="rgb(217,217,217)"/>
<rect x="331.20" y="722.6" width="1.65" height="23.8" fill="rgb(0,0,0)"/>
<rect x="332.80" y="722.6" width="0.85" height="23.8" fill="rgb(147,147,147)"/>
<rect x="333.60" y="722.6" width="3.25" height="23.8" fill="rgb(0,0,0)"/>
<rect x="336.80" y="722.6" width="0.85" height="23.8" fill="rgb(149,149,149)"/>
<rect x="337.60" y="722.6" width="6.45" height="23.8" fill="rgb(0,0,0)"/>
<rect x="344.00" y="722.6" width="0.85" height="23.8" fill="rgb(161,161,161)"/>
<rect x="344.80" y="722.6" width="0.85" height="23.8" fill="rgb(0,0,0)"/>
<rect x="345.60" y="722.6" width="0.85" height="23.8" fill="rgb(201,201,201)"/>
<rect x="346.40" y="722.6" width="0.85" height="23.8" fill="rgb(0,0,0)"/>
<rect x="347.20" y="722.6" width="0.85" height="23.8" fill="rgb(178,178,178)"/>
<rect x="348.00" y="722.6" width="3.25" height="23.8" fill="rgb(0,0,0)"/>
<rect x="351.20" y="722.6" width="0.85" height="23.8" fill="rgb(144,144,144)"/>
<rect x="352.00" y="722.6" width="0.85" height="23.8" fill="rgb(146,146,146)"/>
<rect x="352.80" y="722.6" width="55.05" height="23.8" fill="rgb(0,0,0)"/>
<defs><linearGradient id="hg2" x1="0" x2="1" y1="0" y2="0"><stop offset="0" stop-color="#e0303a"/><stop offset="0.15" stop-color="#dc4050"/><stop offset="0.28" stop-color="#d87088"/><stop offset="0.36" stop-color="#d8a0b8"/><stop offset="0.44" stop-color="#c0b0d8"/><stop offset="0.52" stop-color="#a8a8dc"/><stop offset="0.6" stop-color="#9090cc"/><stop offset="0.72" stop-color="#6464b4"/><stop offset="0.83" stop-color="#303080"/><stop offset="0.92" stop-color="#161244"/><stop offset="1.0" stop-color="#0a0628"/></linearGradient></defs>
<rect x="240.80" y="746.40" width="167.00" height="6.60" fill="url(#hg2)"/>
<line x1="240.8" y1="753.4" x2="416.2" y2="753.4" stroke="#c8c8c8" stroke-width="0.8"/>
<rect x="240.80" y="753.60" width="175.40" height="49.60" fill="#fff"/>
<line x1="271.8" y1="753.6" x2="271.8" y2="803.2" stroke="#e2e2e2" stroke-width="0.8"/>
<line x1="302.8" y1="753.6" x2="302.8" y2="803.2" stroke="#e2e2e2" stroke-width="0.8"/>
<line x1="333.8" y1="753.6" x2="333.8" y2="803.2" stroke="#e2e2e2" stroke-width="0.8"/>
<line x1="364.8" y1="753.6" x2="364.8" y2="803.2" stroke="#e2e2e2" stroke-width="0.8"/>
<line x1="395.8" y1="753.6" x2="395.8" y2="803.2" stroke="#e2e2e2" stroke-width="0.8"/>
<line x1="240.8" y1="755.8" x2="416.2" y2="755.8" stroke="#e2e2e2" stroke-width="0.8"/>
<text x="236.8" y="758.5" font-size="7.9" text-anchor="end" stroke="#111" stroke-width="0.34">5.0</text>
<line x1="240.8" y1="767.2" x2="416.2" y2="767.2" stroke="#e2e2e2" stroke-width="0.8"/>
<text x="236.8" y="769.9" font-size="7.9" text-anchor="end" stroke="#111" stroke-width="0.34">2.5</text>
<line x1="240.8" y1="778.6" x2="416.2" y2="778.6" stroke="#e2e2e2" stroke-width="0.8"/>
<text x="236.8" y="781.3" font-size="7.9" text-anchor="end" stroke="#111" stroke-width="0.34">0.0</text>
<line x1="240.8" y1="790.0" x2="416.2" y2="790.0" stroke="#e2e2e2" stroke-width="0.8"/>
<text x="236.8" y="792.7" font-size="7.9" text-anchor="end" stroke="#111" stroke-width="0.34">-2.5</text>
<line x1="240.8" y1="801.4" x2="416.2" y2="801.4" stroke="#e2e2e2" stroke-width="0.8"/>
<text x="236.8" y="804.1" font-size="7.9" text-anchor="end" stroke="#111" stroke-width="0.34">-5.0</text>
<path d="M240.8 778.6 L240.8 752.6 L241.8 754.4 L242.8 756.1 L243.8 757.6 L244.8 759.0 L245.8 760.4 L246.8 761.6 L247.8 762.8 L248.8 763.8 L249.8 764.8 L250.8 765.7 L251.8 766.6 L252.8 767.4 L253.8 768.1 L254.8 768.8 L255.8 769.5 L256.8 770.1 L257.8 770.6 L258.8 771.1 L259.8 771.6 L260.8 772.1 L261.8 772.5 L262.8 772.9 L263.8 773.3 L264.8 773.6 L265.8 773.9 L266.8 774.2 L267.8 774.5 L268.8 774.8 L269.8 775.0 L270.8 775.3 L271.8 775.5 L272.8 775.7 L273.8 775.9 L274.8 776.1 L275.8 776.2 L276.8 776.4 L277.8 776.5 L278.8 776.7 L279.8 776.8 L280.8 776.9 L281.8 777.1 L282.8 777.2 L283.8 777.3 L284.8 777.4 L285.8 777.5 L286.8 777.6 L287.8 777.6 L288.8 777.7 L289.8 777.8 L290.8 777.9 L291.8 777.9 L292.8 778.0 L293.8 778.0 L294.8 778.1 L295.8 778.1 L296.8 778.2 L297.8 778.2 L298.8 778.3 L299.8 778.3 L300.8 778.3 L301.8 778.4 L302.8 778.4 L303.8 778.4 L304.8 778.4 L305.8 778.5 L306.8 778.5 L307.8 778.5 L308.8 778.5 L309.8 778.5 L310.8 778.5 L311.8 778.6 L312.8 778.6 L313.8 778.6 L314.8 778.6 L315.8 778.6 L316.8 778.6 L317.8 778.6 L318.8 778.6 L319.8 778.6 L320.8 778.6 L321.8 778.6 L322.8 778.6 L323.8 778.6 L324.8 778.6 L325.8 778.6 L326.8 778.6 L327.8 778.7 L328.8 778.7 L329.8 778.7 L330.8 778.7 L331.8 778.7 L332.8 778.8 L333.8 778.8 L334.8 778.8 L335.8 778.8 L336.8 778.8 L337.8 778.9 L338.8 778.9 L339.8 778.9 L340.8 778.9 L341.8 778.9 L342.8 779.0 L343.8 779.0 L344.8 779.0 L345.8 779.0 L346.8 779.0 L347.8 779.1 L348.8 779.1 L349.8 779.1 L350.8 779.1 L351.8 779.2 L352.8 779.2 L353.8 779.2 L354.8 779.2 L355.8 779.3 L356.8 779.3 L357.8 779.3 L358.8 779.4 L359.8 779.4 L360.8 779.4 L361.8 779.5 L362.8 779.5 L363.8 779.6 L364.8 779.6 L365.8 779.7 L366.8 779.7 L367.8 779.8 L368.8 779.9 L369.8 779.9 L370.8 780.0 L371.8 780.1 L372.8 780.2 L373.8 780.3 L374.8 780.4 L375.8 780.5 L376.8 780.6 L377.8 780.8 L378.8 780.9 L379.8 781.1 L380.8 781.2 L381.8 781.4 L382.8 781.6 L383.8 781.8 L384.8 782.0 L385.8 782.2 L386.8 782.5 L387.8 782.7 L388.8 783.0 L389.8 783.3 L390.8 783.7 L391.8 784.0 L392.8 784.4 L393.8 784.7 L394.8 785.2 L395.8 785.6 L396.8 786.1 L397.8 786.6 L398.8 787.1 L399.8 787.6 L400.8 788.2 L401.8 788.9 L402.8 789.5 L403.8 790.2 L404.8 791.0 L405.8 791.7 L406.8 792.6 L407.8 793.4 L407.8 778.6 Z" fill="#b9b9b9" stroke="none" stroke-width="0"/>
<rect x="240.80" y="645.60" width="175.40" height="75.40" fill="none" stroke="#c8c8c8" stroke-width="0.8"/>
<rect x="240.80" y="722.60" width="175.40" height="30.40" fill="none" stroke="#c0c0c0" stroke-width="0.8"/>
<rect x="240.80" y="753.60" width="175.40" height="49.60" fill="none" stroke="#c8c8c8" stroke-width="0.8"/>
<text x="243.7" y="762.1" font-size="8.3" fill="#e04030" stroke="#e04030" stroke-width="0.34">Mock(positively correlated)</text>
<text x="279.3" y="781.9" font-size="8.3" stroke="#111" stroke-width="0.34">Zero cross at 6062</text>
<text x="278.4" y="801.4" font-size="8.3" fill="#4a5fb0" stroke="#4a5fb0" stroke-width="0.34">miR-302a(negatively correlated)</text>
<text x="342.6" y="660.2" font-size="12.4" stroke="#111" stroke-width="0.34" textLength="62.8" lengthAdjust="spacingAndGlyphs">NES=-3.77</text>
<text x="342.6" y="675.7" font-size="12.1" stroke="#111" stroke-width="0.34">P&lt;0.001</text>
<text x="219.9" y="638.0" font-size="10.45" stroke="#111" stroke-width="0.34" textLength="194.3" lengthAdjust="spacingAndGlyphs">Downregulated genes in Dgcr8-/- EpiLC</text>
<text transform="translate(222.2,680.0) rotate(-90)" font-size="8.4" text-anchor="middle" stroke="#111" stroke-width="0.34" textLength="64.8" lengthAdjust="spacingAndGlyphs">Enrichment score</text>
<text transform="translate(222.2,776.8) rotate(-90)" font-size="8.4" text-anchor="middle" stroke="#111" stroke-width="0.34" textLength="68.0" lengthAdjust="spacingAndGlyphs">Ranked list metric</text>
<text x="240.4" y="812.0" font-size="6.0" text-anchor="middle" stroke="#111" stroke-width="0.34" textLength="3.6" lengthAdjust="spacingAndGlyphs">0</text>
<text x="271.0" y="812.0" font-size="6.0" text-anchor="middle" stroke="#111" stroke-width="0.34" textLength="16.1" lengthAdjust="spacingAndGlyphs">2,500</text>
<text x="301.6" y="812.0" font-size="6.0" text-anchor="middle" stroke="#111" stroke-width="0.34" textLength="16.1" lengthAdjust="spacingAndGlyphs">5,000</text>
<text x="332.1" y="812.0" font-size="6.0" text-anchor="middle" stroke="#111" stroke-width="0.34" textLength="16.1" lengthAdjust="spacingAndGlyphs">7,500</text>
<text x="362.6" y="812.0" font-size="6.0" text-anchor="middle" stroke="#111" stroke-width="0.34" textLength="19.7" lengthAdjust="spacingAndGlyphs">10,000</text>
<text x="393.2" y="812.0" font-size="6.0" text-anchor="middle" stroke="#111" stroke-width="0.34" textLength="19.7" lengthAdjust="spacingAndGlyphs">12,500</text>
<text x="278.1" y="819.7" font-size="7.8" stroke="#111" stroke-width="0.34" textLength="96.7" lengthAdjust="spacingAndGlyphs">Rank in Ordered Dataset</text>
<rect x="217.60" y="823.40" width="198.00" height="10.40" fill="#fbfbf8" stroke="#555" stroke-width="0.8"/>
<line x1="219.4" y1="829.0" x2="229.1" y2="829.0" stroke="#6cbf4e" stroke-width="1.6"/>
<text x="229.8" y="831.4" font-size="6.7" stroke="#111" stroke-width="0.34">Enrichment profile</text>
<line x1="291.1" y1="829.0" x2="300.8" y2="829.0" stroke="#222" stroke-width="0.9"/>
<text x="301.5" y="831.4" font-size="6.7" stroke="#111" stroke-width="0.34">Hits</text>
<line x1="320.2" y1="825.6" x2="328.3" y2="825.6" stroke="#bbb" stroke-width="0.8"/>
<line x1="331.6" y1="829.0" x2="341.2" y2="829.0" stroke="#ccc" stroke-width="1.2"/>
<text x="342.2" y="831.4" font-size="6.65" stroke="#111" stroke-width="0.34">Ranking metric scores</text>
<text x="424.8" y="605.6" font-size="17.2" stroke="#111" stroke-width="0.34">F</text>
<line x1="471.9" y1="610.9" x2="471.9" y2="872.6" stroke="#000" stroke-width="1.6"/>
<line x1="471.6" y1="871.8" x2="618.5" y2="871.8" stroke="#000" stroke-width="1.6"/>
<line x1="468.6" y1="871.8" x2="471.9" y2="871.8" stroke="#000" stroke-width="1.4"/>
<text x="467.3" y="875.9" font-size="11.6" text-anchor="end" stroke="#111" stroke-width="0.34">0.0</text>
<line x1="468.6" y1="839.5" x2="471.9" y2="839.5" stroke="#000" stroke-width="1.4"/>
<text x="467.3" y="843.6" font-size="11.6" text-anchor="end" stroke="#111" stroke-width="0.34">0.2</text>
<line x1="468.6" y1="807.2" x2="471.9" y2="807.2" stroke="#000" stroke-width="1.4"/>
<text x="467.3" y="811.3" font-size="11.6" text-anchor="end" stroke="#111" stroke-width="0.34">0.4</text>
<line x1="468.6" y1="774.9" x2="471.9" y2="774.9" stroke="#000" stroke-width="1.4"/>
<text x="467.3" y="779.0" font-size="11.6" text-anchor="end" stroke="#111" stroke-width="0.34">0.6</text>
<line x1="468.6" y1="742.6" x2="471.9" y2="742.6" stroke="#000" stroke-width="1.4"/>
<text x="467.3" y="746.7" font-size="11.6" text-anchor="end" stroke="#111" stroke-width="0.34">0.8</text>
<line x1="468.6" y1="710.3" x2="471.9" y2="710.3" stroke="#000" stroke-width="1.4"/>
<text x="467.3" y="714.4" font-size="11.6" text-anchor="end" stroke="#111" stroke-width="0.34">1.0</text>
<line x1="468.6" y1="678.0" x2="471.9" y2="678.0" stroke="#000" stroke-width="1.4"/>
<text x="467.3" y="682.1" font-size="11.6" text-anchor="end" stroke="#111" stroke-width="0.34">1.2</text>
<line x1="468.6" y1="645.7" x2="471.9" y2="645.7" stroke="#000" stroke-width="1.4"/>
<text x="467.3" y="649.8" font-size="11.6" text-anchor="end" stroke="#111" stroke-width="0.34">1.4</text>
<line x1="468.6" y1="613.4" x2="471.9" y2="613.4" stroke="#000" stroke-width="1.4"/>
<text x="467.3" y="617.5" font-size="11.6" text-anchor="end" stroke="#111" stroke-width="0.34">1.6</text>
<text transform="translate(444.0,742.5) rotate(-90)" font-size="12.2" text-anchor="middle" stroke="#111" stroke-width="0.34">Relative colony number</text>
<rect x="480.10" y="710.30" width="14.40" height="161.50" fill="#2b52a0" stroke="#111" stroke-width="1.6"/>
<line x1="487.3" y1="699.0" x2="487.3" y2="721.6" stroke="#000" stroke-width="1.5"/>
<line x1="484.9" y1="699.0" x2="489.7" y2="699.0" stroke="#000" stroke-width="1.5"/>
<line x1="484.9" y1="721.6" x2="489.7" y2="721.6" stroke="#000" stroke-width="1.5"/>
<rect x="499.70" y="687.69" width="14.40" height="184.11" fill="#b9e1e8" stroke="#111" stroke-width="1.6"/>
<line x1="506.9" y1="672.3" x2="506.9" y2="703.0" stroke="#000" stroke-width="1.5"/>
<line x1="504.5" y1="672.3" x2="509.3" y2="672.3" stroke="#000" stroke-width="1.5"/>
<line x1="504.5" y1="703.0" x2="509.3" y2="703.0" stroke="#000" stroke-width="1.5"/>
<rect x="519.60" y="669.92" width="14.40" height="201.88" fill="#22b5e0" stroke="#111" stroke-width="1.6"/>
<line x1="526.8" y1="632.0" x2="526.8" y2="707.9" stroke="#000" stroke-width="1.5"/>
<line x1="524.4" y1="632.0" x2="529.2" y2="632.0" stroke="#000" stroke-width="1.5"/>
<line x1="524.4" y1="707.9" x2="529.2" y2="707.9" stroke="#000" stroke-width="1.5"/>
<rect x="551.00" y="736.14" width="14.40" height="135.66" fill="#2b52a0" stroke="#111" stroke-width="1.6"/>
<line x1="558.2" y1="682.8" x2="558.2" y2="789.4" stroke="#000" stroke-width="1.5"/>
<line x1="555.8" y1="682.8" x2="560.6" y2="682.8" stroke="#000" stroke-width="1.5"/>
<line x1="555.8" y1="789.4" x2="560.6" y2="789.4" stroke="#000" stroke-width="1.5"/>
<rect x="570.30" y="843.70" width="14.40" height="28.10" fill="#b9e1e8" stroke="#111" stroke-width="1.6"/>
<line x1="577.5" y1="832.4" x2="577.5" y2="855.0" stroke="#000" stroke-width="1.5"/>
<line x1="575.1" y1="832.4" x2="579.9" y2="832.4" stroke="#000" stroke-width="1.5"/>
<line x1="575.1" y1="855.0" x2="579.9" y2="855.0" stroke="#000" stroke-width="1.5"/>
<rect x="590.30" y="835.46" width="14.40" height="36.34" fill="#22b5e0" stroke="#111" stroke-width="1.6"/>
<line x1="597.5" y1="810.4" x2="597.5" y2="860.5" stroke="#000" stroke-width="1.5"/>
<line x1="595.1" y1="810.4" x2="599.9" y2="810.4" stroke="#000" stroke-width="1.5"/>
<line x1="595.1" y1="860.5" x2="599.9" y2="860.5" stroke="#000" stroke-width="1.5"/>
<path d="M487.4 694.3 V610.9 H516 V627.5" fill="none" stroke="#333" stroke-width="1.1"/>
<line x1="499.7" y1="627.5" x2="533.5" y2="627.5" stroke="#333" stroke-width="1.1"/>
<path d="M499.70 606.30L499.70 603.00M499.70 606.30L502.84 605.28M499.70 606.30L501.64 608.97M499.70 606.30L497.76 608.97M499.70 606.30L496.56 605.28" stroke="#111" stroke-width="1.7" stroke-linecap="round" fill="none"/>
<path d="M557.7 676 V668.5 H587.3 V803.4" fill="none" stroke="#333" stroke-width="1.1"/>
<line x1="570.0" y1="803.4" x2="604.6" y2="803.4" stroke="#333" stroke-width="1.1"/>
<path d="M572.50 662.60L572.50 659.30M572.50 662.60L575.64 661.58M572.50 662.60L574.44 665.27M572.50 662.60L570.56 665.27M572.50 662.60L569.36 661.58" stroke="#111" stroke-width="1.7" stroke-linecap="round" fill="none"/>
<rect x="540.60" y="607.00" width="12.80" height="12.20" fill="#2b52a0" stroke="#111" stroke-width="1.2"/>
<text x="560.1" y="616.8" font-size="9.8" stroke="#111" stroke-width="0.34">Mock</text>
<rect x="540.60" y="624.50" width="12.80" height="12.20" fill="#b9e1e8" stroke="#111" stroke-width="1.2"/>
<text x="560.1" y="634.3" font-size="9.8" stroke="#111" stroke-width="0.34">miR-294</text>
<rect x="540.60" y="642.20" width="12.80" height="12.20" fill="#22b5e0" stroke="#111" stroke-width="1.2"/>
<text x="560.1" y="652.0" font-size="9.8" stroke="#111" stroke-width="0.34">miR-302a</text>
<path d="M596.80 698.60L596.80 694.60M596.80 698.60L600.60 697.36M596.80 698.60L599.15 701.84M596.80 698.60L594.45 701.84M596.80 698.60L593.00 697.36" stroke="#111" stroke-width="1.9" stroke-linecap="round" fill="none"/>
<text x="602.9" y="703.3" font-size="11.0" stroke="#111" stroke-width="0.34" textLength="43.8" lengthAdjust="spacingAndGlyphs">:P&lt;0.05</text>
<text x="594.4" y="759.0" font-size="12.4" stroke="#111" stroke-width="0.34">Dgcr8-/-</text>
<line x1="478.8" y1="876.2" x2="532.3" y2="876.2" stroke="#000" stroke-width="1.2"/>
<line x1="549.5" y1="876.2" x2="603.5" y2="876.2" stroke="#000" stroke-width="1.2"/>
<text x="506.4" y="887.5" font-size="12.0" text-anchor="middle" stroke="#111" stroke-width="0.34">ESC</text>
<text x="576.5" y="887.5" font-size="12.0" text-anchor="middle" stroke="#111" stroke-width="0.34">EpiLC</text>
</g>
</svg></body></html>
